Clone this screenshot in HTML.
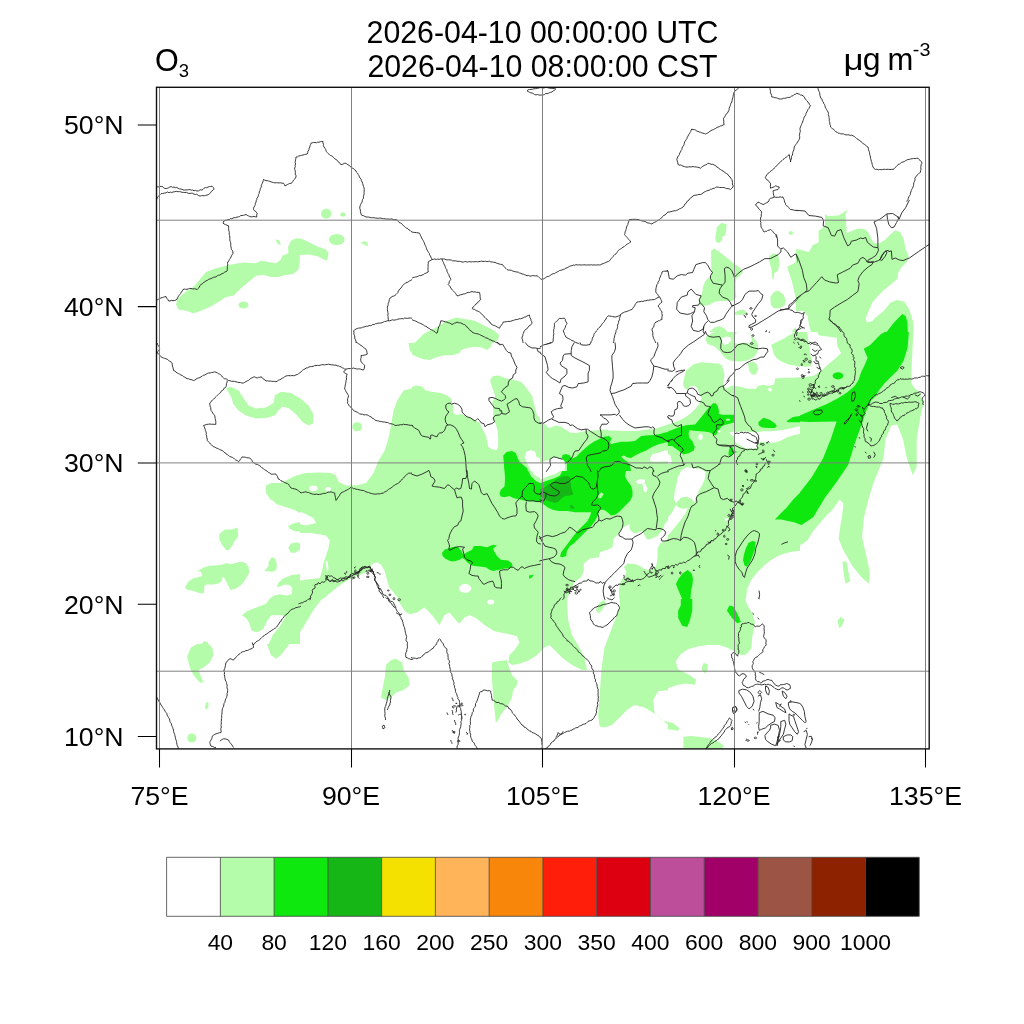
<!DOCTYPE html><html><head><meta charset="utf-8"><style>html,body{margin:0;padding:0;background:#fff;width:1024px;height:1024px;overflow:hidden}svg{display:block} svg text{will-change:transform}</style></head><body>
<svg width="1024" height="1024" viewBox="0 0 1024 1024">
<rect width="1024" height="1024" fill="#fff"/>
<g id="map"><defs>
<clipPath id="c_t11"><rect x="156" y="87" width="256.0" height="256.0"/></clipPath>
<clipPath id="c_t12"><rect x="412" y="87" width="256.0" height="256.0"/></clipPath>
<clipPath id="c_t13"><rect x="668" y="87" width="262" height="256"/></clipPath>
<clipPath id="c_z_ne"><rect x="796" y="200" width="134" height="132"/></clipPath>
<clipPath id="c_z_bj"><rect x="668" y="236" width="128" height="104"/></clipPath>
<clipPath id="c_t21"><rect x="156" y="343" width="256.0" height="256.0"/></clipPath>
<clipPath id="c_z22a"><rect x="412" y="343" width="128.0" height="128.0"/></clipPath>
<clipPath id="c_z22b"><rect x="540" y="343" width="128.0" height="128.0"/></clipPath>
<clipPath id="c_z22c"><rect x="412" y="471" width="128.0" height="128.0"/></clipPath>
<clipPath id="c_z22d"><rect x="540" y="471" width="128.0" height="128.0"/></clipPath>
<clipPath id="c_z23a"><rect x="668" y="332" width="132" height="132"/></clipPath>
<clipPath id="c_z23c"><rect x="668" y="464" width="132" height="135"/></clipPath>
<clipPath id="c_z23b"><rect x="800" y="332" width="130" height="68"/></clipPath>
<clipPath id="c_z_jp"><rect x="800" y="400" width="130" height="200"/></clipPath>
<clipPath id="c_t31"><rect x="156" y="599" width="256" height="150"/></clipPath>
<clipPath id="c_t32"><rect x="412" y="599" width="256" height="150"/></clipPath>
<clipPath id="c_t33"><rect x="668" y="599" width="262" height="150"/></clipPath>
<clipPath id="c_z21s"><rect x="157" y="500" width="143" height="144"/></clipPath>
<clipPath id="c_z23x"><rect x="668" y="380" width="66" height="66"/></clipPath>
<clipPath id="c_z_ph"><rect x="730" y="620" width="100" height="129"/></clipPath>
<clipPath id="c_ovl"><rect x="157" y="88" width="772" height="661"/></clipPath>
<clipPath id="cmap"><rect x="157" y="88" width="772" height="661"/></clipPath>
</defs><g clip-path="url(#cmap)">
<g clip-path="url(#c_t11)">
<polygon points="176.0,304.5 177.2,299.5 182.2,294.5 187.2,290.8 193.5,287.0 199.8,279.5 206.0,272.0 216.0,268.2 231.0,264.5 243.5,262.5 256.0,263.2 261.0,260.8 268.5,262.0 276.0,263.2 281.0,259.5 282.2,255.8 288.5,253.2 288.0,247.0 291.0,240.8 296.0,238.2 302.2,239.0 308.5,242.0 318.5,247.0 326.0,249.5 328.5,253.2 327.2,260.8 323.5,259.5 318.5,256.5 308.5,254.5 299.8,255.0 299.8,262.0 298.5,269.5 293.5,274.0 286.0,275.0 278.5,277.0 271.0,277.0 263.5,275.0 256.0,275.8 248.5,282.0 241.0,288.2 233.5,295.8 226.0,297.0 218.5,302.0 209.8,307.0 201.0,310.8 193.5,313.2 186.0,310.8 178.5,309.5" fill="#b4fcaa"/>
<ellipse cx="243.5" cy="305.0" rx="5.0" ry="3.5" fill="#b4fcaa"/>
<polygon points="275.5,239.5 278.5,240.0 281.0,244.0 279.8,245.0 277.2,243.2" fill="#b4fcaa"/>
<ellipse cx="326.2" cy="213.8" rx="5.2" ry="5.0" fill="#b4fcaa"/>
<ellipse cx="343.0" cy="214.5" rx="2.8" ry="2.0" fill="#b4fcaa"/>
<ellipse cx="336.8" cy="239.5" rx="7.8" ry="5.5" fill="#b4fcaa"/>
<polygon points="360.5,242.5 364.8,241.0 367.2,242.5 368.0,246.5 364.8,245.0" fill="#b4fcaa"/>
</g>
<g clip-path="url(#c_t12)">
<rect x="412" y="87" width="256.0" height="256.0" fill="#fff"/>
<polygon points="414.5,343.0 424.5,333.2 437.0,327.0 447.0,320.8 455.8,317.5 464.5,319.0 474.5,320.8 484.5,325.8 494.5,330.8 499.5,335.8 497.0,340.8 494.5,343.0" fill="#b4fcaa"/>
</g>
<g clip-path="url(#c_t13)">
<rect x="668" y="87" width="262" height="256" fill="#fff"/>
<polygon points="715.5,237.0 716.8,227.0 721.8,222.8 726.8,224.5 725.5,234.5 721.8,242.0 718.0,243.2" fill="#b4fcaa"/>
<ellipse cx="790.8" cy="233.0" rx="2.2" ry="2.0" fill="#b4fcaa"/>
<polygon points="824.2,215.8 833.0,215.8 843.0,213.2 846.8,209.5 846.0,219.5 848.0,232.0 858.0,229.5 868.0,232.0 875.5,237.0 875.5,262.0 824.2,262.0" fill="#b4fcaa"/>
</g>
<g clip-path="url(#c_z_ne)">
<rect x="796" y="200" width="134" height="132" fill="#fff"/>
<polygon points="796.0,249.0 802.4,250.3 808.9,252.2 812.8,245.1 818.6,242.5 818.6,230.9 825.0,225.8 825.0,214.2 828.2,216.1 838.5,215.5 847.6,209.7 845.6,214.2 846.3,225.8 846.9,233.5 851.4,230.9 857.9,228.4 864.3,229.0 868.2,232.2 870.8,237.4 873.3,242.5 878.5,243.8 884.9,240.0 890.1,234.8 895.3,230.3 900.4,232.2 903.6,238.7 905.6,249.0 908.8,256.7 906.9,261.9 901.7,267.0 897.8,273.5 897.8,278.6 890.1,285.1 883.7,290.2 877.2,296.7 872.1,303.1 868.2,312.1 865.6,318.6 866.9,322.5 872.1,321.2 875.9,317.3 883.7,310.9 890.1,303.1 896.5,299.9 904.3,301.8 909.4,309.6 913.3,322.5 913.9,334.1 811.5,334.1 808.9,323.7 807.6,316.0 803.7,310.9 796.0,310.9" fill="#b4fcaa"/>
<polygon points="884.9,334.1 894.0,322.5 902.3,314.1 905.6,316.0 907.5,322.5 907.9,334.1" fill="#0ee80e"/>
</g>
<g clip-path="url(#c_z_bj)">
<rect x="668" y="236" width="128" height="104" fill="#fff"/>
<polygon points="715.1,234.7 722.4,234.7 722.4,240.0 718.5,243.3 715.8,241.3" fill="#b4fcaa"/>
<polygon points="711.2,250.6 714.5,248.6 721.1,253.3 727.8,258.6 734.4,263.9 739.7,267.2 743.0,271.9 739.7,275.8 736.4,278.5 735.7,282.5 735.7,291.8 736.4,297.1 734.4,299.8 731.7,301.1 727.8,301.1 722.4,301.1 718.5,301.1 713.1,302.4 709.2,305.1 703.8,305.7 699.9,305.1 699.2,299.8 701.9,294.4 703.2,286.5 705.2,281.2 709.2,277.2 711.8,274.5 711.2,267.9 711.2,257.3" fill="#b4fcaa"/>
<polygon points="733.7,313.0 738.4,310.4 743.7,309.7 747.0,312.4 745.0,314.4 739.7,315.0 734.4,314.4" fill="#b4fcaa"/>
<polygon points="768.9,255.9 774.2,253.3 778.2,255.3 779.6,262.6 778.2,270.5 774.2,273.2 773.6,279.8 772.2,278.5 771.6,269.2 769.6,262.6" fill="#b4fcaa"/>
<polygon points="770.3,297.1 774.2,291.8 778.2,290.5 783.5,294.4 785.5,299.8 784.9,305.1 780.9,307.7 774.2,308.4 770.9,305.1" fill="#b4fcaa"/>
<polygon points="787.5,266.5 796.8,261.9 802.1,261.2 802.1,311.7 796.2,310.4 796.2,305.1 795.5,297.1 793.5,287.8 791.5,279.8 788.2,270.5" fill="#b4fcaa"/>
<polygon points="783.5,342.3 788.9,334.3 795.5,327.6 802.1,325.0 802.1,342.3" fill="#b4fcaa"/>
<polygon points="798.4,249.3 800.8,248.6 800.8,253.9 798.8,253.3" fill="#b4fcaa"/>
<polygon points="709.8,331.6 714.5,327.6 719.8,326.3 725.1,329.0 729.1,334.3 733.1,336.9 734.4,342.3 709.8,342.3" fill="#b4fcaa"/>
</g>
<g clip-path="url(#c_t21)">
<rect x="156" y="343" width="256.0" height="256.0" fill="#fff"/>
<polygon points="226.0,388.0 231.0,386.8 238.5,390.5 243.5,398.0 248.5,405.5 256.0,408.5 266.0,407.5 273.5,403.0 274.8,395.5 281.0,391.8 291.0,393.0 299.8,398.0 308.5,405.5 313.5,414.2 313.5,423.0 308.5,425.5 302.2,421.8 296.0,414.2 288.5,408.0 282.2,406.8 278.5,410.5 274.8,415.5 266.0,418.0 256.0,418.5 246.0,415.5 238.5,410.5 233.5,404.2 231.0,396.8" fill="#b4fcaa"/>
<ellipse cx="357.2" cy="426.8" rx="5.0" ry="4.5" fill="#b4fcaa"/>
<polygon points="413.5,388.0 403.5,390.5 397.2,400.5 393.5,410.5 391.0,425.5 388.5,438.0 384.8,450.5 378.5,460.5 373.5,473.0 366.0,483.0 356.0,485.5 346.0,485.5 338.5,481.8 336.0,475.5 331.0,473.0 318.5,472.5 306.0,473.0 296.0,475.5 288.5,479.2 281.0,483.0 271.0,483.0 266.0,485.5 266.0,493.0 271.0,500.5 278.5,505.5 291.0,509.2 303.5,513.0 313.5,518.0 316.0,523.0 306.0,525.5 296.0,523.0 289.8,525.5 288.5,529.2 296.0,533.0 311.0,533.0 326.0,535.5 329.8,540.5 328.5,548.0 326.0,555.5 323.5,563.0 322.2,570.5 319.8,578.0 308.5,579.2 301.0,580.5 291.0,576.8 281.0,580.5 276.0,588.0 273.5,600.5 413.5,600.5" fill="#b4fcaa"/>
<polygon points="219.8,533.0 228.5,529.2 237.2,528.0 237.2,538.0 231.0,545.5 227.2,550.5 222.2,546.8 219.8,540.5" fill="#b4fcaa"/>
<ellipse cx="294.0" cy="547.5" rx="5.5" ry="5.0" fill="#b4fcaa"/>
<polygon points="266.0,570.5 271.0,558.0 276.0,559.2 277.2,568.0 273.5,571.8" fill="#b4fcaa"/>
<polygon points="186.0,588.0 193.5,579.2 201.0,571.8 211.0,568.0 223.5,564.2 233.5,561.8 243.5,563.0 248.5,568.0 248.5,575.5 243.5,583.0 236.0,586.8 228.5,589.2 223.5,585.5 218.5,583.0 213.5,584.2 206.0,589.2 198.5,593.0 188.5,591.8" fill="#b4fcaa"/>
<polygon points="408.5,343.0 413.5,343.0 413.5,354.2 409.8,350.5" fill="#b4fcaa"/>
<polygon points="316.0,613.0 317.5,608.0 323.5,598.5 330.5,592.8 337.5,587.0 344.5,582.2 350.5,578.8 358.5,575.2 365.5,572.8 370.2,569.2 371.5,564.5 376.2,562.2 381.0,564.5 384.5,570.5 386.8,578.8 389.0,587.0 393.8,592.8 398.5,598.5 403.0,605.5 405.5,612.8" fill="#ffffff"/>
<polygon points="325.5,561.8 327.5,561.0 328.5,569.2 326.8,571.0" fill="#ffffff"/>
<ellipse cx="313.5" cy="488.2" rx="4.2" ry="2.8" fill="#ffffff"/>
<ellipse cx="328.2" cy="489.0" rx="2.8" ry="2.0" fill="#ffffff"/>
</g>
<g clip-path="url(#c_z22a)">
<rect x="412" y="343" width="128.0" height="128.0" fill="#fff"/>
<polygon points="411.4,342.4 492.0,342.4 490.8,346.8 487.0,349.9 482.0,347.4 474.5,346.8 467.0,348.0 461.4,349.9 459.5,353.0 453.2,354.9 443.2,355.5 435.8,357.4 429.5,359.9 423.2,359.2 417.0,356.8 411.4,354.2" fill="#b4fcaa"/>
<polygon points="411.4,386.8 417.0,385.5 422.0,386.8 425.8,390.5 432.0,391.8 440.8,393.0 447.0,395.5 451.4,398.6 452.0,403.0 454.5,410.5 457.0,414.2 462.0,414.2 467.0,416.8 470.8,418.0 475.8,420.5 479.5,423.0 482.6,429.2 485.8,435.5 487.0,440.5 488.2,446.8 492.0,449.2 497.0,449.9 498.2,446.8 498.2,438.0 497.6,430.5 495.8,424.2 493.9,420.5 493.2,413.0 493.2,406.8 492.0,401.8 494.5,399.2 495.1,395.5 493.2,390.5 491.4,385.5 490.1,379.9 493.2,376.1 498.2,375.5 502.0,376.8 505.8,378.6 512.0,379.2 515.8,380.5 520.8,381.8 524.5,385.5 528.2,390.5 532.0,395.5 533.9,403.0 535.8,410.5 537.0,415.5 540.8,418.0 540.8,471.8 411.4,471.8" fill="#b4fcaa"/>
<polygon points="453.2,405.5 458.2,404.2 461.4,408.0 467.0,408.6 467.6,411.1 462.0,411.8 459.5,414.2 455.8,414.9 453.2,412.4" fill="#ffffff"/>
<polygon points="524.5,456.8 526.4,451.8 530.8,450.2 535.1,451.8 536.4,456.8 540.8,458.6 540.8,471.8 531.4,471.8 527.0,463.0" fill="#ffffff"/>
<polygon points="503.2,455.5 507.0,451.8 512.0,451.1 515.8,453.0 517.6,458.0 519.5,461.8 523.2,464.9 527.0,468.0 528.2,471.8 504.5,471.8" fill="#0ee80e"/>
</g>
<g clip-path="url(#c_z22b)">
<rect x="540" y="343" width="128.0" height="128.0" fill="#fff"/>
<polygon points="539.4,421.1 543.8,423.0 548.8,428.0 552.5,426.8 556.2,425.5 561.2,426.8 565.0,429.2 570.0,432.4 576.2,433.0 581.2,432.0 586.2,430.5 591.2,431.1 597.5,429.9 605.0,429.5 610.0,430.5 615.0,430.5 622.5,431.1 627.5,431.1 635.0,431.1 640.0,430.5 643.8,429.9 648.8,429.2 653.8,429.2 658.8,427.4 665.0,425.5 668.8,424.2 668.8,471.8 539.4,471.8" fill="#b4fcaa"/>
<polygon points="650.0,458.0 652.5,454.2 658.8,452.4 665.0,450.5 668.8,450.5 668.8,461.1 661.2,461.5 652.5,461.8 650.0,460.5" fill="#ffffff"/>
<polygon points="539.4,463.0 550.0,459.2 553.8,457.4 560.0,458.6 563.8,460.5 565.0,465.5 564.4,471.8 539.4,471.8" fill="#ffffff"/>
<polygon points="561.9,458.0 562.5,454.9 566.2,454.0 570.0,455.5 571.9,458.6 576.2,456.8 581.2,451.8 586.9,446.8 590.0,444.2 593.8,441.8 598.8,439.2 603.8,436.8 608.8,436.1 611.9,438.6 610.0,441.8 611.2,444.2 615.0,443.0 621.2,441.8 627.5,441.8 635.0,441.1 638.8,438.0 641.2,436.1 646.2,435.5 652.5,434.9 658.8,434.2 665.0,432.4 668.8,431.8 668.8,441.8 663.8,443.0 658.8,444.2 652.5,446.8 646.2,450.5 640.0,453.0 635.0,455.5 631.2,458.0 627.5,457.4 623.8,455.5 621.2,456.8 623.8,459.2 627.5,461.8 630.0,465.5 631.2,471.8 566.9,471.8 566.9,463.0 563.8,460.5" fill="#0ee80e"/>
</g>
<g clip-path="url(#c_z22c)">
<rect x="412" y="471" width="128.0" height="128.0" fill="#fff"/>
<polygon points="411.4,470.4 540.8,470.4 540.8,599.8 411.4,599.8" fill="#b4fcaa"/>
<polygon points="532.0,470.4 540.8,470.4 540.8,477.9 535.8,476.0 533.2,473.5" fill="#ffffff"/>
<ellipse cx="465.1" cy="588.5" rx="6.2" ry="4.4" fill="#ffffff"/>
<polygon points="504.5,470.4 528.2,470.4 530.8,476.0 535.8,481.0 540.8,483.5 540.8,502.2 535.8,501.6 530.8,501.0 525.8,501.0 520.8,499.8 517.0,499.1 513.2,497.9 509.5,496.0 504.5,497.2 500.8,496.6 499.5,493.5 500.8,489.8 504.5,486.6 505.1,478.5" fill="#0ee80e"/>
<polygon points="442.0,552.9 444.5,549.8 449.5,547.9 454.5,546.6 458.2,547.2 461.4,551.0 463.2,554.8 467.0,552.2 472.0,549.8 473.9,546.0 480.8,546.0 487.0,547.2 490.1,546.0 493.2,544.8 497.0,545.4 493.2,548.5 493.9,551.0 497.0,556.0 500.8,559.8 508.2,560.4 512.0,563.5 512.6,566.0 509.5,568.5 504.5,568.5 499.5,569.8 493.2,571.0 489.5,569.8 485.8,567.2 479.5,566.6 474.5,566.0 472.0,565.4 469.5,564.1 467.0,562.2 465.1,559.8 462.0,557.9 459.5,559.8 455.8,561.0 452.0,561.6 448.9,560.4 445.1,558.5 442.6,556.0" fill="#0ee80e"/>
<polygon points="528.9,575.4 533.9,574.8 532.0,577.2 529.5,579.1" fill="#0ee80e"/>
</g>
<g clip-path="url(#c_z22d)">
<rect x="540" y="471" width="128.0" height="128.0" fill="#fff"/>
<polygon points="539.4,470.4 668.8,470.4 668.8,599.8 539.4,599.8" fill="#b4fcaa"/>
<polygon points="539.4,470.4 561.2,470.4 555.0,474.1 547.5,476.6 542.5,478.5 539.4,479.8" fill="#ffffff"/>
<polygon points="636.2,481.0 640.0,479.1 645.0,479.8 644.4,483.5 640.0,484.1 636.9,483.5" fill="#ffffff"/>
<polygon points="642.5,484.1 645.0,483.5 647.5,488.5 646.2,492.2 643.8,491.6" fill="#ffffff"/>
<polygon points="581.2,577.2 583.8,571.0 583.8,563.5 590.0,558.5 598.8,557.2 600.0,552.2 607.5,549.8 612.5,547.2 613.8,538.5 618.8,533.5 621.2,528.5 626.2,526.0 629.4,524.1 630.0,529.8 632.5,532.2 635.0,533.5 638.8,532.2 642.5,531.0 646.2,538.5 648.8,539.8 657.5,536.0 662.5,529.8 665.0,523.5 668.8,519.8 668.8,537.2 665.0,541.0 660.0,543.5 657.5,548.5 657.5,558.5 656.2,566.0 652.5,569.8 647.5,569.8 643.8,568.5 640.0,566.0 635.0,564.1 627.5,563.5 623.8,567.2 626.2,571.0 625.0,576.0 622.5,578.5 620.0,583.5 618.8,589.8 619.4,599.8 566.2,599.8 570.0,592.2 573.8,583.5 577.5,579.8" fill="#ffffff"/>
<polygon points="539.4,483.5 547.5,480.4 555.0,477.9 560.0,475.4 562.5,470.4 626.2,470.4 625.0,476.0 627.5,481.0 631.2,486.0 632.5,491.0 632.5,496.0 630.0,501.0 626.2,504.8 622.5,508.5 618.8,512.2 615.0,514.8 611.2,515.4 607.5,512.2 603.8,509.8 600.0,509.8 598.8,512.2 597.5,516.0 595.0,521.0 591.2,526.0 587.5,529.8 582.5,534.8 577.5,539.8 573.8,543.5 570.0,546.0 566.9,551.0 566.2,556.0 562.5,557.2 560.0,556.6 561.2,552.2 565.0,547.2 568.8,542.2 572.5,537.2 577.5,531.0 582.5,526.0 587.5,521.0 590.0,516.0 591.2,512.2 575.0,512.2 567.5,511.0 558.8,511.0 552.5,509.8 547.5,507.2 542.5,503.5 539.4,502.2" fill="#0ee80e"/>
<polygon points="598.1,496.0 601.2,492.2 603.8,494.1 601.2,497.9 598.8,498.5" fill="#b4fcaa"/>
<polygon points="539.4,489.8 545.0,487.2 547.5,484.8 552.5,482.2 557.5,478.5 562.5,476.6 567.5,476.0 570.0,477.2 570.6,482.2 571.2,487.2 572.5,492.2 573.8,494.1 570.0,495.4 565.0,496.0 561.2,498.5 558.8,501.6 555.0,502.9 550.0,501.6 546.2,499.8 542.5,497.2 539.4,496.6" fill="#17b617"/>
<polygon points="570.0,504.8 572.5,505.4 575.0,508.5 570.6,508.5" fill="#17b617"/>
</g>
<g clip-path="url(#c_z23a)">
<rect x="668" y="332" width="132" height="132" fill="#fff"/>
<polygon points="705.4,339.7 706.7,335.9 711.8,333.3 717.0,331.4 745.3,331.4 750.5,334.6 755.7,339.7 758.2,344.9 758.2,350.0 755.7,355.2 750.5,359.1 745.3,361.0 737.6,361.6 729.9,360.4 724.7,357.8 720.8,352.6 714.4,346.2 708.0,344.2" fill="#b4fcaa"/>
<polygon points="722.1,338.4 726.0,336.5 730.5,337.2 731.2,340.4 728.6,343.6 724.7,344.9 722.1,342.3" fill="#ffffff"/>
<polygon points="734.0,339.7 734.5,335.4 737.2,332.3 741.6,331.0 746.9,332.3 750.8,335.4 751.8,340.8 749.6,343.5 743.7,342.4 738.3,344.0 735.2,343.0" fill="#ffffff"/>
<polygon points="771.1,344.9 776.3,342.3 784.0,338.4 790.5,334.6 796.9,331.4 800.8,331.4 800.8,366.8 794.3,365.5 787.9,364.2 781.4,361.6 776.3,357.8 773.7,353.9 772.4,348.8" fill="#b4fcaa"/>
<polygon points="747.9,362.9 753.1,361.6 756.9,364.2 758.2,369.4 755.7,374.5 751.8,374.5 749.2,370.7" fill="#b4fcaa"/>
<polygon points="683.5,381.0 686.0,370.7 693.8,364.2 701.5,362.3 709.2,362.9 718.3,363.6 722.1,365.5 723.4,370.7 724.7,375.8 723.4,379.7 719.6,383.6 713.1,388.7 706.7,392.6 700.2,393.9 693.8,391.3 687.3,388.7 684.1,386.1" fill="#b4fcaa"/>
<polygon points="667.4,423.5 675.7,420.9 683.5,417.1 691.2,413.2 697.6,409.3 700.2,404.2 697.6,396.4 701.5,393.9 706.7,392.6 713.1,388.7 719.6,384.8 726.0,386.1 732.4,385.5 740.2,386.8 747.9,388.7 755.7,388.7 758.2,386.1 763.4,384.8 768.5,386.1 773.7,384.8 775.0,381.0 775.0,378.4 784.0,377.8 791.7,377.8 800.8,377.1 800.8,464.8 667.4,464.8" fill="#b4fcaa"/>
<polygon points="728.6,433.8 735.0,431.9 745.3,431.3 755.7,432.5 763.4,431.3 771.1,431.3 778.9,430.6 786.6,429.3 794.3,427.4 800.8,426.1 800.8,433.8 794.3,435.1 787.9,437.1 781.4,440.3 776.3,442.2 768.5,442.9 760.8,441.6 758.2,444.1 756.9,448.0 751.8,448.7 745.3,448.0 740.2,445.4 736.3,442.9 732.4,439.0" fill="#ffffff"/>
<ellipse cx="700.2" cy="437.4" rx="2.3" ry="2.8" fill="#ffffff"/>
<polygon points="767.3,389.4 769.8,387.4 772.4,389.4 770.5,391.9" fill="#ffffff"/>
<polygon points="667.4,453.2 670.6,455.7 671.9,460.9 670.6,464.8 667.4,464.8" fill="#ffffff"/>
<polygon points="758.2,422.2 763.4,417.7 769.8,419.7 775.0,423.5 776.9,426.1 775.0,428.0 768.5,428.0 762.1,427.4 758.9,425.5" fill="#0ee80e"/>
<polygon points="786.6,420.9 793.0,417.1 800.8,415.8 800.8,422.2 793.0,422.2 787.9,422.2" fill="#0ee80e"/>
<polygon points="697.6,422.2 704.1,414.5 709.2,409.3 713.1,404.2 717.0,404.2 718.3,409.3 719.6,414.5 727.3,414.5 733.7,415.8 735.0,418.4 732.4,422.2 728.6,423.5 722.1,424.8 718.3,426.1 715.7,431.3 714.4,435.1 710.5,435.1 704.1,432.5 697.6,431.3 689.9,430.0 688.0,433.8 688.6,437.7 692.5,441.6 695.1,445.4 693.8,450.6 688.6,453.2 683.5,454.5 678.3,450.6 673.2,446.7 669.3,444.1 667.4,442.9 667.4,432.5 673.2,430.0 680.9,426.1 688.6,424.8" fill="#0ee80e"/>
<polygon points="728.6,451.9 729.9,446.7 732.4,446.7 733.7,450.6 737.6,451.9 733.7,453.2 731.2,455.7 728.6,455.7" fill="#0ee80e"/>
<polygon points="724.7,419.7 728.6,418.4 729.9,420.9 726.0,420.9" fill="#b4fcaa"/>
</g>
<g clip-path="url(#c_z23c)">
<rect x="668" y="464" width="132" height="135" fill="#fff"/>
<polygon points="667.3,463.3 803.8,463.3 803.8,599.8 667.3,599.8" fill="#b4fcaa"/>
<polygon points="674.6,493.0 675.9,486.4 677.9,477.2 681.2,470.6 686.5,467.3 693.0,468.0 701.0,469.3 705.6,471.9 704.9,478.5 702.3,485.1 698.3,491.7 696.3,497.0 694.4,502.2 691.7,498.9 686.5,496.7 681.2,497.6 677.9,500.9 675.9,503.6 673.9,498.3" fill="#ffffff"/>
<polygon points="667.3,518.1 672.0,512.8 675.9,504.9 678.5,507.5 682.5,508.8 687.8,508.2 685.1,514.1 681.2,519.4 675.9,526.0 670.6,532.6 667.3,535.9" fill="#ffffff"/>
<polygon points="745.8,599.8 747.1,589.2 751.1,580.0 757.7,572.1 764.2,565.5 770.8,560.2 777.4,556.3 784.0,553.7 791.9,551.7 803.8,550.4 803.8,599.8" fill="#ffffff"/>
<polygon points="724.7,518.7 728.6,518.3 728.6,520.7 725.0,521.0" fill="#ffffff"/>
<polygon points="774.8,519.4 780.1,514.1 786.7,507.5 793.2,499.6 803.8,489.0 803.8,526.0 793.2,522.0 786.7,520.7 781.4,519.4" fill="#0ee80e"/>
<polygon points="743.8,555.0 745.8,548.4 748.4,543.1 752.4,541.1 755.7,541.8 755.0,548.4 753.0,555.0 750.4,561.6 747.1,566.8 744.5,565.5 743.1,560.2" fill="#0ee80e"/>
<polygon points="675.9,584.0 678.5,578.7 682.5,573.4 687.8,570.1 691.7,573.4 693.0,578.7 692.4,585.3 691.1,590.6 690.4,599.8 682.5,599.8 678.5,590.6" fill="#0ee80e"/>
</g>
<g clip-path="url(#c_z23b)">
<rect x="800" y="332" width="130" height="68" fill="#fff"/>
<polygon points="797.4,331.4 930.8,331.4 930.8,464.8 797.4,464.8" fill="#b4fcaa"/>
<polygon points="807.0,331.4 817.3,331.4 818.6,335.2 836.7,337.8 837.3,346.2 841.2,353.3 834.7,359.1 828.3,364.2 821.2,370.7 813.5,375.8 805.7,377.1 797.4,377.8 797.4,365.5 805.7,366.8 810.9,366.2 812.2,361.0 810.2,353.9 809.0,344.9" fill="#ffffff"/>
<polygon points="913.4,331.4 930.8,331.4 930.8,401.6 921.1,401.6 920.5,392.6 915.3,388.7 911.4,383.6 911.4,370.7 912.1,357.8 912.7,344.9" fill="#ffffff"/>
<polygon points="863.7,348.8 870.2,344.9 875.3,339.7 880.5,334.6 885.7,331.4 908.9,331.4 907.6,347.5 903.7,360.4 897.3,370.7 890.8,377.1 884.4,383.6 879.2,390.0 875.3,396.4 870.2,401.6 865.0,406.8 861.2,413.2 857.3,422.2 852.1,435.1 849.6,448.0 847.0,464.8 819.9,464.8 827.6,448.0 834.1,432.5 839.2,420.9 823.8,420.9 810.9,419.7 797.4,417.1 797.4,414.5 810.9,408.1 823.8,404.2 836.7,399.0 847.0,392.6 854.7,386.1 858.6,379.7 861.2,372.0 865.0,364.2 867.6,357.8" fill="#0ee80e"/>
<ellipse cx="838.0" cy="375.8" rx="5.4" ry="3.6" fill="#0ee80e"/>
</g>
<g clip-path="url(#c_z_jp)">
<rect x="800" y="400" width="130" height="200" fill="#fff"/>
<polygon points="779.0,399.0 981.2,399.0 981.2,601.2 779.0,601.2" fill="#b4fcaa"/>
<polygon points="883.5,458.6 885.5,439.1 891.3,425.4 897.2,424.4 903.0,439.1 907.0,458.6 912.8,475.2 916.7,466.4 916.7,439.1 920.6,415.6 924.5,399.0 936.2,399.0 936.2,601.2 868.9,601.2 868.9,583.6 869.8,571.9 865.9,554.3 862.0,536.7 864.0,517.2 867.9,501.6 873.8,482.0 878.6,470.3" fill="#ffffff"/>
<polygon points="779.0,552.3 789.8,548.4 801.5,544.5 807.3,540.6 813.2,530.9 824.9,517.2 832.7,509.4 839.6,499.6 843.5,503.5 842.5,513.3 840.5,525.0 838.6,538.7 842.5,548.4 852.3,566.0 862.0,577.7 868.9,583.6 868.9,601.2 779.0,601.2" fill="#ffffff"/>
<polygon points="842.5,562.1 846.4,561.1 850.3,581.6 845.4,583.6 843.5,571.9" fill="#b4fcaa"/>
<polygon points="779.0,429.3 787.8,427.3 799.5,427.3 797.6,432.2 787.8,437.1 779.0,440.0" fill="#ffffff"/>
<polygon points="787.8,419.5 799.5,415.6 813.2,409.8 826.9,403.9 836.6,399.0 871.8,399.0 865.9,411.7 862.0,423.4 854.2,444.9 848.4,464.5 836.6,482.0 824.9,497.7 813.2,517.2 801.5,525.0 789.8,521.1 779.0,517.2 779.0,511.3 795.6,497.7 811.2,478.1 823.0,458.6 830.8,439.1 836.6,421.5 809.3,421.9 787.8,421.1" fill="#0ee80e"/>
</g>
<g clip-path="url(#c_t31)">
<rect x="156" y="599" width="256" height="150" fill="#fff"/>
<polygon points="242.2,615.0 251.0,608.8 261.0,605.0 271.0,597.5 281.0,595.0 291.0,595.0 296.0,588.8 331.0,588.8 328.5,593.8 321.0,600.0 313.5,610.0 306.0,622.5 298.5,635.0 288.5,645.0 281.0,655.0 276.0,658.8 271.0,655.0 267.2,645.0 268.5,637.5 276.0,630.0 283.5,620.0 281.0,615.0 271.0,615.0 266.0,622.5 263.5,630.0 256.0,631.2 249.8,627.5 247.2,620.0" fill="#b4fcaa"/>
<polygon points="187.2,656.2 191.0,647.5 199.8,642.5 207.2,642.5 212.2,647.5 213.5,655.0 209.8,662.5 203.5,667.5 198.5,670.0 201.0,676.2 203.5,682.5 199.8,682.5 193.5,675.0 189.8,667.5" fill="#b4fcaa"/>
<polygon points="204.8,707.5 206.0,702.5 208.5,702.0 208.5,707.5 206.0,709.5" fill="#b4fcaa"/>
<ellipse cx="191.8" cy="738.0" rx="4.5" ry="4.5" fill="#b4fcaa"/>
<polygon points="386.0,665.0 391.0,660.0 396.0,658.8 402.2,662.5 403.5,670.0 408.5,677.5 409.8,685.0 403.5,690.0 396.0,692.5 391.0,697.5 386.0,700.0 381.0,697.5 382.2,690.0 384.8,677.5" fill="#b4fcaa"/>
<polygon points="391.0,588.8 413.5,588.8 413.5,615.0 406.0,612.5 401.0,605.0 396.0,597.5" fill="#b4fcaa"/>
</g>
<g clip-path="url(#c_t32)">
<rect x="412" y="599" width="256" height="150" fill="#fff"/>
<polygon points="410.8,588.8 568.2,588.8 567.0,605.0 568.2,620.0 572.0,635.0 579.5,647.5 584.5,657.5 587.0,670.0 582.0,670.0 572.0,665.0 562.0,657.5 554.5,650.0 549.5,645.0 544.5,647.5 537.0,655.0 529.5,660.0 519.5,663.8 512.0,665.0 508.2,662.5 509.5,655.0 514.5,650.0 519.5,642.5 517.0,636.2 507.0,633.8 494.5,631.2 484.5,625.0 477.0,618.8 469.5,615.0 464.5,617.5 459.5,623.8 455.8,620.0 449.5,612.5 444.5,615.0 439.5,625.0 432.0,615.0 424.5,607.5 417.0,612.5 410.8,613.8" fill="#b4fcaa"/>
<ellipse cx="490.8" cy="602.0" rx="3.5" ry="2.5" fill="#ffffff"/>
<polygon points="619.5,588.8 669.5,588.8 669.5,690.0 658.2,691.2 653.2,700.0 654.5,712.5 662.0,720.0 669.5,722.5 669.5,726.2 657.0,715.0 644.5,707.5 634.5,705.0 627.0,710.0 619.5,717.5 612.0,725.0 604.5,727.5 599.5,726.2 598.2,715.0 599.5,697.5 600.8,677.5 602.0,665.0 604.5,647.5 612.0,627.5 617.0,615.0 620.0,605.0" fill="#b4fcaa"/>
<polygon points="492.0,662.5 498.2,661.2 507.0,660.0 508.2,665.0 512.0,675.0 517.0,680.0 517.0,685.0 513.2,690.0 512.0,697.5 508.2,705.0 504.5,710.0 500.8,715.0 498.2,720.0 495.8,722.5 494.5,710.0 493.2,695.0 492.0,680.0" fill="#b4fcaa"/>
<polygon points="595.8,610.0 599.5,602.5 604.5,600.0 605.8,605.0 602.0,610.0 598.2,613.8" fill="#b4fcaa"/>
</g>
<g clip-path="url(#c_t33)">
<rect x="668" y="599" width="262" height="150" fill="#fff"/>
<polygon points="666.7,588.7 744.8,588.7 744.8,597.7 747.3,605.4 752.4,613.0 755.0,623.3 752.4,636.1 751.2,648.9 744.8,655.3 737.1,654.0 732.0,650.1 726.9,647.6 719.2,645.0 708.9,645.0 698.7,646.3 688.5,648.9 680.8,654.0 675.7,661.6 678.2,669.3 688.5,674.4 696.1,679.6 694.9,684.7 685.9,683.4 678.2,684.7 670.6,687.2 666.7,688.5" fill="#b4fcaa"/>
<polygon points="678.2,610.5 680.8,605.4 680.8,595.1 679.5,588.7 691.0,588.7 692.3,597.7 692.3,610.5 689.8,620.7 687.2,627.1 682.1,625.8 678.2,618.1" fill="#0ee80e"/>
<polygon points="726.9,610.5 729.4,605.4 733.3,606.6 737.1,613.0 740.9,622.0 737.1,623.3 732.0,618.1" fill="#0ee80e"/>
<polygon points="701.8,666.8 703.8,662.9 707.7,664.2 707.7,670.6 705.1,673.2 701.8,670.6" fill="#b4fcaa"/>
<polygon points="837.4,620.7 840.7,616.9 844.6,619.4 842.0,625.8 839.4,628.4" fill="#b4fcaa"/>
<polygon points="666.7,721.8 673.1,723.1 679.5,728.2 678.2,730.7 670.6,729.5 666.7,729.5" fill="#b4fcaa"/>
<polygon points="683.4,737.1 691.0,735.9 701.3,737.1 711.5,738.4 719.2,742.3 724.3,746.1 719.2,751.2 683.4,751.2" fill="#b4fcaa"/>
</g>
<g clip-path="url(#c_z21s)">
<rect x="157" y="500" width="143" height="144" fill="#fff"/>
<polygon points="271.3,499.3 276.9,504.2 285.4,507.0 293.8,509.8 300.8,513.4 300.8,499.3" fill="#b4fcaa"/>
<polygon points="288.2,526.0 293.8,523.2 300.8,521.8 300.8,531.6 295.2,531.6 289.6,528.8" fill="#b4fcaa"/>
<polygon points="288.2,547.8 291.0,543.6 296.6,542.2 300.8,543.6 300.8,549.2 295.2,552.7 291.0,552.7" fill="#b4fcaa"/>
<polygon points="264.3,571.0 268.5,566.1 268.5,561.9 272.0,557.0 275.5,559.1 276.9,564.7 276.2,570.3 272.7,571.7" fill="#b4fcaa"/>
<polygon points="184.8,587.9 188.3,581.6 194.0,578.0 198.2,577.3 202.4,575.9 201.0,571.7 197.5,571.0 203.8,567.5 209.4,565.8 220.7,565.0 226.3,563.3 231.9,564.0 237.6,562.6 241.8,561.6 246.0,563.3 248.8,567.5 249.1,573.1 246.0,578.8 241.8,584.4 236.2,588.6 230.5,590.0 227.7,584.4 224.9,578.8 222.8,576.6 221.4,581.6 217.9,583.7 212.3,584.4 206.6,584.4 204.5,585.8 203.8,593.5 198.2,592.8 192.6,590.7 188.3,590.0" fill="#b4fcaa"/>
<polygon points="219.3,539.4 219.3,533.8 224.9,529.5 231.9,529.5 237.6,527.4 238.3,536.6 234.8,540.8 232.6,545.0 229.1,549.9 226.3,550.3 222.1,545.0" fill="#b4fcaa"/>
<polygon points="300.8,573.8 291.0,575.2 282.6,578.8 278.3,583.0 276.9,587.2 279.8,586.5 285.4,584.4 289.6,585.1 292.4,588.6 291.7,594.2 286.8,595.6 279.8,594.2 274.1,595.6 269.9,598.4 265.7,604.1 254.4,608.3 247.4,611.1 241.8,615.3 246.0,618.1 248.8,622.3 251.6,630.8 257.3,632.2 262.9,629.4 267.1,620.9 271.3,615.3 282.6,615.3 285.4,616.7 279.8,626.6 272.7,635.0 268.5,644.8 300.8,644.8" fill="#b4fcaa"/>
<polygon points="201.0,644.8 203.8,641.3 207.3,642.0 208.7,644.8" fill="#b4fcaa"/>
</g>
<g clip-path="url(#c_z23x)">
<rect x="668" y="380" width="66" height="66" fill="#fff"/>
<polygon points="667.7,379.7 734.4,379.7 734.4,446.4 667.7,446.4" fill="#b4fcaa"/>
<polygon points="667.7,379.7 683.5,379.7 683.1,384.5 684.4,387.7 687.3,389.7 690.6,386.1 695.1,386.1 697.6,388.4 699.6,394.2 701.5,398.0 698.9,404.5 695.7,408.4 690.6,413.5 684.1,418.0 677.7,421.2 671.2,423.2 667.7,424.5" fill="#ffffff"/>
<polygon points="723.4,379.7 734.4,379.7 734.4,385.2 729.9,386.4 727.3,388.4 724.7,387.7 723.4,383.9" fill="#ffffff"/>
<polygon points="667.7,431.5 674.4,429.0 680.9,426.4 687.3,425.1 695.1,424.5 698.9,419.9 704.1,413.5 709.2,407.1 713.1,403.2 715.7,403.2 717.6,405.8 718.9,410.3 718.9,414.1 722.8,414.8 734.4,414.8 734.4,422.5 729.2,423.8 724.7,425.1 721.5,426.4 718.9,430.3 717.0,433.5 715.7,435.4 713.1,434.1 709.2,432.2 704.1,431.5 696.4,430.9 689.3,430.3 688.6,433.5 689.3,438.0 692.5,441.2 694.4,446.4 667.7,446.4" fill="#0ee80e"/>
<polygon points="726.0,418.7 729.9,418.7 730.0,420.6 726.1,420.7" fill="#b4fcaa"/>
<ellipse cx="700.5" cy="437.0" rx="2.1" ry="2.9" fill="#ffffff"/>
<polygon points="717.0,430.9 719.5,429.9 720.8,431.5 718.9,432.8" fill="#ffffff"/>
<polygon points="729.2,432.8 734.4,431.5 734.4,436.7 731.8,435.4" fill="#ffffff"/>
</g>
<g clip-path="url(#c_z_ph)">
</g>
<g clip-path="url(#c_ovl)">
</g>
<mask id="m_t11" maskUnits="userSpaceOnUse" x="0" y="0" width="1024" height="1024"><rect x="154.4" y="85.4" width="259.20000000000005" height="259.20000000000005" fill="#fff"/><rect x="413.6" y="88.6" width="252.79999999999995" height="252.79999999999998" fill="#000"/><rect x="669.6" y="88.6" width="258.79999999999995" height="252.79999999999998" fill="#000"/><rect x="797.6" y="201.6" width="130.79999999999995" height="128.79999999999998" fill="#000"/><rect x="669.6" y="237.6" width="124.79999999999995" height="100.79999999999998" fill="#000"/><rect x="157.6" y="344.6" width="252.79999999999998" height="252.79999999999995" fill="#000"/><rect x="413.6" y="344.6" width="124.79999999999995" height="124.79999999999995" fill="#000"/><rect x="541.6" y="344.6" width="124.79999999999995" height="124.79999999999995" fill="#000"/><rect x="413.6" y="472.6" width="124.79999999999995" height="124.79999999999995" fill="#000"/><rect x="541.6" y="472.6" width="124.79999999999995" height="124.79999999999995" fill="#000"/><rect x="669.6" y="333.6" width="128.79999999999995" height="128.79999999999995" fill="#000"/><rect x="669.6" y="465.6" width="128.79999999999995" height="131.79999999999995" fill="#000"/><rect x="801.6" y="333.6" width="126.79999999999995" height="64.79999999999995" fill="#000"/><rect x="801.6" y="401.6" width="126.79999999999995" height="196.79999999999995" fill="#000"/><rect x="157.6" y="600.6" width="252.79999999999998" height="146.79999999999995" fill="#000"/><rect x="413.6" y="600.6" width="252.79999999999995" height="146.79999999999995" fill="#000"/><rect x="669.6" y="600.6" width="258.79999999999995" height="146.79999999999995" fill="#000"/><rect x="158.6" y="501.6" width="139.79999999999998" height="140.79999999999995" fill="#000"/><rect x="669.6" y="381.6" width="62.799999999999955" height="62.799999999999955" fill="#000"/></mask>
<g mask="url(#m_t11)">
<polyline fill="none" stroke="#222" stroke-width="0.9" stroke-linejoin="round" points="156.0,300.0 157.3,299.8 158.5,299.2 159.8,298.8 160.9,297.9 162.2,297.7 163.4,297.2 164.7,296.8 166.0,296.5 166.6,298.1 167.8,299.4 168.5,301.0 170.0,300.9 171.5,300.4 173.0,300.7 174.5,300.5 176.0,300.0 177.0,299.1 177.6,297.9 178.0,296.6 179.1,295.6 179.8,294.5 180.7,293.4 181.4,292.0 182.4,290.9 183.0,289.5 184.3,289.1 185.7,289.3 187.0,289.3 188.3,288.9 189.6,288.4 191.0,288.5 192.5,288.9 194.2,288.7 195.7,289.1 197.2,289.5 198.3,288.3 199.3,287.1 199.9,285.6 201.0,284.5 202.4,283.8 203.4,282.5 204.9,281.8 206.0,280.8 207.3,280.4 208.4,279.5 209.7,279.0 211.0,278.6 212.2,278.0 213.4,277.3 214.8,277.1 216.1,276.8 217.2,275.8 218.4,275.2 219.8,275.1 221.0,274.3 222.1,273.5 223.5,273.2 224.6,272.2 226.0,271.6 227.2,270.8 227.3,269.3 227.4,267.8 227.3,266.4 227.8,264.9 227.5,263.4 227.8,262.0 228.8,260.9 229.4,259.5 230.3,258.3 231.0,257.0 231.5,255.7 232.3,254.5 233.0,253.2 232.8,251.9 232.5,250.6 231.5,249.6 231.2,248.3 231.0,247.0 230.7,245.6 230.8,244.1 230.6,242.7 230.1,241.3 229.8,239.9 229.8,238.4 229.8,237.0 229.6,235.6 229.2,234.2 229.3,232.8 229.1,231.4 228.7,230.0 228.6,228.6 228.6,227.2 228.5,225.8 227.0,225.3 225.7,224.5 224.3,224.1 223.0,223.2 223.5,222.0 224.0,220.8 225.3,220.3 226.6,220.2 227.9,219.7 229.3,219.6 230.4,218.6 231.8,218.7 233.0,218.0 234.3,217.7 235.7,217.6 237.0,217.1 238.3,216.9 239.6,216.5 240.7,215.6 242.1,215.5 243.4,215.3 244.7,214.9 246.0,214.5 247.2,215.3 248.5,215.9 249.8,216.5 251.1,216.9 252.6,216.7 254.0,216.5 255.4,216.8 256.8,217.0 256.7,215.1 257.2,213.2 256.3,212.3 255.6,211.2 254.3,210.6 253.5,209.5 253.6,208.2 254.1,206.9 254.8,205.8 255.3,204.5 255.4,203.2 256.1,202.0 256.2,200.7 256.8,199.5 256.9,198.1 257.9,197.1 258.3,195.8 258.5,194.5 259.2,193.4 259.2,191.9 259.9,190.8 260.2,189.5 260.5,188.2 261.3,187.1 261.3,185.7 261.7,184.4 262.3,183.3 262.8,182.0 263.2,180.8 263.5,179.5 264.7,180.1 265.9,180.6 267.3,180.6 268.5,181.0 269.8,181.3 271.0,181.9 272.2,182.2 273.5,182.5 274.9,182.9 276.4,182.7 277.8,182.8 279.2,182.9 280.7,182.8 282.1,183.2 283.5,183.2 284.4,184.4 284.8,185.8 286.1,185.4 287.2,184.6 288.5,184.0 289.7,183.4 291.1,183.3 292.2,182.5 292.9,181.3 293.5,180.2 294.6,179.3 295.3,178.1 296.0,177.0 296.0,175.5 295.2,174.1 295.4,172.5 295.2,171.0 294.8,169.5 294.6,168.1 295.3,166.7 295.1,165.3 295.6,164.0 295.1,162.5 295.3,161.1 295.6,159.8 295.8,158.4 296.0,157.0 297.5,156.9 298.7,156.0 300.2,155.7 301.6,155.4 303.0,155.0 304.4,154.6 305.8,154.3 307.2,154.0 307.7,152.6 307.9,151.1 309.0,149.9 309.1,148.3 309.8,147.0 310.1,145.7 310.6,144.5 311.0,143.2 312.3,142.8 313.6,142.5 315.0,142.5 316.4,142.8 317.6,142.1 319.0,142.3 320.3,141.7 321.6,141.4 323.0,141.5 322.9,142.9 323.5,144.3 323.4,145.7 324.0,147.0 325.0,148.3 325.8,149.7 326.2,151.3 327.2,152.5 328.2,153.6 329.3,154.4 330.3,155.4 331.7,155.9 332.9,156.6 333.8,157.8 334.8,158.8 336.0,159.5 337.2,160.3 337.9,161.6 339.2,162.3 339.9,163.6 341.0,164.5 342.7,164.3 344.3,163.4 346.0,163.2 347.1,164.4 348.7,164.9 349.7,166.1 351.0,167.0 352.2,168.0 353.7,168.7 354.7,169.8 356.0,170.8 356.4,172.1 357.5,173.2 358.2,174.4 359.0,175.7 359.4,177.0 360.3,178.2 361.1,179.3 361.4,180.8 362.2,182.0 362.6,183.5 363.1,185.0 363.5,186.5 364.1,187.9 364.2,189.5 364.2,191.0 364.0,192.4 364.2,193.9 363.7,195.3 363.4,196.8 363.5,198.2 362.6,199.4 362.3,200.7 362.1,202.1 361.2,203.2 360.7,204.4 360.2,205.7 359.8,207.0 359.8,208.5 360.4,210.0 360.4,211.5 360.8,213.0 361.0,214.5 362.1,215.4 363.5,215.7 364.7,216.4 366.0,217.0 367.4,217.0 368.7,217.0 370.1,217.6 371.4,217.7 372.8,217.7 374.2,217.7 375.5,218.1 376.9,218.2 378.3,218.3 379.7,218.0 381.0,218.2 382.3,218.5 383.7,218.7 385.1,218.8 386.4,219.0 387.8,219.0 389.2,219.1 390.5,219.1 391.9,218.9 393.2,219.6 394.6,219.6 396.0,219.5 397.2,220.3 398.1,221.3 399.0,222.4 400.4,223.0 401.6,223.7 402.6,224.6 403.5,225.8 404.6,226.5 405.5,227.5 406.6,228.2 407.9,228.7 408.7,229.8 410.0,230.3 410.9,231.3 412.0,232.0"/>
<polyline fill="none" stroke="#222" stroke-width="0.9" stroke-linejoin="round" points="412.0,279.5 410.9,280.3 409.5,280.8 408.5,281.9 407.1,282.4 405.8,282.9 404.7,283.7 403.5,284.5 402.6,285.6 401.9,286.8 401.2,287.9 400.0,288.8 399.2,290.0 398.3,291.0 397.9,292.5 397.0,293.5 396.0,294.5 394.9,295.5 393.6,296.1 392.1,296.5 391.0,297.5 389.8,298.2 389.3,299.5 389.2,300.8 388.9,302.1 388.2,303.2 388.2,304.6 387.9,305.8 387.2,307.0 387.5,308.4 387.4,309.8 387.7,311.1 387.8,312.5 388.2,313.8 387.7,315.3 388.2,316.6 388.0,318.0 388.4,319.4 388.5,320.8"/>
<polyline fill="none" stroke="#222" stroke-width="0.9" stroke-linejoin="round" points="356.0,343.0 356.0,341.4 355.6,340.0 354.8,338.6 354.8,337.0 354.5,335.4 353.8,333.9 354.0,332.3 353.5,330.8 354.8,329.9 356.0,329.0 357.3,328.5 358.5,328.1 359.9,328.0 361.3,327.9 362.5,327.3 363.8,327.0 365.1,326.7 366.4,326.2 367.8,326.3 369.0,325.5 370.4,325.7 371.7,325.3 372.8,324.4 374.2,324.6 375.4,323.7 376.8,323.6 378.0,323.1 379.4,323.1 380.8,323.0 382.1,322.7 383.3,322.1 384.5,321.5 385.9,321.4 387.1,320.8 388.5,320.8 389.9,320.8 391.2,320.3 392.5,319.8 393.9,320.2 395.2,319.9 396.6,319.7 397.9,319.1 399.2,318.9 400.6,318.8 401.9,318.5 403.3,318.9 404.6,318.1 406.0,318.2 407.5,318.4 409.0,318.0 410.5,318.0 412.0,318.2"/>
</g>
<mask id="m_t12" maskUnits="userSpaceOnUse" x="0" y="0" width="1024" height="1024"><rect x="410.4" y="85.4" width="259.20000000000005" height="259.20000000000005" fill="#fff"/><rect x="669.6" y="88.6" width="258.79999999999995" height="252.79999999999998" fill="#000"/><rect x="797.6" y="201.6" width="130.79999999999995" height="128.79999999999998" fill="#000"/><rect x="669.6" y="237.6" width="124.79999999999995" height="100.79999999999998" fill="#000"/><rect x="157.6" y="344.6" width="252.79999999999998" height="252.79999999999995" fill="#000"/><rect x="413.6" y="344.6" width="124.79999999999995" height="124.79999999999995" fill="#000"/><rect x="541.6" y="344.6" width="124.79999999999995" height="124.79999999999995" fill="#000"/><rect x="413.6" y="472.6" width="124.79999999999995" height="124.79999999999995" fill="#000"/><rect x="541.6" y="472.6" width="124.79999999999995" height="124.79999999999995" fill="#000"/><rect x="669.6" y="333.6" width="128.79999999999995" height="128.79999999999995" fill="#000"/><rect x="669.6" y="465.6" width="128.79999999999995" height="131.79999999999995" fill="#000"/><rect x="801.6" y="333.6" width="126.79999999999995" height="64.79999999999995" fill="#000"/><rect x="801.6" y="401.6" width="126.79999999999995" height="196.79999999999995" fill="#000"/><rect x="157.6" y="600.6" width="252.79999999999998" height="146.79999999999995" fill="#000"/><rect x="413.6" y="600.6" width="252.79999999999995" height="146.79999999999995" fill="#000"/><rect x="669.6" y="600.6" width="258.79999999999995" height="146.79999999999995" fill="#000"/><rect x="158.6" y="501.6" width="139.79999999999998" height="140.79999999999995" fill="#000"/><rect x="669.6" y="381.6" width="62.799999999999955" height="62.799999999999955" fill="#000"/></mask>
<g mask="url(#m_t12)">
<polyline fill="none" stroke="#222" stroke-width="0.9" stroke-linejoin="round" points="412.0,232.0 413.5,232.4 415.0,232.4 416.5,232.7 418.0,232.8 419.5,233.2 420.1,234.4 420.5,235.7 421.2,236.8 421.6,238.1 422.3,239.2 423.1,240.3 423.6,241.5 424.3,242.7 424.5,244.1 425.2,245.2 425.8,246.3 426.2,247.6 426.6,248.9 427.2,250.1 427.8,251.2 428.5,252.4 429.4,253.4 429.5,254.8 430.4,255.9 430.9,257.1 431.5,258.3 432.0,259.5 433.4,259.3 434.8,259.0 436.3,259.5 437.7,259.0 439.2,259.4 440.6,258.9 442.0,259.0 443.4,258.9 444.7,259.1 446.0,259.7 447.3,259.9 448.7,259.8 450.0,259.9 451.4,260.1 452.6,260.9 454.0,260.8 455.4,260.9 456.7,261.1 458.0,261.4 459.4,261.3 460.7,261.5 462.0,262.0 463.3,262.1 464.6,261.6 465.9,261.6 467.2,262.1 468.5,261.7 469.9,261.6 471.2,262.0 472.5,261.7 473.8,261.8 475.1,261.7 476.4,261.6 477.7,261.9 479.0,261.6 480.3,261.4 481.6,261.2 483.0,261.4 484.3,261.4 485.6,261.2 486.9,261.7 488.2,261.4 489.5,261.2 490.8,261.9 492.3,262.0 493.7,262.3 495.1,262.4 496.4,263.1 497.8,263.5 499.2,264.0 500.6,264.3 502.0,264.5 503.2,265.3 504.0,266.5 504.9,267.6 506.0,268.5 507.0,269.5 508.4,270.1 509.9,270.1 511.4,270.3 512.7,271.0 514.1,271.4 515.5,271.8 517.0,272.0 518.4,272.2 519.5,273.0 520.8,273.3 522.0,274.0 523.3,274.1 524.5,274.7 525.8,275.2 527.0,275.8 528.4,275.4 529.9,276.1 531.3,276.0 532.7,275.5 534.1,275.8 535.6,275.9 537.0,275.8 538.3,276.6 539.4,277.7 540.6,278.8 542.0,279.5 543.3,279.0 544.5,278.3 545.8,277.6 546.8,276.7 548.3,276.5 549.5,275.8 550.7,275.1 551.9,274.2 553.2,273.7 554.6,273.5 555.8,272.7 557.0,272.0 558.2,271.5 559.4,270.6 560.7,270.4 562.0,270.0 563.3,269.4 564.6,269.0 565.8,268.2 567.1,267.8 568.2,267.1 569.4,266.4 570.7,265.9 572.1,265.7 573.2,265.0 574.6,265.3 575.9,264.7 577.2,264.9 578.5,264.9 579.8,264.8 581.1,265.1 582.4,264.9 583.8,264.9 585.1,264.8 586.4,265.1 587.7,264.9 589.0,265.0 590.3,264.9 591.6,264.8 592.9,265.1 594.2,264.9 595.6,265.0 596.9,265.0 598.2,264.8 599.5,265.0 600.9,264.7 602.0,263.9 603.3,263.6 604.6,263.0 605.8,262.5 607.0,261.9 608.3,261.5 609.5,260.8 610.4,259.7 611.2,258.6 612.1,257.6 613.1,256.6 613.8,255.5 614.8,254.5 616.1,253.8 616.9,252.7 617.6,251.5 618.4,250.4 619.5,249.5 620.7,248.9 621.8,248.1 622.9,247.3 624.1,246.7 625.1,245.7 626.2,245.0 627.2,244.0 628.5,243.5 629.6,242.7 630.8,242.0 630.0,240.8 629.0,239.8 628.1,238.7 627.3,237.6 626.3,236.6 625.4,235.6 624.5,234.5 625.0,233.3 625.1,231.9 625.7,230.7 626.1,229.5 626.4,228.2 626.7,226.9 627.1,225.7 627.9,224.5 628.0,223.2 628.6,222.0 629.0,220.7 629.5,219.5 631.0,219.5 632.4,219.3 633.9,219.4 635.3,219.2 636.8,219.5 638.2,219.5 639.5,220.0 640.7,220.5 641.9,220.9 643.2,221.1 644.5,221.5 645.8,221.8 646.9,222.6 648.2,223.1 649.5,223.1 650.7,223.7 652.0,224.0 653.1,223.0 654.4,222.4 655.8,221.9 656.9,220.8 658.3,220.3 659.5,219.5 660.5,218.5 661.8,217.8 662.6,216.6 663.5,215.5 665.0,215.0 666.0,214.1 666.9,212.9 668.0,212.0"/>
<polyline fill="none" stroke="#222" stroke-width="0.9" stroke-linejoin="round" points="432.0,259.5 430.8,260.4 429.3,260.9 428.2,262.0 428.3,263.4 428.0,264.9 428.1,266.3 428.1,267.7 427.9,269.1 428.1,270.6 428.2,272.0 427.0,272.5 425.8,273.3 424.4,273.6 423.4,274.7 422.0,275.0 420.9,275.7 419.4,275.5 418.2,276.2 417.1,276.8 415.7,276.9 414.5,277.3 413.1,277.5 412.0,278.2"/>
<polyline fill="none" stroke="#222" stroke-width="0.9" stroke-linejoin="round" points="442.0,259.0 442.4,260.3 442.8,261.5 443.5,262.6 443.8,263.9 444.6,265.0 445.1,266.2 445.4,267.5 446.0,268.7 446.9,269.7 446.9,271.2 447.5,272.3 448.0,273.5 448.9,274.6 449.1,275.9 449.7,277.1 450.4,278.2 450.8,279.5 449.9,280.6 449.2,281.9 449.0,283.3 448.2,284.5 449.2,285.6 450.1,286.7 450.7,288.0 451.6,289.1 452.5,290.2 453.6,291.2 454.6,292.2 455.5,293.3 456.3,294.5 457.0,295.8 458.7,295.6 460.3,294.8 462.0,294.5 463.2,294.0 464.5,293.9 465.8,293.5 466.9,292.8 468.2,292.4 469.6,292.5 470.8,291.9 472.0,291.5 473.5,292.0 475.0,291.8 476.5,292.4 478.0,292.2 479.5,292.5 479.8,293.9 480.1,295.3 480.1,296.7 480.2,298.2 480.8,299.5 479.6,300.3 478.9,301.6 477.6,302.2 477.0,303.5 475.7,304.1 474.9,305.3 474.0,306.4 472.9,307.2 472.0,308.2 473.1,309.2 474.5,309.4 475.7,310.2 476.9,310.9 478.3,311.3 479.5,312.0 480.6,312.8 481.4,313.9 482.3,314.8 483.4,315.6 484.1,316.8 485.2,317.6 486.0,318.6 487.0,319.5 488.2,320.3 488.9,321.6 490.2,322.3 490.8,323.7 492.0,324.5 493.2,325.3 494.6,325.5 495.8,326.2 497.1,326.9 498.3,327.6 499.5,328.2 500.1,326.9 500.7,325.6 502.0,324.7 502.7,323.4 503.2,322.0 504.7,321.9 506.2,321.7 507.6,321.5 509.1,321.4 510.6,321.3 512.0,320.8 513.4,320.4 514.8,319.9 516.2,319.5 517.8,319.5 519.1,318.7 520.6,318.8 522.0,318.2 523.4,318.0 524.4,316.9 525.9,316.9 526.9,316.0 528.2,315.5 529.5,315.0 529.6,316.5 530.0,317.8 530.8,319.1 531.0,320.6 531.8,321.8 532.0,323.2 531.3,324.4 530.2,325.2 529.0,325.9 528.2,327.0 527.4,328.0 526.6,329.1 525.3,329.6 524.5,330.8 523.8,331.9 523.5,333.3 522.8,334.4 522.8,335.9 522.0,337.0 522.0,338.6 522.6,340.0 522.8,341.5 523.2,343.0"/>
<polyline fill="none" stroke="#222" stroke-width="0.9" stroke-linejoin="round" points="412.0,319.5 413.1,320.3 414.6,320.6 415.8,321.2 417.1,321.8 418.3,322.5 419.6,323.0 420.9,323.6 422.1,324.2 423.4,324.9 424.5,325.8 425.8,326.3 427.0,327.0 428.0,327.8 429.2,328.4 430.2,329.3 431.4,329.8 432.7,330.2 433.6,331.2 434.9,331.7 435.8,332.7 437.0,333.2 437.6,332.1 437.7,330.7 438.0,329.5 438.4,328.2 438.6,326.9 439.5,325.8 439.9,324.6 440.2,323.3 440.6,322.1 440.8,320.8 442.4,320.9 443.9,321.4 445.4,321.9 447.0,322.0 448.2,322.7 449.6,323.0 450.9,323.7 452.0,324.5 453.2,323.9 454.4,323.1 455.9,322.9 457.0,322.0 458.2,322.7 459.5,322.8 460.8,323.0 462.1,323.5 463.2,324.3 464.5,324.5 465.6,325.3 466.2,326.6 467.5,327.2 468.2,328.3 469.2,329.2 469.9,330.3 471.2,330.9 472.0,332.0 473.1,332.7 474.4,333.2 475.6,333.6 477.0,333.7 478.3,334.1 479.5,334.5 480.7,335.2 482.0,335.8 483.3,336.4 484.5,337.0 485.7,337.8 487.1,338.1 488.4,338.6 489.4,339.8 490.9,339.8 492.0,340.8 493.3,341.0 494.6,341.4 495.6,342.4 496.9,342.7 498.2,343.0 499.4,343.9 500.8,344.5"/>
<polyline fill="none" stroke="#222" stroke-width="0.9" stroke-linejoin="round" points="542.5,346.0 543.8,345.3 545.3,344.8 546.7,344.3 548.1,343.7 549.5,343.3 551.0,343.0 553.0,341.8 553.2,340.4 553.1,339.1 553.5,337.8 553.4,336.5 553.5,335.1 553.9,333.8 553.5,332.5 553.7,331.2 553.6,329.8 554.2,328.5 554.1,327.2 554.6,325.9 554.4,324.6 554.5,323.2 555.5,322.3 556.5,321.3 557.7,320.5 558.5,319.2 559.5,318.2 561.2,318.6 562.8,318.3 564.5,318.2 565.3,319.4 565.4,320.9 566.3,322.1 567.0,323.2 566.5,324.6 565.6,325.7 565.4,327.1 564.7,328.3 564.1,329.6 563.2,330.8 563.7,332.0 564.3,333.2 564.6,334.6 565.4,335.7 565.8,337.0 567.0,337.7 568.2,338.4 569.5,339.0 570.7,339.7 571.9,340.6 573.3,340.9 574.5,341.7 575.7,342.4 577.0,343.0 578.4,343.2 579.4,344.3 580.8,344.5"/>
<polyline fill="none" stroke="#222" stroke-width="0.9" stroke-linejoin="round" points="590.8,343.0 591.1,341.7 591.9,340.6 592.2,339.4 592.4,338.0 593.1,336.9 593.8,335.8 593.8,334.4 594.5,333.2 595.6,332.3 596.3,331.0 597.4,330.0 598.0,328.7 599.0,327.6 600.3,326.8 600.9,325.5 602.0,324.5 602.6,323.3 603.6,322.3 604.5,321.3 604.9,320.0 606.1,319.1 606.4,317.7 607.4,316.8 608.2,315.8 609.7,316.1 611.3,316.2 612.7,316.7 614.2,316.8 615.8,317.0 617.1,316.5 618.4,316.0 619.6,315.4 620.8,314.5 620.4,315.8 619.9,317.1 619.4,318.4 619.6,319.9 618.6,321.0 618.6,322.5 618.2,323.8 617.5,325.0 617.6,326.5 617.4,327.8 617.0,329.2 616.1,330.3 616.0,331.7 615.6,333.0 615.1,334.3 614.7,335.6 614.5,337.0 614.0,338.5 614.0,340.0 613.7,341.5 613.2,343.0"/>
<polyline fill="none" stroke="#222" stroke-width="0.9" stroke-linejoin="round" points="620.8,314.5 621.8,313.4 623.2,312.8 624.5,312.0 625.8,311.8 627.1,311.4 628.3,310.8 629.5,310.4 630.7,309.8 632.0,309.5 632.8,308.2 633.7,307.0 634.7,305.9 635.1,304.3 636.2,303.3 637.0,302.0 638.5,301.8 639.9,301.7 641.4,301.3 642.9,301.5 644.3,300.8 645.8,300.8 647.2,300.2 648.7,300.3 650.1,299.8 651.6,299.8 653.0,299.7 654.5,299.5 655.7,298.8 656.9,298.1 658.1,297.4 659.5,297.0 660.3,298.1 660.9,299.4 661.4,300.7 662.0,302.0 660.9,302.8 660.1,303.8 659.1,304.7 658.2,305.8 658.7,307.2 659.8,308.2 660.3,309.6 661.2,310.8 662.0,312.0 661.8,313.5 662.3,315.0 662.1,316.5 661.8,318.0 662.0,319.5 660.7,319.8 659.6,320.7 658.2,320.8 657.1,321.7 655.8,322.0 654.9,323.2 654.2,324.4 653.9,325.8 653.6,327.2 652.4,328.1 652.0,329.5 652.3,331.0 652.8,332.5 652.8,334.0 652.8,335.5 653.2,337.0 653.5,338.3 654.2,339.4 654.7,340.6 655.3,341.8 655.8,343.0"/>
<polyline fill="none" stroke="#222" stroke-width="0.9" stroke-linejoin="round" points="659.5,297.0 658.4,295.9 657.7,294.4 656.6,293.3 655.8,292.0 655.8,290.5 655.9,288.9 656.2,287.5 656.5,286.0 657.0,284.5 657.9,283.4 658.0,281.9 659.0,280.8 659.5,279.5 659.6,278.2 660.3,277.0 660.6,275.7 661.3,274.5 661.8,273.3 662.0,272.0 663.4,271.3 664.9,271.1 666.6,271.3 668.0,270.8"/>
<polyline fill="none" stroke="#222" stroke-width="0.9" stroke-linejoin="round" points="527.0,90.8 528.2,91.5 529.4,92.2 530.7,92.8 532.1,93.0 533.4,93.6 534.5,94.5 536.0,94.9 537.5,94.5 539.0,95.1 540.5,95.1 542.0,95.0 543.3,94.8 544.6,94.5 545.7,93.6 547.0,93.6 548.3,93.3 549.5,92.7 550.7,92.3 552.0,92.0 553.2,90.9 554.6,90.1 555.8,89.0 554.3,88.5 552.8,88.5 551.3,88.4 549.9,88.2 548.4,87.9 547.0,87.5 545.5,87.3 544.2,87.9 542.7,88.1 541.3,87.6 539.8,87.7 538.4,88.2 537.0,88.2 535.5,88.7 534.0,88.7 532.5,89.2 531.0,89.4 529.5,89.5 528.1,89.8 527.0,90.8"/>
</g>
<mask id="m_t13" maskUnits="userSpaceOnUse" x="0" y="0" width="1024" height="1024"><rect x="666.4" y="85.4" width="265.20000000000005" height="259.20000000000005" fill="#fff"/><rect x="797.6" y="201.6" width="130.79999999999995" height="128.79999999999998" fill="#000"/><rect x="669.6" y="237.6" width="124.79999999999995" height="100.79999999999998" fill="#000"/><rect x="157.6" y="344.6" width="252.79999999999998" height="252.79999999999995" fill="#000"/><rect x="413.6" y="344.6" width="124.79999999999995" height="124.79999999999995" fill="#000"/><rect x="541.6" y="344.6" width="124.79999999999995" height="124.79999999999995" fill="#000"/><rect x="413.6" y="472.6" width="124.79999999999995" height="124.79999999999995" fill="#000"/><rect x="541.6" y="472.6" width="124.79999999999995" height="124.79999999999995" fill="#000"/><rect x="669.6" y="333.6" width="128.79999999999995" height="128.79999999999995" fill="#000"/><rect x="669.6" y="465.6" width="128.79999999999995" height="131.79999999999995" fill="#000"/><rect x="801.6" y="333.6" width="126.79999999999995" height="64.79999999999995" fill="#000"/><rect x="801.6" y="401.6" width="126.79999999999995" height="196.79999999999995" fill="#000"/><rect x="157.6" y="600.6" width="252.79999999999998" height="146.79999999999995" fill="#000"/><rect x="413.6" y="600.6" width="252.79999999999995" height="146.79999999999995" fill="#000"/><rect x="669.6" y="600.6" width="258.79999999999995" height="146.79999999999995" fill="#000"/><rect x="158.6" y="501.6" width="139.79999999999998" height="140.79999999999995" fill="#000"/><rect x="669.6" y="381.6" width="62.799999999999955" height="62.799999999999955" fill="#000"/></mask>
<g mask="url(#m_t13)">
<polyline fill="none" stroke="#222" stroke-width="0.9" stroke-linejoin="round" points="668.0,212.0 669.5,212.0 671.0,211.6 672.5,211.2 674.0,210.8 675.5,210.8 676.8,210.3 678.1,209.8 679.3,208.9 680.6,208.5 681.8,207.8 683.0,207.0 684.1,205.9 684.7,204.3 686.1,203.4 686.8,202.0 687.6,200.8 689.0,200.1 689.8,198.8 690.7,197.7 692.2,197.0 693.0,195.8 694.5,195.4 696.0,195.1 697.5,194.9 698.9,194.4 700.5,194.5 701.9,193.9 703.0,193.0 704.1,192.1 705.5,191.5 706.7,190.9 708.0,190.5 709.3,190.2 710.4,189.3 711.8,189.2 713.0,188.4 714.4,188.3 715.5,187.5 716.8,187.0 718.3,187.1 719.7,187.5 721.2,187.5 722.7,187.5 724.2,187.5 725.4,188.2 726.7,188.6 728.0,188.6 729.3,188.9 730.5,189.5 731.8,188.3 733.0,187.0 733.0,185.5 732.3,184.0 732.5,182.5 732.3,181.0 731.8,179.5 730.8,178.2 730.1,176.9 728.7,175.9 728.0,174.5 726.7,173.7 725.4,173.1 724.4,171.8 723.1,171.1 721.7,170.3 720.5,169.5 719.1,168.8 718.2,167.5 716.6,167.0 715.7,165.6 714.2,165.0 712.8,164.3 711.1,164.3 709.6,163.7 708.0,163.2 706.9,164.4 705.5,164.9 704.1,165.5 702.8,166.3 701.6,167.2 700.5,168.2 699.1,167.6 697.6,167.3 696.1,166.9 694.5,166.9 693.0,166.5 691.5,166.9 690.0,166.8 688.5,166.9 687.0,167.1 685.5,167.0 684.3,166.5 683.0,166.2 681.8,165.5 680.6,165.0 679.2,165.1 678.0,164.5 677.8,162.8 677.3,161.1 676.8,159.5 677.2,158.2 677.7,156.9 678.6,155.7 679.4,154.6 679.6,153.1 680.5,152.0 680.9,150.7 681.9,149.6 682.0,148.2 682.6,146.9 683.4,145.8 684.1,144.6 684.3,143.2 684.6,141.9 685.5,140.8 686.2,139.6 687.0,138.5 687.2,137.1 688.1,136.1 688.5,134.8 689.4,133.8 690.0,132.6 690.8,131.5 691.1,130.2 691.8,129.0 693.0,129.6 694.3,129.6 695.6,130.1 696.7,131.0 698.0,131.4 699.2,132.0 700.5,132.2 701.7,132.8 703.0,133.2 704.3,133.5 705.5,134.0 706.7,133.5 707.9,133.0 708.9,132.0 710.0,131.3 711.0,130.6 712.2,129.9 713.5,129.7 714.6,128.9 715.8,128.4 716.8,127.5 718.0,127.0 719.3,126.7 720.5,125.9 721.8,125.7 723.0,125.0 724.2,124.5 723.7,123.0 723.8,121.4 723.6,119.8 723.5,118.2 724.6,117.1 725.3,115.7 725.9,114.3 727.2,113.4 728.0,112.0 728.6,110.8 729.2,109.6 729.1,108.2 729.7,106.9 730.3,105.7 730.6,104.4 731.0,103.1 731.8,102.0 732.1,100.6 732.4,99.1 732.8,97.7 733.1,96.3 733.3,94.8 733.6,93.4 734.2,92.0 735.1,90.9 736.3,90.0 737.4,89.1 738.5,88.2 739.2,87.0"/>
<polyline fill="none" stroke="#222" stroke-width="0.9" stroke-linejoin="round" points="769.2,87.0 769.9,88.4 770.2,89.8 770.5,91.3 770.4,92.8 771.2,94.1 771.6,95.5 771.8,97.0 773.3,97.1 774.7,97.7 776.2,97.7 777.6,98.3 779.0,98.9 780.5,99.0 782.0,99.0 783.3,98.3 784.8,98.3 786.2,98.0 787.6,97.4 789.1,97.5 790.5,97.0 791.6,96.1 793.1,95.7 794.1,94.5 795.6,94.2 796.8,93.2 798.0,93.8 799.3,94.1 800.4,95.0 801.8,95.1 803.0,95.8 804.1,96.7 804.7,97.9 805.3,99.2 806.4,100.2 807.4,101.1 807.9,102.5 809.1,103.3 809.6,104.7 810.5,105.8 809.6,106.9 809.1,108.3 808.0,109.4 807.5,110.7 806.8,112.0 806.1,113.3 805.8,114.6 805.2,115.9 804.2,117.0 803.8,118.3 803.5,119.6 802.9,120.8 802.7,122.1 802.0,123.3 801.5,124.5 801.0,125.8 800.5,127.0 800.0,128.4 800.0,129.8 800.4,131.2 799.9,132.5 799.7,133.9 799.4,135.3 799.7,136.7 799.7,138.1 799.2,139.5 798.4,140.8 797.6,142.0 796.8,143.3 796.0,144.5 794.9,145.6 794.2,147.0 794.1,148.4 793.9,149.8 793.3,151.1 792.7,152.4 792.7,153.9 792.3,155.2 791.5,156.5 791.4,157.9 791.3,159.3 790.6,160.6 790.5,162.0 790.6,160.4 790.0,159.0 789.5,157.5 789.6,156.0 789.2,154.5 788.2,155.4 787.3,156.4 786.3,157.2 785.1,157.8 784.1,158.8 783.0,159.5 782.1,160.5 781.0,161.3 780.1,162.2 779.1,163.1 778.2,164.1 777.3,165.0 776.4,166.1 775.5,167.0 774.4,167.9 773.5,169.1 772.4,170.0 771.2,170.8 770.0,171.7 769.1,172.8 767.9,173.6 766.8,174.5 766.1,176.2 765.0,177.5 766.0,178.4 766.6,179.6 767.9,180.2 768.8,181.2 769.4,182.5 770.5,183.2 770.6,184.9 770.4,186.6 770.5,188.2 771.8,187.7 773.1,187.3 774.4,186.7 775.5,185.8 776.7,186.2 777.9,186.8 779.2,187.0 778.9,188.4 778.0,189.5 776.3,189.8 774.6,190.3 773.0,190.8 773.3,192.3 773.3,193.9 773.8,195.5 774.2,197.0 775.7,197.3 777.2,197.3 778.6,197.3 780.1,196.9 781.5,197.2 783.0,197.0 783.4,198.3 784.1,199.4 784.4,200.7 784.5,202.1 785.4,203.1 785.5,204.5 786.4,205.6 787.7,206.3 788.6,207.4 789.4,208.6 790.5,209.5 792.0,209.6 793.5,210.0 795.0,210.3 796.5,210.5 798.0,210.8 799.2,211.5 800.6,211.5 801.7,212.2 802.9,212.8 804.2,213.2 805.6,213.4 806.6,214.3 808.0,214.5 809.4,215.0 810.9,214.9 812.4,215.2 813.7,216.1 815.2,216.2 816.6,216.4 818.0,217.0 819.2,217.6 820.6,218.1 821.7,218.9 823.0,219.5 823.5,221.0 823.3,222.5 823.9,224.0 823.7,225.5 824.2,227.0"/>
<polyline fill="none" stroke="#222" stroke-width="0.9" stroke-linejoin="round" points="818.0,87.0 818.0,88.5 818.4,89.9 819.0,91.3 819.6,92.7 819.9,94.1 819.9,95.6 820.5,97.0 820.9,98.4 822.1,99.3 822.2,100.9 823.3,101.9 823.6,103.3 824.5,104.4 825.0,105.7 825.2,107.1 825.9,108.4 826.6,109.6 827.3,110.8 828.0,112.0 828.5,113.3 828.3,114.7 828.9,116.1 829.0,117.4 829.3,118.8 829.2,120.2 829.4,121.6 829.9,122.9 829.8,124.3 830.5,125.6 830.5,127.0 831.5,127.9 832.7,128.8 833.9,129.5 834.7,130.7 835.7,131.6 837.0,132.2 838.0,133.2 839.4,133.2 840.7,133.9 842.1,133.8 843.5,133.9 844.8,134.6 846.1,134.9 847.6,134.8 849.0,134.8 850.2,135.4 851.7,135.2 853.0,135.8 854.4,136.5 855.6,137.5 856.7,138.6 858.0,139.5 859.2,140.2 860.4,140.9 861.3,142.1 862.5,142.8 863.4,143.9 864.7,144.5 865.8,145.3 866.7,146.4 868.0,147.0 868.4,148.4 868.4,149.9 869.2,151.3 869.6,152.7 869.7,154.2 870.1,155.6 870.5,157.0 870.6,158.5 871.1,159.9 871.3,161.3 871.9,162.7 872.1,164.2 872.6,165.6 873.0,167.0 874.0,168.5 875.5,169.5 876.9,169.2 878.4,169.8 879.8,169.5 881.2,169.7 882.6,169.6 884.1,169.2 885.5,169.5 887.0,169.3 888.5,169.3 890.0,169.6 891.5,169.3 893.0,169.5 894.2,168.7 895.1,167.6 896.2,166.7 897.2,165.7 898.0,164.5 899.4,164.1 900.5,163.3 901.6,162.4 903.0,162.0 904.3,161.5 905.5,160.7 906.7,160.1 908.0,159.5 909.4,159.4 910.8,158.9 912.3,158.7 913.7,158.5 915.1,158.6 916.6,158.3 918.0,158.2 918.8,159.3 919.9,160.1 920.7,161.2 921.8,162.0 921.8,163.5 921.1,164.8 920.9,166.2 920.8,167.7 921.0,169.2 920.6,170.6 920.5,172.0 919.6,173.1 918.4,173.9 917.3,174.8 916.5,176.0 915.5,177.0 914.9,178.4 915.1,179.9 914.5,181.3 913.9,182.7 913.6,184.1 913.6,185.6 913.0,187.0 912.5,188.3 911.7,189.4 911.2,190.6 910.9,192.0 910.4,193.2 910.3,194.6 909.5,195.7 908.8,196.9 908.3,198.2 908.0,199.5 907.2,200.6 906.7,202.0 905.8,203.1 905.7,204.6 904.8,205.7 904.0,206.9 903.5,208.2 903.0,209.5 902.7,210.8 902.4,212.1 902.0,213.3 901.5,214.6 900.8,215.7 900.5,217.0 899.1,216.3 897.4,216.4 895.9,216.0 894.5,215.5 893.0,215.0 891.8,215.6 890.4,215.9 889.4,216.9 888.1,217.4 886.8,217.8 885.5,218.2 884.2,218.5 883.1,219.4 881.8,219.9 880.4,220.0 879.3,220.7 878.0,221.2 876.7,221.4 875.5,222.0"/>
<polyline fill="none" stroke="#222" stroke-width="0.9" stroke-linejoin="round" points="755.5,204.5 757.0,203.5 758.0,202.0 759.3,202.5 760.4,203.4 761.8,203.8 763.0,204.5 764.3,204.0 765.5,203.3 766.8,202.7 768.0,202.0 768.9,200.8 769.4,199.3 770.5,198.2 771.8,198.1 773.1,197.6 774.2,197.0"/>
<polyline fill="none" stroke="#222" stroke-width="0.9" stroke-linejoin="round" points="755.5,204.5 756.1,205.8 757.4,206.6 758.0,207.9 759.1,208.8 759.9,209.9 760.8,211.0 761.8,212.0 761.4,213.5 761.2,215.0 761.3,216.5 760.5,218.0 760.5,219.5 760.4,221.0 760.9,222.5 760.8,224.0 761.0,225.5 761.0,227.0 761.8,228.3 762.8,229.4 763.1,230.9 764.2,232.0 765.4,231.3 766.9,231.3 767.9,230.3 769.3,230.1 770.5,229.5 771.7,230.3 772.7,231.3 773.4,232.6 774.6,233.4 775.5,234.5 776.1,235.8 776.4,237.2 776.5,238.6 776.9,240.0 776.8,241.5 776.9,242.9 777.8,244.2 777.7,245.6 778.0,247.0"/>
</g>
<mask id="m_z_ne" maskUnits="userSpaceOnUse" x="0" y="0" width="1024" height="1024"><rect x="794.4" y="198.4" width="137.20000000000005" height="135.20000000000002" fill="#fff"/><rect x="669.6" y="237.6" width="124.79999999999995" height="100.79999999999998" fill="#000"/><rect x="157.6" y="344.6" width="252.79999999999998" height="252.79999999999995" fill="#000"/><rect x="413.6" y="344.6" width="124.79999999999995" height="124.79999999999995" fill="#000"/><rect x="541.6" y="344.6" width="124.79999999999995" height="124.79999999999995" fill="#000"/><rect x="413.6" y="472.6" width="124.79999999999995" height="124.79999999999995" fill="#000"/><rect x="541.6" y="472.6" width="124.79999999999995" height="124.79999999999995" fill="#000"/><rect x="669.6" y="333.6" width="128.79999999999995" height="128.79999999999995" fill="#000"/><rect x="669.6" y="465.6" width="128.79999999999995" height="131.79999999999995" fill="#000"/><rect x="801.6" y="333.6" width="126.79999999999995" height="64.79999999999995" fill="#000"/><rect x="801.6" y="401.6" width="126.79999999999995" height="196.79999999999995" fill="#000"/><rect x="157.6" y="600.6" width="252.79999999999998" height="146.79999999999995" fill="#000"/><rect x="413.6" y="600.6" width="252.79999999999995" height="146.79999999999995" fill="#000"/><rect x="669.6" y="600.6" width="258.79999999999995" height="146.79999999999995" fill="#000"/><rect x="158.6" y="501.6" width="139.79999999999998" height="140.79999999999995" fill="#000"/><rect x="669.6" y="381.6" width="62.799999999999955" height="62.799999999999955" fill="#000"/></mask>
<g mask="url(#m_z_ne)">
<polyline fill="none" stroke="#222" stroke-width="0.9" stroke-linejoin="round" points="796.0,210.3 805.0,211.0 808.9,215.5 815.3,216.1 821.8,217.4 823.7,220.6 823.1,225.8 828.2,227.7 831.4,235.4 834.7,236.1 837.2,230.9 841.1,229.6 843.7,237.4 847.6,245.8 850.1,244.5 851.4,241.2 856.6,240.0 860.4,238.0 863.0,238.7 865.6,237.4 867.5,242.5 873.3,247.0 877.9,247.7"/>
<polyline fill="none" stroke="#222" stroke-width="0.9" stroke-linejoin="round" points="874.0,221.9 876.6,228.4 877.9,238.7 877.9,247.7 878.5,250.3 875.9,255.4 872.1,258.0 868.2,259.9 867.5,261.6 870.8,262.1 874.6,261.9 878.5,260.6"/>
<polyline fill="none" stroke="#222" stroke-width="0.9" stroke-linejoin="round" points="874.0,221.9 879.8,219.3 884.9,215.5 886.9,213.9 892.7,213.5 897.8,216.8 899.1,219.3 901.7,212.9 905.6,207.7 909.4,200.0"/>
<polyline fill="none" stroke="#222" stroke-width="0.9" stroke-linejoin="round" points="886.9,213.9 887.5,219.3 888.8,224.5 891.4,227.7 894.0,227.1 896.5,222.6 898.5,218.7 897.8,216.1"/>
<polyline fill="none" stroke="#222" stroke-width="0.9" stroke-linejoin="round" points="796.0,298.6 805.0,292.2 808.9,290.9 816.6,282.5 821.8,276.7 824.4,279.9 829.5,281.9 836.0,283.1 838.5,282.5 837.2,274.8 842.4,272.2 850.1,268.3 852.7,265.1 857.9,263.2 860.4,258.6 863.0,257.4 865.6,259.3 866.9,261.9 869.5,262.5 873.3,261.9"/>
<polyline fill="none" stroke="#222" stroke-width="0.9" stroke-linejoin="round" points="873.3,261.9 872.1,264.4 868.2,267.0 863.0,271.5 859.2,276.7 857.9,280.6 859.2,283.8 857.9,291.5 852.7,295.4 847.6,299.3 841.1,303.1 834.7,307.0 830.2,310.2 829.8,316.7 828.9,319.2 832.1,322.5 837.2,326.3 841.1,332.0"/>
<polyline fill="none" stroke="#222" stroke-width="0.9" stroke-linejoin="round" points="796.0,254.1 798.6,259.3 802.4,270.3 803.7,277.3 806.3,283.8 807.0,290.2 805.0,292.2"/>
<polyline fill="none" stroke="#222" stroke-width="0.9" stroke-linejoin="round" points="878.5,260.6 880.4,258.6 881.7,255.4 884.9,251.6 888.2,250.3 888.8,251.6 891.4,250.9 892.0,259.3 895.3,258.0 899.1,259.9 903.0,260.6 909.4,258.0 918.5,251.6 930.1,243.8"/>
<polyline fill="none" stroke="#222" stroke-width="0.9" stroke-linejoin="round" points="879.8,260.6 882.4,255.4 884.9,251.6 886.2,250.9 886.9,252.8 884.9,256.7 881.1,261.2"/>
</g>
<mask id="m_z_bj" maskUnits="userSpaceOnUse" x="0" y="0" width="1024" height="1024"><rect x="666.4" y="234.4" width="131.20000000000005" height="107.20000000000002" fill="#fff"/><rect x="157.6" y="344.6" width="252.79999999999998" height="252.79999999999995" fill="#000"/><rect x="413.6" y="344.6" width="124.79999999999995" height="124.79999999999995" fill="#000"/><rect x="541.6" y="344.6" width="124.79999999999995" height="124.79999999999995" fill="#000"/><rect x="413.6" y="472.6" width="124.79999999999995" height="124.79999999999995" fill="#000"/><rect x="541.6" y="472.6" width="124.79999999999995" height="124.79999999999995" fill="#000"/><rect x="669.6" y="333.6" width="128.79999999999995" height="128.79999999999995" fill="#000"/><rect x="669.6" y="465.6" width="128.79999999999995" height="131.79999999999995" fill="#000"/><rect x="801.6" y="333.6" width="126.79999999999995" height="64.79999999999995" fill="#000"/><rect x="801.6" y="401.6" width="126.79999999999995" height="196.79999999999995" fill="#000"/><rect x="157.6" y="600.6" width="252.79999999999998" height="146.79999999999995" fill="#000"/><rect x="413.6" y="600.6" width="252.79999999999995" height="146.79999999999995" fill="#000"/><rect x="669.6" y="600.6" width="258.79999999999995" height="146.79999999999995" fill="#000"/><rect x="158.6" y="501.6" width="139.79999999999998" height="140.79999999999995" fill="#000"/><rect x="669.6" y="381.6" width="62.799999999999955" height="62.799999999999955" fill="#000"/></mask>
<g mask="url(#m_z_bj)">
<polyline fill="none" stroke="#222" stroke-width="0.9" stroke-linejoin="round" points="664.0,270.5 668.0,270.8 669.3,278.5 673.3,279.2 677.3,275.8 681.3,274.5 685.3,275.2 687.9,273.2 692.6,272.5 693.9,269.2 695.9,264.6 702.5,262.6 705.2,262.6 707.8,265.2 709.8,269.2 712.5,272.5 710.5,275.8 710.5,278.5 713.1,283.2 722.4,285.1 725.1,282.5 725.1,275.8 724.4,268.5 726.4,267.2 729.1,267.9 731.7,270.5 733.7,275.2 734.4,277.2 738.4,273.2 743.7,269.2 749.0,267.2 754.3,264.6 759.6,261.9 764.9,258.6 770.3,258.6 774.2,256.6 778.2,254.6 780.9,251.9 780.9,249.3 777.6,246.0 777.6,240.0 776.2,233.3"/>
<polyline fill="none" stroke="#222" stroke-width="0.9" stroke-linejoin="round" points="780.9,248.6 783.5,248.0 787.5,251.9 790.8,257.3 792.8,255.9 795.5,253.9 796.8,255.9 798.1,262.6 800.0,265.2"/>
<polyline fill="none" stroke="#222" stroke-width="0.9" stroke-linejoin="round" points="722.4,285.1 719.8,289.1 719.1,293.1 722.4,297.1 727.8,299.1 730.4,302.4 731.7,305.7 734.4,305.1"/>
<polyline fill="none" stroke="#222" stroke-width="0.9" stroke-linejoin="round" points="701.2,295.8 695.9,294.4 691.2,289.1 687.9,291.8 687.2,295.1 681.3,297.1 677.3,302.4 676.6,309.1 679.9,313.0 687.2,314.4 690.6,313.7 692.6,312.4 694.5,311.7 695.2,307.7 692.6,307.1 692.6,305.7 698.5,305.1 699.9,302.4 699.2,299.8 701.2,295.8"/>
<polyline fill="none" stroke="#222" stroke-width="0.9" stroke-linejoin="round" points="699.9,302.4 702.5,305.1 704.5,307.7 703.8,311.7 706.5,315.7 707.8,319.7 710.5,322.3 714.5,322.3 717.1,321.0 719.8,320.3 723.8,318.3 725.8,314.4 729.1,309.7 731.7,306.4 734.4,305.1"/>
<polyline fill="none" stroke="#222" stroke-width="0.9" stroke-linejoin="round" points="734.4,305.1 739.7,302.4 742.4,299.8 745.0,294.4 749.0,291.1 755.6,291.1 758.3,290.5 761.0,293.8 763.0,295.1 761.6,299.8 758.3,303.7 755.6,307.7 753.0,311.7 751.7,314.4 753.0,317.0 755.6,319.7 755.6,322.3 751.7,324.3 749.0,325.7 749.0,327.6 751.7,327.0 757.0,324.3 762.3,321.0 768.9,317.0 772.9,314.4 778.2,311.0 783.5,309.7 788.9,308.4 791.5,305.1 796.8,299.8 800.8,296.4"/>
<polyline fill="none" stroke="#222" stroke-width="0.9" stroke-linejoin="round" points="694.5,311.7 691.9,315.7 692.6,321.0 691.2,326.3 693.2,330.3 698.5,331.6 703.2,329.0 703.8,326.3"/>
<polyline fill="none" stroke="#222" stroke-width="0.9" stroke-linejoin="round" points="707.8,321.0 705.2,323.7 703.8,326.3 703.2,331.6 705.2,335.6 707.8,338.3 709.8,340.9"/>
</g>
<mask id="m_t21" maskUnits="userSpaceOnUse" x="0" y="0" width="1024" height="1024"><rect x="154.4" y="341.4" width="259.20000000000005" height="259.20000000000005" fill="#fff"/><rect x="413.6" y="344.6" width="124.79999999999995" height="124.79999999999995" fill="#000"/><rect x="541.6" y="344.6" width="124.79999999999995" height="124.79999999999995" fill="#000"/><rect x="413.6" y="472.6" width="124.79999999999995" height="124.79999999999995" fill="#000"/><rect x="541.6" y="472.6" width="124.79999999999995" height="124.79999999999995" fill="#000"/><rect x="669.6" y="333.6" width="128.79999999999995" height="128.79999999999995" fill="#000"/><rect x="669.6" y="465.6" width="128.79999999999995" height="131.79999999999995" fill="#000"/><rect x="801.6" y="333.6" width="126.79999999999995" height="64.79999999999995" fill="#000"/><rect x="801.6" y="401.6" width="126.79999999999995" height="196.79999999999995" fill="#000"/><rect x="157.6" y="600.6" width="252.79999999999998" height="146.79999999999995" fill="#000"/><rect x="413.6" y="600.6" width="252.79999999999995" height="146.79999999999995" fill="#000"/><rect x="669.6" y="600.6" width="258.79999999999995" height="146.79999999999995" fill="#000"/><rect x="158.6" y="501.6" width="139.79999999999998" height="140.79999999999995" fill="#000"/><rect x="669.6" y="381.6" width="62.799999999999955" height="62.799999999999955" fill="#000"/></mask>
<g mask="url(#m_t21)">
<polyline fill="none" stroke="#222" stroke-width="0.9" stroke-linejoin="round" points="157.2,343.0 157.6,344.4 158.3,345.6 159.0,346.8 159.8,348.0 159.3,349.4 158.7,350.6 157.6,351.6 157.2,353.0 158.3,353.8 159.4,354.6 160.1,355.8 161.0,356.8 162.2,357.5 163.4,357.9 164.7,358.4 166.0,358.8 167.2,359.2 168.4,360.3 169.7,361.2 171.1,362.0 172.2,363.0 172.2,364.5 172.5,366.0 172.9,367.5 173.3,369.0 173.5,370.5 174.9,371.0 176.0,372.1 177.2,372.9 178.4,373.6 179.8,374.2 180.9,375.1 182.4,375.5 183.4,376.6 184.8,377.2 186.0,378.0 187.1,378.7 188.6,378.7 189.7,379.4 191.1,379.5 192.3,380.0 193.5,380.5 194.9,380.1 196.0,379.2 197.1,378.4 198.5,378.0 199.9,377.6 201.0,376.8 202.3,376.2 203.3,375.2 204.8,375.0 206.0,374.3 207.2,373.5 208.5,373.0 210.1,373.0 211.6,372.5 213.2,372.3 214.8,371.8 216.0,372.3 217.4,372.8 218.4,373.8 219.8,374.2 220.8,375.1 221.8,376.0 222.5,377.1 223.5,378.0 224.7,378.8 226.2,378.9 227.4,379.6 228.5,380.5 230.0,380.7 231.4,381.3 233.0,381.3 234.5,381.4 236.0,381.8 237.5,382.2 239.0,382.5 240.5,382.5 241.9,383.1 243.5,383.0 244.8,382.3 246.0,381.6 247.3,380.8 248.7,380.3 249.8,379.2 250.8,378.3 252.2,377.8 253.4,377.1 254.8,376.8 255.9,377.6 257.2,378.0 258.4,377.4 259.8,377.3 261.0,376.8 262.1,377.5 262.8,378.6 264.0,379.3 265.0,380.1 266.0,381.0 267.4,380.8 268.9,381.2 270.3,381.0 271.7,381.3 273.2,381.4 274.6,381.4 276.0,381.8 277.2,381.1 278.4,380.3 279.7,379.8 281.0,379.2 282.1,378.2 283.5,377.7 284.7,376.7 286.0,376.0 287.4,375.7 288.9,375.6 290.4,375.8 291.8,375.5 293.3,375.7 294.8,375.5 296.0,374.8 297.4,374.5 298.6,373.7 299.8,373.0 300.7,372.0 301.6,371.1 302.7,370.2 303.7,369.4 305.1,369.0 306.0,368.0 307.5,367.8 308.8,367.1 310.2,366.7 311.7,366.5 313.2,366.4 314.5,365.6 316.0,365.5 317.4,365.4 318.8,365.5 320.2,365.2 321.5,364.8 322.9,364.6 324.4,364.9 325.7,364.6 327.1,364.5 328.5,364.2 330.0,364.5 331.5,364.8 333.0,364.9 334.5,365.2 336.0,365.0 337.1,365.8 338.5,365.9 339.8,366.5 341.1,366.9 342.2,367.8 343.5,368.2 344.6,369.0 346.0,369.2 347.5,368.7 349.0,368.6 350.5,368.5 352.0,368.5 353.5,368.0 354.9,368.5 356.3,368.9 357.7,369.0 359.3,368.9 360.7,369.2 362.1,369.7 363.5,370.0 364.2,368.6 364.4,367.0 364.8,365.5 363.7,364.6 362.8,363.7 362.1,362.5 361.0,361.8 360.7,360.2 360.8,358.6 361.3,357.1 361.0,355.5 362.6,355.4 364.2,355.2 365.7,354.8 367.2,354.2 367.0,352.6 366.7,350.8 366.0,349.2 364.7,348.3 363.4,347.5 362.4,346.2 361.0,345.5 359.8,344.5 358.5,343.7 357.2,342.8 356.0,341.8"/>
<polyline fill="none" stroke="#222" stroke-width="0.9" stroke-linejoin="round" points="346.0,369.2 345.0,370.7 343.5,371.8 344.6,372.8 345.8,373.7 347.2,374.2 346.6,375.7 346.3,377.3 346.6,379.0 346.0,380.5 346.0,382.0 345.6,383.4 345.3,384.9 345.1,386.3 344.7,387.8 344.8,389.2 345.6,390.4 346.0,391.9 347.1,392.9 347.6,394.3 348.5,395.5 348.3,397.0 347.7,398.4 347.6,400.0 347.8,401.6 347.2,403.0 348.3,403.9 348.9,405.3 349.7,406.4 350.9,407.2 351.7,408.4 352.8,409.3 353.5,410.5 354.8,411.1 356.0,411.7 357.3,412.3 358.5,413.0 359.6,413.9 361.0,414.2 362.5,414.2 364.0,414.9 365.5,414.7 367.1,414.9 368.5,415.5 369.7,416.4 371.2,416.9 372.1,418.2 373.6,418.6 374.6,419.8 376.0,420.5 377.4,420.8 378.9,421.0 380.2,421.6 381.7,421.6 383.1,422.0 384.6,421.9 386.0,422.5 387.4,422.5 388.6,422.9 389.7,423.8 391.1,423.7 392.3,424.1 393.6,424.5 394.7,425.2 396.0,425.5 397.5,425.2 399.0,425.1 400.5,424.7 402.1,424.8 403.5,424.2 405.1,424.6 406.9,424.6 408.5,425.0 410.2,425.3 411.9,425.3 413.5,426.0"/>
<polyline fill="none" stroke="#222" stroke-width="0.9" stroke-linejoin="round" points="227.2,380.5 227.1,382.1 226.5,383.6 226.4,385.2 226.0,386.8 225.1,387.7 223.9,388.4 223.4,389.8 222.2,390.5 221.1,391.3 220.5,392.7 219.3,393.5 218.3,394.5 217.2,395.5 216.3,396.4 215.3,397.3 214.6,398.5 213.4,399.2 212.4,400.0 211.5,401.0 210.8,402.2 209.8,403.0 209.8,404.5 210.0,406.0 210.7,407.5 210.8,409.0 211.0,410.5 212.0,411.7 212.8,413.1 213.6,414.4 214.8,415.5 214.9,417.0 215.2,418.4 215.4,419.9 215.9,421.3 215.7,422.8 216.0,424.2 214.5,424.4 213.0,424.2 211.5,424.3 210.0,424.0 208.5,424.2 206.8,424.4 205.1,425.0 203.5,425.5 204.2,426.7 204.7,427.9 205.2,429.2 205.4,430.5 206.0,431.8 206.3,433.2 206.2,434.7 206.7,436.1 206.8,437.6 207.3,439.0 207.2,440.5 208.4,441.8 209.8,443.0 210.5,444.2 211.5,445.0 212.6,445.7 213.5,446.8 214.9,447.0 215.9,448.0 217.3,448.3 218.5,448.8 219.7,449.5 221.0,450.1 222.2,450.5 223.4,451.3 224.2,452.4 225.5,452.9 226.2,454.1 227.5,454.7 228.5,455.5 229.6,456.4 230.9,456.9 232.3,457.3 233.5,458.0 234.6,459.1 235.8,460.1 237.4,460.6 238.5,461.8 239.7,460.7 240.3,459.2 241.5,458.1 242.2,456.8 243.7,457.1 245.3,457.2 246.7,457.7 248.2,457.8 249.8,458.0 250.8,459.1 251.8,460.1 252.3,461.6 253.5,462.5 254.7,463.3 255.8,464.2 257.4,464.4 258.6,465.1 259.9,465.8 261.0,466.8 262.1,467.9 263.4,468.7 264.6,469.7 266.0,470.5 267.3,471.4 268.5,472.4 269.9,473.1 271.0,474.2 272.7,474.2 274.3,474.0 276.0,474.2 276.8,475.4 277.5,476.6 278.0,478.0 278.5,479.2 279.9,479.7 280.9,480.7 282.2,481.2 283.5,481.8 284.6,482.6 286.0,483.0 287.3,483.5 288.5,484.2 289.3,485.5 290.1,486.8 291.0,488.0 292.6,488.5 294.3,488.8 296.0,489.2 297.4,490.0 298.6,490.9 299.9,491.9 301.0,493.0 302.6,492.5 304.3,492.1 306.0,491.8 307.2,492.4 308.5,492.5 309.7,493.1 311.0,493.5 312.2,494.0 313.5,494.2 315.0,494.4 316.5,494.1 318.0,494.5 319.5,494.4 321.0,494.2 322.4,493.7 323.8,493.3 325.4,493.5 326.7,492.8 328.1,492.1 329.6,492.2 331.0,491.8 332.2,492.3 333.5,492.7 334.8,493.0 334.8,494.5 335.1,496.0 335.5,497.5 335.8,499.0 336.0,500.5 336.9,499.3 337.6,498.0 338.5,496.8 339.5,495.6 340.1,494.2 341.0,493.0 342.2,492.3 343.6,492.0 344.7,490.9 346.0,490.5 347.2,489.7 348.6,489.2 349.7,488.1 351.0,487.5 352.3,487.8 353.4,488.7 354.8,488.6 356.0,489.2 357.5,489.4 359.0,489.7 360.5,490.1 362.0,490.4 363.5,490.5 364.7,491.1 365.9,491.8 367.2,492.2 368.5,492.5 369.8,493.0 371.3,493.5 372.8,493.8 374.4,494.1 376.0,494.2 377.5,493.8 379.0,493.9 380.5,493.6 382.0,493.2 383.5,493.0 384.6,492.0 386.1,491.4 387.3,490.5 388.4,489.5 389.7,488.7 391.0,488.0 392.2,487.1 393.3,486.0 394.6,485.2 395.8,484.4 397.2,483.8 398.5,483.0 399.7,482.2 400.4,480.9 401.6,480.1 402.4,478.9 403.5,478.0 404.4,476.9 405.3,475.8 406.5,475.0 407.5,474.0 408.5,473.0 410.2,473.3 412.0,473.0"/>
<polyline fill="none" stroke="#222" stroke-width="0.9" stroke-linejoin="round" points="309.8,600.5 310.2,599.1 310.6,597.7 310.5,596.1 311.4,594.9 312.2,593.5 312.6,592.1 312.2,590.5 312.8,589.2 314.6,588.5 315.2,587.1 314.7,585.2 316.0,584.2 317.5,584.3 318.2,582.6 320.1,583.9 321.1,582.6 322.2,581.8 323.8,582.3 325.0,581.6 326.0,580.5 325.8,578.8 326.5,577.6 327.0,576.3 328.5,575.5 329.7,576.3 331.5,575.8 332.6,576.6 333.6,577.8 335.1,578.0 336.0,579.2 337.6,579.7 339.0,579.0 340.2,577.9 341.8,578.3 343.3,578.0 344.6,577.4 346.0,576.8 347.5,577.1 348.7,576.4 349.9,575.8 350.7,574.0 351.9,573.5 353.3,573.4 354.5,572.8 356.0,573.0 357.3,572.3 358.4,571.4 359.8,570.8 359.8,568.8 361.0,568.0 362.3,566.8 364.1,568.2 365.6,567.8 367.1,567.6 368.5,566.8 370.1,567.2 370.5,568.8 371.6,569.6 372.0,571.2 373.5,571.8 372.7,573.4 375.0,574.4 374.0,576.1 375.5,577.2 374.5,578.9 374.5,580.4 376.1,581.5 376.0,583.0 377.1,584.1 378.6,584.9 378.8,586.6 378.4,588.6 380.9,588.8 381.0,590.5 382.2,591.3 382.2,593.3 383.4,594.1 384.3,595.2 386.0,595.5 387.0,596.7 388.2,597.7 389.0,599.1 389.8,600.5"/>
</g>
<mask id="m_z22a" maskUnits="userSpaceOnUse" x="0" y="0" width="1024" height="1024"><rect x="410.4" y="341.4" width="131.20000000000005" height="131.20000000000005" fill="#fff"/><rect x="541.6" y="344.6" width="124.79999999999995" height="124.79999999999995" fill="#000"/><rect x="413.6" y="472.6" width="124.79999999999995" height="124.79999999999995" fill="#000"/><rect x="541.6" y="472.6" width="124.79999999999995" height="124.79999999999995" fill="#000"/><rect x="669.6" y="333.6" width="128.79999999999995" height="128.79999999999995" fill="#000"/><rect x="669.6" y="465.6" width="128.79999999999995" height="131.79999999999995" fill="#000"/><rect x="801.6" y="333.6" width="126.79999999999995" height="64.79999999999995" fill="#000"/><rect x="801.6" y="401.6" width="126.79999999999995" height="196.79999999999995" fill="#000"/><rect x="157.6" y="600.6" width="252.79999999999998" height="146.79999999999995" fill="#000"/><rect x="413.6" y="600.6" width="252.79999999999995" height="146.79999999999995" fill="#000"/><rect x="669.6" y="600.6" width="258.79999999999995" height="146.79999999999995" fill="#000"/><rect x="158.6" y="501.6" width="139.79999999999998" height="140.79999999999995" fill="#000"/><rect x="669.6" y="381.6" width="62.799999999999955" height="62.799999999999955" fill="#000"/></mask>
<g mask="url(#m_z22a)">
<polyline fill="none" stroke="#222" stroke-width="0.9" stroke-linejoin="round" points="497.0,341.8 499.5,344.9 502.6,344.2 504.5,347.4 506.4,350.5 508.2,352.4 510.8,353.0 511.4,356.1 513.2,359.2 515.1,364.2 517.0,367.4 515.8,369.9 515.8,373.0 513.2,374.9 512.6,378.0 509.5,379.9 508.2,383.0 508.2,385.5 504.5,388.0 501.4,391.8 503.2,393.6 505.1,395.5 505.8,398.0 503.9,399.9 501.4,401.1 498.2,399.9 495.8,398.6 492.0,397.4 488.9,398.0 488.9,400.5 490.8,403.0 493.2,406.1 494.5,408.0 499.5,408.6 500.1,411.1 501.4,410.5 502.0,413.0 499.5,414.9 495.1,415.5 493.2,418.0 494.5,421.8 492.0,423.6 487.0,424.9 485.1,426.8 483.9,423.6 481.4,423.0 479.5,420.5 477.6,418.6 476.4,419.9 475.1,421.1 470.8,418.0 467.0,416.8 463.9,414.2 462.0,411.8 462.0,409.2 460.1,406.1 457.6,404.2 454.5,403.2 451.4,404.2 450.1,403.0 447.6,403.6 445.8,404.9 445.8,408.0 447.0,410.5 448.9,411.8 447.6,413.6 445.8,416.1 445.1,419.2 445.8,422.4 447.0,424.2 448.2,424.9 450.8,424.9 454.5,426.8 456.4,429.2 458.2,432.4 459.5,436.1 461.4,439.2 463.2,441.8 463.9,443.0 462.0,443.6 460.8,444.9 462.6,446.8 463.9,450.5 465.1,455.5 465.8,461.8 466.4,471.8"/>
<polyline fill="none" stroke="#222" stroke-width="0.9" stroke-linejoin="round" points="412.0,425.5 414.5,428.0 417.0,429.2 418.9,430.5 420.8,434.9 422.6,436.1 425.8,436.8 428.9,437.4 430.1,439.2 430.8,438.0 430.5,435.5 432.0,434.9 434.5,436.1 437.0,436.8 438.2,434.2 439.5,433.0 442.0,432.8 444.5,430.5 446.4,425.5 448.2,424.9"/>
<polyline fill="none" stroke="#222" stroke-width="0.9" stroke-linejoin="round" points="502.0,413.6 505.8,414.2 509.5,411.8 507.0,404.2 510.8,401.8 514.5,399.2 517.0,398.6 518.9,401.8 519.5,404.9 522.6,406.8 527.0,407.4 530.8,408.0 532.6,410.5 533.9,414.2 533.9,418.0 535.1,421.1 538.2,423.0 540.8,423.6"/>
<polyline fill="none" stroke="#222" stroke-width="0.9" stroke-linejoin="round" points="525.1,342.4 528.2,346.1 532.0,348.0 535.8,348.0 538.2,348.6 540.8,348.0"/>
<polyline fill="none" stroke="#222" stroke-width="0.9" stroke-linejoin="round" points="537.0,348.6 538.2,351.8 540.8,352.4"/>
</g>
<mask id="m_z22b" maskUnits="userSpaceOnUse" x="0" y="0" width="1024" height="1024"><rect x="538.4" y="341.4" width="131.20000000000005" height="131.20000000000005" fill="#fff"/><rect x="413.6" y="472.6" width="124.79999999999995" height="124.79999999999995" fill="#000"/><rect x="541.6" y="472.6" width="124.79999999999995" height="124.79999999999995" fill="#000"/><rect x="669.6" y="333.6" width="128.79999999999995" height="128.79999999999995" fill="#000"/><rect x="669.6" y="465.6" width="128.79999999999995" height="131.79999999999995" fill="#000"/><rect x="801.6" y="333.6" width="126.79999999999995" height="64.79999999999995" fill="#000"/><rect x="801.6" y="401.6" width="126.79999999999995" height="196.79999999999995" fill="#000"/><rect x="157.6" y="600.6" width="252.79999999999998" height="146.79999999999995" fill="#000"/><rect x="413.6" y="600.6" width="252.79999999999995" height="146.79999999999995" fill="#000"/><rect x="669.6" y="600.6" width="258.79999999999995" height="146.79999999999995" fill="#000"/><rect x="158.6" y="501.6" width="139.79999999999998" height="140.79999999999995" fill="#000"/><rect x="669.6" y="381.6" width="62.799999999999955" height="62.799999999999955" fill="#000"/></mask>
<g mask="url(#m_z22b)">
<polyline fill="none" stroke="#222" stroke-width="0.9" stroke-linejoin="round" points="540.0,346.8 543.8,344.9 548.8,343.6 551.2,342.4"/>
<polyline fill="none" stroke="#222" stroke-width="0.9" stroke-linejoin="round" points="540.0,353.0 545.0,356.8 547.5,365.5 548.1,369.9 546.2,372.4 549.4,376.1 552.5,378.6 556.2,380.5 560.0,383.0 561.0,379.2 565.0,376.1 566.9,373.6 566.9,369.2 563.8,367.4 561.2,365.5 560.0,363.0 562.5,360.5 563.1,356.1 564.4,354.2 571.2,353.6 571.2,350.5 571.9,346.8 574.4,342.4"/>
<polyline fill="none" stroke="#222" stroke-width="0.9" stroke-linejoin="round" points="571.2,353.6 571.2,355.5 575.0,358.0 580.0,360.5 585.0,363.0 589.4,365.5 589.4,370.5 588.1,373.0 588.1,378.0 588.1,381.8 583.8,383.0 578.1,383.6 576.9,386.8 572.5,388.0 568.8,387.4 565.0,385.5 562.5,386.1 561.2,389.2 559.4,393.6 562.5,395.5 563.1,399.2 561.9,403.0 560.6,406.1 562.5,408.0 557.5,408.6 553.8,409.9 551.2,411.8 552.5,414.9 553.8,416.8 551.9,418.6 548.8,419.9 546.9,421.1 543.8,423.0 539.4,423.0"/>
<polyline fill="none" stroke="#222" stroke-width="0.9" stroke-linejoin="round" points="551.9,419.2 555.0,420.5 558.8,422.4 565.0,422.4 568.8,423.6 570.0,425.5 572.5,424.9 575.0,426.8 577.5,428.6 581.2,429.9 585.0,429.2 587.5,429.2 591.2,431.8 595.0,434.2 598.8,436.8 601.2,437.4"/>
<polyline fill="none" stroke="#222" stroke-width="0.9" stroke-linejoin="round" points="586.2,429.2 586.2,433.0 588.1,436.1 586.9,439.2 583.8,443.0 581.2,446.8 578.8,450.5 575.0,451.1 573.8,453.0 572.5,456.8 570.0,459.9 567.5,462.4 565.0,463.0"/>
<polyline fill="none" stroke="#222" stroke-width="0.9" stroke-linejoin="round" points="601.2,437.4 601.2,433.0 600.0,428.0 601.9,424.2 606.9,424.2 608.8,422.4 606.2,419.2 603.8,418.0 601.2,415.5 600.0,414.9 605.0,414.9 611.2,414.9 615.0,414.2 616.2,415.5 618.1,414.2 619.4,412.4 618.8,409.9 616.9,407.4 615.0,404.2 613.8,400.5 612.5,396.8 611.2,393.6 610.0,390.5 610.6,386.8 611.9,383.0 613.1,378.0 613.1,373.0 612.5,366.8 611.9,359.2 611.9,355.5 614.4,351.8 615.6,348.0 615.0,342.4"/>
<polyline fill="none" stroke="#222" stroke-width="0.9" stroke-linejoin="round" points="611.2,393.6 615.0,393.0 620.0,391.1 623.8,389.9 627.5,388.0 631.2,386.1 632.5,383.6 637.5,383.0 642.5,383.0 648.1,383.0 650.0,380.5 651.9,376.8 653.1,371.8 653.8,366.1 651.2,361.8 650.6,359.9 653.8,356.8 655.6,351.8 658.1,346.1 657.5,342.4"/>
<polyline fill="none" stroke="#222" stroke-width="0.9" stroke-linejoin="round" points="653.8,366.1 657.5,366.8 661.2,368.0 665.0,369.2 668.8,369.2"/>
<polyline fill="none" stroke="#222" stroke-width="0.9" stroke-linejoin="round" points="619.4,414.9 622.5,419.2 626.2,423.0 630.0,425.5 635.0,428.0 640.0,427.4 645.0,426.8 648.8,426.8 651.2,428.0 652.5,426.8 654.4,428.0 653.8,433.0 655.0,435.5 658.8,436.8 662.5,438.0 665.0,439.9 668.8,441.8"/>
<polyline fill="none" stroke="#222" stroke-width="0.9" stroke-linejoin="round" points="601.2,437.4 605.0,439.2 608.1,441.8 608.8,445.5 608.1,449.2 606.2,450.5 602.5,451.1 600.0,453.0 596.9,453.6 593.8,454.2 590.0,454.9 587.5,455.5 586.2,458.0 586.9,461.8 587.5,465.5 589.4,468.0 591.2,471.8"/>
<polyline fill="none" stroke="#222" stroke-width="0.9" stroke-linejoin="round" points="598.8,471.8 601.2,468.0 605.0,466.8 610.0,466.1 612.5,464.9 613.8,462.4 616.2,461.5 620.0,461.8 622.5,463.0 626.2,463.6 630.0,464.9 632.5,466.1 636.2,468.0 640.0,468.0 642.5,468.6 643.8,466.8 647.5,468.6 650.0,466.8 652.5,468.0 653.8,471.8"/>
<polyline fill="none" stroke="#222" stroke-width="0.9" stroke-linejoin="round" points="580.0,342.4 581.2,344.9 586.2,345.2 590.0,344.5 590.6,342.4"/>
<polyline fill="none" stroke="#222" stroke-width="0.9" stroke-linejoin="round" points="546.2,471.8 548.8,468.0 550.6,465.5 550.0,461.8 550.0,459.2 553.8,456.8 556.2,457.4 560.0,458.6 562.5,459.2"/>
</g>
<mask id="m_z22c" maskUnits="userSpaceOnUse" x="0" y="0" width="1024" height="1024"><rect x="410.4" y="469.4" width="131.20000000000005" height="131.20000000000005" fill="#fff"/><rect x="541.6" y="472.6" width="124.79999999999995" height="124.79999999999995" fill="#000"/><rect x="669.6" y="333.6" width="128.79999999999995" height="128.79999999999995" fill="#000"/><rect x="669.6" y="465.6" width="128.79999999999995" height="131.79999999999995" fill="#000"/><rect x="801.6" y="333.6" width="126.79999999999995" height="64.79999999999995" fill="#000"/><rect x="801.6" y="401.6" width="126.79999999999995" height="196.79999999999995" fill="#000"/><rect x="157.6" y="600.6" width="252.79999999999998" height="146.79999999999995" fill="#000"/><rect x="413.6" y="600.6" width="252.79999999999995" height="146.79999999999995" fill="#000"/><rect x="669.6" y="600.6" width="258.79999999999995" height="146.79999999999995" fill="#000"/><rect x="158.6" y="501.6" width="139.79999999999998" height="140.79999999999995" fill="#000"/><rect x="669.6" y="381.6" width="62.799999999999955" height="62.799999999999955" fill="#000"/></mask>
<g mask="url(#m_z22c)">
<polyline fill="none" stroke="#222" stroke-width="0.9" stroke-linejoin="round" points="411.4,474.1 417.0,476.0 422.0,474.1 427.0,471.6 428.9,470.4"/>
<polyline fill="none" stroke="#222" stroke-width="0.9" stroke-linejoin="round" points="428.9,470.4 430.1,473.5 430.8,476.6 433.9,478.5 435.1,481.0 432.0,486.0 434.5,486.6 439.5,487.2 444.5,488.5 447.6,484.8 449.5,485.4 452.0,487.9 454.5,489.8 456.4,487.9 458.9,489.1 460.8,488.5 462.0,483.5 462.6,478.5 465.8,478.5 467.0,474.8 466.4,470.4"/>
<polyline fill="none" stroke="#222" stroke-width="0.9" stroke-linejoin="round" points="454.5,489.8 455.8,494.1 457.0,497.9 458.9,497.2 461.4,497.2 462.6,501.0 462.6,506.0 463.2,511.0 462.0,516.0 460.8,521.0 458.9,522.2 457.6,525.4 454.5,526.6 452.0,529.8 450.8,532.2 449.5,534.8 448.9,538.5 447.6,540.4 448.9,543.5 449.5,546.0 448.9,549.1 449.5,550.4 453.2,548.5 455.8,547.2 459.5,546.6 464.5,547.2 462.6,549.1 463.9,554.1 464.5,557.2 467.0,559.8 470.8,561.0 472.6,562.9 470.8,564.8 470.1,569.8 468.9,573.5 472.0,575.4 475.8,576.0 478.2,576.0 478.9,578.5 481.4,581.6 483.2,584.1 484.5,584.1 488.2,582.2 492.6,581.0 493.9,583.5 494.5,586.6 497.0,587.9 499.5,587.9 501.4,588.5 501.4,583.5 501.4,581.0 500.1,576.0 499.5,571.0 503.2,569.8 507.6,569.8 510.8,567.2 513.2,567.2 515.8,569.1 518.2,570.4 519.5,568.5 522.0,566.6 524.5,568.5 527.0,567.2 530.8,566.0 534.5,565.4 537.0,564.8 540.8,564.1"/>
<polyline fill="none" stroke="#222" stroke-width="0.9" stroke-linejoin="round" points="467.0,470.4 467.6,477.2 468.9,483.5 469.5,488.5 471.4,489.1 472.0,483.5 474.5,481.0 477.0,482.9 478.9,484.8 480.1,488.5 481.4,492.9 483.9,494.8 487.0,493.5 488.9,497.2 492.0,503.5 494.5,507.2 497.6,512.2 499.5,516.0 502.0,518.5 504.5,519.1 507.0,517.9 510.8,516.6 513.2,516.0 515.8,516.0 517.0,513.5 517.0,508.5 516.4,506.0 515.8,502.9 518.2,499.8 522.0,496.0 522.6,491.0 524.5,488.5 527.0,486.0 528.9,483.5 533.2,483.5 534.5,487.2 533.9,491.0 535.8,493.5 538.2,494.1 540.8,494.1"/>
<polyline fill="none" stroke="#222" stroke-width="0.9" stroke-linejoin="round" points="522.0,496.0 525.8,500.4 529.5,501.0 533.2,500.8 537.0,501.6 540.8,501.6"/>
<polyline fill="none" stroke="#222" stroke-width="0.9" stroke-linejoin="round" points="526.4,501.6 525.8,506.0 526.4,511.0 529.5,512.2 534.5,511.6 537.0,513.5 538.2,516.0 536.4,520.4 533.9,524.8 534.5,527.9 538.2,532.2 537.0,536.0 536.4,541.0 538.2,543.5 540.8,544.1"/>
</g>
<mask id="m_z22d" maskUnits="userSpaceOnUse" x="0" y="0" width="1024" height="1024"><rect x="538.4" y="469.4" width="131.20000000000005" height="131.20000000000005" fill="#fff"/><rect x="669.6" y="333.6" width="128.79999999999995" height="128.79999999999995" fill="#000"/><rect x="669.6" y="465.6" width="128.79999999999995" height="131.79999999999995" fill="#000"/><rect x="801.6" y="333.6" width="126.79999999999995" height="64.79999999999995" fill="#000"/><rect x="801.6" y="401.6" width="126.79999999999995" height="196.79999999999995" fill="#000"/><rect x="157.6" y="600.6" width="252.79999999999998" height="146.79999999999995" fill="#000"/><rect x="413.6" y="600.6" width="252.79999999999995" height="146.79999999999995" fill="#000"/><rect x="669.6" y="600.6" width="258.79999999999995" height="146.79999999999995" fill="#000"/><rect x="158.6" y="501.6" width="139.79999999999998" height="140.79999999999995" fill="#000"/><rect x="669.6" y="381.6" width="62.799999999999955" height="62.799999999999955" fill="#000"/></mask>
<g mask="url(#m_z22d)">
<polyline fill="none" stroke="#222" stroke-width="0.9" stroke-linejoin="round" points="550.6,484.8 552.5,482.9 556.2,482.2 560.0,483.5 565.0,483.5 568.8,481.6 571.2,479.1 573.8,477.9 576.2,476.0 578.8,476.6 582.5,477.2 586.2,480.4 588.8,482.9 590.0,486.6 591.2,488.5 593.8,489.1 596.2,487.2 596.9,483.5 597.5,479.8 598.1,476.0 597.5,470.4"/>
<polyline fill="none" stroke="#222" stroke-width="0.9" stroke-linejoin="round" points="550.6,484.8 551.9,487.2 556.2,489.8 559.4,491.6 558.8,494.1 555.0,496.0 550.0,495.4 546.2,493.5 543.8,492.2 541.2,492.9 539.4,494.8"/>
<polyline fill="none" stroke="#222" stroke-width="0.9" stroke-linejoin="round" points="539.4,499.8 543.8,501.0 545.6,497.2 546.2,493.5"/>
<polyline fill="none" stroke="#222" stroke-width="0.9" stroke-linejoin="round" points="596.9,483.5 597.5,489.8 598.1,493.5 597.5,496.0 596.2,498.5 593.1,501.6 591.2,504.8 593.8,505.4 597.5,504.8 600.0,506.6 600.6,508.5 598.8,511.0 597.5,513.5 598.8,517.2 598.8,519.8 597.5,522.2 595.0,523.5 593.8,526.0 592.5,527.2 590.0,527.9 587.5,528.5 585.0,529.1 582.5,529.8 578.8,532.2 577.5,532.9"/>
<polyline fill="none" stroke="#222" stroke-width="0.9" stroke-linejoin="round" points="577.5,532.9 573.8,529.8 571.2,527.9 569.4,527.2 567.5,529.8 565.0,532.2 560.6,533.5 556.9,535.4 552.5,536.6 550.0,536.0 547.5,535.4 545.0,536.0 542.5,537.2 539.4,538.5"/>
<polyline fill="none" stroke="#222" stroke-width="0.9" stroke-linejoin="round" points="598.8,519.8 601.2,521.0 603.8,519.8 606.2,518.5 610.0,519.1 613.8,517.2 617.5,516.0 621.2,516.6 622.5,519.8 623.1,523.5 622.5,527.2 620.6,531.0 618.8,533.5 619.4,536.0 622.5,537.2 625.0,539.1 628.8,539.1 631.9,539.1 633.1,542.2 632.5,546.0 631.2,549.8 627.5,553.5 625.0,558.5 623.8,563.5 621.2,566.0 618.8,568.5 616.2,571.0 613.8,573.5 611.2,576.0 608.8,578.5 606.2,581.0 605.0,582.9 603.8,586.0 603.1,591.0 603.8,596.0 605.0,599.8"/>
<polyline fill="none" stroke="#222" stroke-width="0.9" stroke-linejoin="round" points="631.9,539.1 635.0,536.6 638.8,534.8 641.2,533.5 645.0,530.4 647.5,528.5 651.2,529.1 655.0,529.8 657.5,528.5 660.0,528.5 663.8,529.8 665.6,532.2 665.0,534.8 663.1,536.6 661.2,538.5 661.9,541.0 665.0,541.0 668.8,540.4"/>
<polyline fill="none" stroke="#222" stroke-width="0.9" stroke-linejoin="round" points="656.2,528.5 656.9,523.5 657.5,518.5 656.9,514.8 656.2,508.5 655.0,504.8 653.8,501.0 652.5,497.2 653.8,493.5 656.2,489.8 658.8,486.0 660.0,482.2 658.1,478.5 656.2,476.6 653.1,475.4 652.5,472.9 653.8,470.4"/>
<polyline fill="none" stroke="#222" stroke-width="0.9" stroke-linejoin="round" points="657.5,476.0 661.2,473.5 665.0,472.2 668.8,471.6"/>
<polyline fill="none" stroke="#222" stroke-width="0.9" stroke-linejoin="round" points="539.4,536.0 542.5,542.2 545.0,546.0 548.8,547.2 552.5,547.9 555.6,549.1 556.9,552.2 556.2,554.8 553.8,557.2 550.0,558.5 547.5,559.1 543.8,559.8 539.4,561.0"/>
<polyline fill="none" stroke="#222" stroke-width="0.9" stroke-linejoin="round" points="549.4,559.1 551.2,561.6 555.0,563.5 560.0,564.1 563.8,566.0 565.0,567.9 563.8,571.0 563.1,574.8 565.0,577.2 568.8,579.8 572.5,581.0 575.0,581.6"/>
<polyline fill="none" stroke="#222" stroke-width="0.9" stroke-linejoin="round" points="562.5,599.8 563.8,598.3 564.2,596.6 563.8,594.8 564.7,593.3 565.0,591.6 566.9,591.0 568.3,589.9 570.0,589.1 571.2,588.1 572.5,587.2 573.8,586.7 574.8,585.6 576.2,585.4 577.5,584.5 578.8,583.5 580.0,583.1 581.4,583.0 582.5,582.2 583.5,581.0 584.9,581.2 586.2,581.0 587.6,580.5 588.1,579.1 589.2,579.9 590.0,581.0 591.9,581.0 593.8,581.6 594.9,582.3 596.0,583.1 597.5,582.9 599.1,583.0 600.0,581.6 601.5,582.2 602.5,583.5 603.8,582.2 605.0,583.5"/>
<polyline fill="none" stroke="#222" stroke-width="0.9" stroke-linejoin="round" points="610.0,591.0 611.3,589.8 612.5,588.5 613.5,587.0 615.0,586.0 616.0,584.9 617.7,585.6 618.6,584.1 620.0,584.1 621.9,584.4 623.6,584.2 625.0,582.9 626.5,581.9 628.2,581.5 630.0,581.6 631.7,581.3 633.3,580.7 635.0,580.4 636.6,579.4 638.2,579.2 640.0,579.8 641.3,579.4 642.5,578.8 643.8,578.5 644.9,577.2 646.2,576.0 647.0,574.3 648.8,573.5 649.8,572.4 650.0,571.0 649.8,569.5 650.4,568.4 651.2,567.2 652.4,565.5 651.9,563.5 652.5,566.0 653.6,567.4 655.0,568.5 655.5,570.5 657.5,571.0 658.5,570.0 660.0,569.8 661.6,570.2 662.3,568.4 663.8,568.5 665.4,568.6 665.9,566.5 667.6,566.9 668.8,566.0"/>
<polyline fill="none" stroke="#222" stroke-width="0.9" stroke-linejoin="round" points="563.8,591.0 566.2,592.9 568.8,591.6 570.0,594.1"/>
<polyline fill="none" stroke="#222" stroke-width="0.9" stroke-linejoin="round" points="572.5,588.5 575.0,591.0 577.5,589.1 578.8,592.2"/>
<polyline fill="none" stroke="#222" stroke-width="0.9" stroke-linejoin="round" points="608.8,587.2 611.2,591.0 612.5,594.8 610.0,596.0"/>
<polyline fill="none" stroke="#222" stroke-width="0.9" stroke-linejoin="round" points="643.8,571.0 646.2,574.8 648.8,577.2 652.5,576.0 655.0,574.8 658.8,577.2 661.2,574.8"/>
</g>
<mask id="m_z23a" maskUnits="userSpaceOnUse" x="0" y="0" width="1024" height="1024"><rect x="666.4" y="330.4" width="135.20000000000005" height="135.20000000000005" fill="#fff"/><rect x="669.6" y="465.6" width="128.79999999999995" height="131.79999999999995" fill="#000"/><rect x="801.6" y="333.6" width="126.79999999999995" height="64.79999999999995" fill="#000"/><rect x="801.6" y="401.6" width="126.79999999999995" height="196.79999999999995" fill="#000"/><rect x="157.6" y="600.6" width="252.79999999999998" height="146.79999999999995" fill="#000"/><rect x="413.6" y="600.6" width="252.79999999999995" height="146.79999999999995" fill="#000"/><rect x="669.6" y="600.6" width="258.79999999999995" height="146.79999999999995" fill="#000"/><rect x="158.6" y="501.6" width="139.79999999999998" height="140.79999999999995" fill="#000"/><rect x="669.6" y="381.6" width="62.799999999999955" height="62.799999999999955" fill="#000"/></mask>
<g mask="url(#m_z23a)">
<polyline fill="none" stroke="#222" stroke-width="0.9" stroke-linejoin="round" points="705.4,331.4 706.7,334.6 709.2,336.5 713.1,337.2 719.6,336.5 721.5,341.0 720.8,344.9 720.8,348.8 723.4,352.0 727.3,352.6 731.2,352.0 734.4,348.8 737.6,344.9 742.8,343.6 746.6,344.2 750.5,346.8 754.4,348.1 758.2,348.8 762.7,348.1 767.3,348.8 767.9,351.3 766.0,353.9 764.0,357.1 760.8,357.1 756.9,359.1 753.1,359.7 749.2,361.6 745.3,363.6 742.1,366.2 740.2,368.1 737.6,369.4 735.7,369.4 734.4,372.0 732.4,374.5 729.9,376.5 727.9,379.7 726.0,382.9 724.7,384.8 723.4,387.4 724.7,390.0 727.3,392.6 731.2,395.2 735.0,396.4 737.6,397.7 738.9,401.6 740.8,406.8 742.8,411.9 744.7,417.1 745.3,420.9 747.9,424.8 751.1,427.4 751.8,430.0 755.7,431.9 758.2,435.1 758.9,439.0 757.6,442.2 754.4,442.9 750.5,440.9 746.6,439.0"/>
<polyline fill="none" stroke="#222" stroke-width="0.9" stroke-linejoin="round" points="705.4,331.4 704.1,334.6 700.2,337.2 693.8,341.7 688.6,344.9 682.8,350.0 680.9,353.3 678.3,356.5 675.1,359.7 673.2,362.9 673.8,366.8 675.1,369.4 672.5,371.3 667.4,370.7"/>
<polyline fill="none" stroke="#222" stroke-width="0.9" stroke-linejoin="round" points="675.7,372.0 679.6,370.7 684.8,370.0 683.5,371.3 679.6,373.2 675.7,375.8 673.2,378.4 670.6,382.3 667.4,386.1"/>
<polyline fill="none" stroke="#222" stroke-width="0.9" stroke-linejoin="round" points="667.4,387.4 673.2,390.0 677.0,393.2 682.2,393.9 687.3,392.6 688.6,390.0 691.8,388.7 695.1,389.4 697.6,391.9 700.2,395.8 704.1,393.9 708.0,393.9 710.5,395.8 713.1,394.5 715.7,391.9 718.9,390.0 722.1,387.4"/>
<polyline fill="none" stroke="#222" stroke-width="0.9" stroke-linejoin="round" points="687.3,392.6 688.0,395.2 691.2,396.4 694.4,397.7 697.6,399.7 700.2,401.6 702.8,404.2 706.0,406.1 709.2,406.8 708.0,410.6 707.3,414.5 710.5,417.1 711.8,419.7 714.4,420.9 718.3,419.7 722.1,420.9 723.4,423.5 722.1,426.1 718.9,427.4 716.3,428.7 714.4,431.3 713.8,433.8 714.4,436.4 715.7,439.0 716.3,442.9 719.6,445.4 724.7,446.1 728.6,446.1 731.2,448.0 732.4,450.6 733.7,453.2 731.2,455.7 728.6,457.0 724.7,455.7 722.1,457.0 720.8,459.6 719.6,464.8"/>
<polyline fill="none" stroke="#222" stroke-width="0.9" stroke-linejoin="round" points="673.2,414.5 674.4,409.3 677.7,404.8 680.2,402.3 682.8,402.9 684.8,405.5 688.6,406.1 690.6,404.2 689.3,400.3 687.3,397.7"/>
<polyline fill="none" stroke="#222" stroke-width="0.9" stroke-linejoin="round" points="667.4,417.1 670.6,419.7 673.2,422.2 675.7,423.5 680.9,424.2 681.5,427.4 680.9,432.5 680.9,436.4 678.3,439.0 675.7,440.3 673.2,440.3 670.6,441.6 667.4,441.6"/>
<polyline fill="none" stroke="#222" stroke-width="0.9" stroke-linejoin="round" points="675.7,440.3 677.0,442.9 679.6,445.4 682.2,448.0 683.5,450.6 680.9,452.5 680.2,455.7 682.2,459.6 683.5,464.8"/>
<polyline fill="none" stroke="#222" stroke-width="0.9" stroke-linejoin="round" points="735.0,433.8 736.2,433.0 737.6,433.3 739.1,433.6 740.2,432.5 741.9,432.2 743.7,433.0 745.3,432.3 746.6,432.9 748.1,432.4 749.2,433.3 750.5,433.8 751.9,435.1 753.7,435.8 755.2,436.4 756.3,437.5 756.9,439.0 757.0,440.4 758.5,441.3 758.2,442.9 757.7,444.2 756.9,445.4 757.2,446.9 758.2,448.0 756.9,449.9 755.0,449.2 753.1,449.9 751.9,449.1 750.5,449.4 749.2,449.3 747.3,449.8 745.3,449.3 744.4,450.7 742.8,451.2 741.6,452.1 741.1,453.4 740.2,454.5 739.9,456.0 738.4,456.6 737.6,457.7 737.4,459.5 736.3,460.9 736.5,462.3 737.0,463.5 737.6,464.8"/>
<polyline fill="none" stroke="#222" stroke-width="0.9" stroke-linejoin="round" points="729.9,446.7 732.4,445.4 735.0,445.4 740.2,448.0 745.3,449.3"/>
<polyline fill="none" stroke="#222" stroke-width="0.9" stroke-linejoin="round" points="758.2,454.5 760.8,453.2 764.7,451.9"/>
<polyline fill="none" stroke="#222" stroke-width="0.9" stroke-linejoin="round" points="760.8,458.3 763.4,459.6 766.0,457.0"/>
</g>
<mask id="m_z23c" maskUnits="userSpaceOnUse" x="0" y="0" width="1024" height="1024"><rect x="666.4" y="462.4" width="135.20000000000005" height="138.20000000000005" fill="#fff"/><rect x="801.6" y="333.6" width="126.79999999999995" height="64.79999999999995" fill="#000"/><rect x="801.6" y="401.6" width="126.79999999999995" height="196.79999999999995" fill="#000"/><rect x="157.6" y="600.6" width="252.79999999999998" height="146.79999999999995" fill="#000"/><rect x="413.6" y="600.6" width="252.79999999999995" height="146.79999999999995" fill="#000"/><rect x="669.6" y="600.6" width="258.79999999999995" height="146.79999999999995" fill="#000"/><rect x="158.6" y="501.6" width="139.79999999999998" height="140.79999999999995" fill="#000"/><rect x="669.6" y="381.6" width="62.799999999999955" height="62.799999999999955" fill="#000"/></mask>
<g mask="url(#m_z23c)">
<polyline fill="none" stroke="#222" stroke-width="0.9" stroke-linejoin="round" points="765.6,463.3 764.8,464.6 764.3,465.9 762.9,466.6 762.3,468.6 760.3,469.3 760.2,471.1 758.9,472.1 757.7,473.2 756.1,474.1 756.1,475.8 755.7,477.2 755.7,478.7 755.1,480.0 754.0,481.1 753.7,482.5 752.5,483.6 751.5,484.8 751.1,486.4 750.3,488.3 748.4,489.0 746.8,490.1 745.8,491.7 744.7,493.3 743.1,494.3 742.8,495.8 742.4,497.3 741.2,498.3 740.2,499.4 740.3,501.2 739.2,502.2 737.6,502.5 736.6,503.5 735.9,504.9 734.8,506.1 733.9,507.5 732.5,508.4 732.6,510.1 731.5,511.3 732.6,513.1 731.3,514.1 731.6,515.7 730.0,516.6 730.0,518.1 730.1,519.6 728.2,520.4 728.6,522.0 728.4,523.3 728.7,524.7 728.0,526.0 726.9,527.2 726.0,528.6 725.4,530.6 723.4,531.2 722.4,532.9 720.7,533.9 719.6,535.2 718.1,535.9 716.9,537.1 716.0,538.7 714.1,539.1 713.4,540.9 711.2,540.5 710.2,541.8 709.3,543.4 707.9,544.1 706.2,544.4 705.9,546.1 704.3,546.9 703.6,548.4 701.6,549.0 701.0,551.0 699.5,551.8 697.7,551.9 697.0,553.7 695.6,554.9 694.4,556.3 692.8,557.0 691.7,558.3 690.4,559.2 689.1,560.2 687.7,560.7 686.5,561.6 685.4,562.7 683.7,562.1 682.5,562.9 681.2,563.4 679.6,563.0 678.5,564.2 677.5,565.3 675.7,564.4 674.6,565.5 673.2,565.8 671.6,565.5 670.6,566.8 669.2,568.1 667.3,568.2"/>
<polyline fill="none" stroke="#222" stroke-width="0.9" stroke-linejoin="round" points="667.3,470.6 673.3,468.0 678.5,466.0 683.8,465.3 685.1,463.3"/>
<polyline fill="none" stroke="#222" stroke-width="0.9" stroke-linejoin="round" points="691.7,463.3 693.0,468.0 698.3,466.6 702.3,468.6 706.2,470.6 710.2,470.6 714.1,468.0 718.1,465.3 719.4,463.3"/>
<polyline fill="none" stroke="#222" stroke-width="0.9" stroke-linejoin="round" points="710.2,470.6 708.9,474.5 708.2,478.5 711.5,483.8 714.1,487.7 718.1,489.0 719.4,494.3 720.7,498.3 723.4,499.6 727.3,498.3 730.0,500.9 733.9,502.2 736.6,500.9 739.2,503.6"/>
<polyline fill="none" stroke="#222" stroke-width="0.9" stroke-linejoin="round" points="714.1,487.7 710.2,489.7 706.2,491.7 702.3,493.0 699.6,494.3 697.0,496.3 696.3,498.9 697.0,502.2 694.4,504.9 691.7,506.2 690.4,508.8 689.1,512.8 687.8,516.7 686.5,519.4 685.1,522.0 683.8,526.0 682.5,529.9 681.2,535.2 680.5,540.5"/>
<polyline fill="none" stroke="#222" stroke-width="0.9" stroke-linejoin="round" points="667.3,540.5 673.3,538.5 677.2,539.1 680.5,540.5 683.8,537.2 687.8,537.8 691.7,539.8 694.4,542.4 695.7,547.1 696.3,551.0 696.3,555.0"/>
<polyline fill="none" stroke="#222" stroke-width="0.9" stroke-linejoin="round" points="754.4,530.6 757.7,531.9 759.6,533.9 759.0,537.8 757.7,543.1 755.7,548.4 755.0,553.7 752.4,560.2 749.7,564.2 747.1,568.2 745.8,572.1 744.5,577.4 743.1,576.1 741.8,572.1 739.2,569.5 736.6,565.5 735.2,561.6 735.2,556.3 736.6,551.0 739.2,547.1 741.8,543.1 744.5,539.1 747.1,535.9 749.7,533.2 752.4,531.2 754.4,530.6"/>
<polyline fill="none" stroke="#222" stroke-width="0.9" stroke-linejoin="round" points="727.3,555.0 729.3,556.3 728.6,559.6"/>
<polyline fill="none" stroke="#222" stroke-width="0.9" stroke-linejoin="round" points="781.4,544.4 784.0,543.1 788.0,541.8"/>
<polyline fill="none" stroke="#222" stroke-width="0.9" stroke-linejoin="round" points="759.0,590.6 759.6,594.5 759.0,598.5"/>
<polyline fill="none" stroke="#222" stroke-width="0.9" stroke-linejoin="round" points="730.0,508.8 731.3,511.5 733.9,510.1 732.6,514.1"/>
<polyline fill="none" stroke="#222" stroke-width="0.9" stroke-linejoin="round" points="726.0,526.0 728.6,527.3 730.0,529.9 728.0,531.2"/>
<polyline fill="none" stroke="#222" stroke-width="0.9" stroke-linejoin="round" points="707.6,541.8 710.2,543.1 711.5,540.5"/>
<polyline fill="none" stroke="#222" stroke-width="0.9" stroke-linejoin="round" points="694.4,556.3 698.3,555.0 699.6,557.6"/>
</g>
<mask id="m_z23b" maskUnits="userSpaceOnUse" x="0" y="0" width="1024" height="1024"><rect x="798.4" y="330.4" width="133.20000000000005" height="71.20000000000005" fill="#fff"/><rect x="801.6" y="401.6" width="126.79999999999995" height="196.79999999999995" fill="#000"/><rect x="157.6" y="600.6" width="252.79999999999998" height="146.79999999999995" fill="#000"/><rect x="413.6" y="600.6" width="252.79999999999995" height="146.79999999999995" fill="#000"/><rect x="669.6" y="600.6" width="258.79999999999995" height="146.79999999999995" fill="#000"/><rect x="158.6" y="501.6" width="139.79999999999998" height="140.79999999999995" fill="#000"/><rect x="669.6" y="381.6" width="62.799999999999955" height="62.799999999999955" fill="#000"/></mask>
<g mask="url(#m_z23b)">
</g>
<mask id="m_z_jp" maskUnits="userSpaceOnUse" x="0" y="0" width="1024" height="1024"><rect x="798.4" y="398.4" width="133.20000000000005" height="203.20000000000005" fill="#fff"/><rect x="157.6" y="600.6" width="252.79999999999998" height="146.79999999999995" fill="#000"/><rect x="413.6" y="600.6" width="252.79999999999995" height="146.79999999999995" fill="#000"/><rect x="669.6" y="600.6" width="258.79999999999995" height="146.79999999999995" fill="#000"/><rect x="158.6" y="501.6" width="139.79999999999998" height="140.79999999999995" fill="#000"/><rect x="669.6" y="381.6" width="62.799999999999955" height="62.799999999999955" fill="#000"/></mask>
<g mask="url(#m_z_jp)">
</g>
<mask id="m_t31" maskUnits="userSpaceOnUse" x="0" y="0" width="1024" height="1024"><rect x="154.4" y="597.4" width="259.20000000000005" height="153.20000000000005" fill="#fff"/><rect x="413.6" y="600.6" width="252.79999999999995" height="146.79999999999995" fill="#000"/><rect x="669.6" y="600.6" width="258.79999999999995" height="146.79999999999995" fill="#000"/><rect x="158.6" y="501.6" width="139.79999999999998" height="140.79999999999995" fill="#000"/><rect x="669.6" y="381.6" width="62.799999999999955" height="62.799999999999955" fill="#000"/></mask>
<g mask="url(#m_t31)">
<polyline fill="none" stroke="#222" stroke-width="0.9" stroke-linejoin="round" points="312.2,588.8 312.4,590.4 312.7,592.1 313.0,593.8 312.1,594.9 311.9,596.4 311.0,597.5 309.8,598.5 308.3,599.2 307.2,600.3 306.0,601.2 304.7,601.4 303.5,602.1 302.3,602.8 301.0,602.9 299.8,603.4 298.5,603.8 297.1,604.4 296.0,605.4 294.9,606.5 293.3,606.9 292.1,607.7 291.0,608.8 289.9,609.8 288.9,610.8 288.0,612.0 287.1,613.1 285.8,614.0 284.8,615.0 283.5,615.9 282.6,617.1 281.8,618.3 280.6,619.2 279.5,620.1 278.5,621.2 277.5,622.2 276.3,623.0 275.1,623.7 274.1,624.7 273.1,625.6 272.1,626.6 271.0,627.5 269.8,628.4 268.7,629.4 267.1,629.8 266.0,630.9 264.9,631.9 263.5,632.5 262.2,633.2 261.3,634.2 260.2,635.1 259.2,636.0 258.1,636.9 257.2,638.0 256.0,638.8 255.3,639.9 253.9,640.4 253.2,641.5 252.2,642.5 252.7,644.2 253.4,645.8 253.5,647.5 252.3,648.2 251.1,648.9 249.7,649.3 248.5,650.0 247.3,650.5 245.9,650.5 244.8,651.3 243.5,651.6 242.2,651.9 241.0,652.5 240.1,653.6 238.9,654.4 237.8,655.3 236.8,656.3 236.0,657.5 234.5,658.5 233.5,660.0 232.2,659.7 231.1,658.9 229.8,658.8 228.6,659.5 227.8,660.6 227.1,661.7 226.0,662.5 225.6,664.0 225.4,665.5 225.1,667.1 224.7,668.6 224.0,670.0 224.0,671.5 224.6,673.0 224.2,674.5 224.7,676.0 224.8,677.5 225.0,678.8 225.3,680.1 225.9,681.3 226.6,682.4 226.6,683.8 227.2,685.0 227.0,686.4 227.0,687.9 227.6,689.3 227.6,690.7 227.6,692.1 227.0,693.6 227.2,695.0 226.8,696.3 226.5,697.5 225.9,698.7 225.3,699.9 225.1,701.2 224.8,702.5 224.0,703.6 223.8,705.0 223.6,706.3 223.0,707.5 222.4,708.7 222.2,710.0 222.0,711.4 222.0,712.9 221.9,714.3 221.6,715.7 221.8,717.2 221.4,718.6 221.5,720.0 221.2,721.4 221.4,722.8 221.2,724.2 221.0,725.5 221.4,727.0 220.8,728.3 220.8,729.7 221.2,731.1 221.0,732.5 219.3,732.8 217.7,733.3 216.0,733.8 214.7,734.5 213.4,735.3 212.2,736.2 212.1,737.6 211.6,738.9 211.0,740.1 210.2,741.2 209.8,742.5 210.1,743.8 210.4,745.0 211.0,746.2 212.7,746.4 214.3,747.4 216.0,747.5"/>
<polyline fill="none" stroke="#222" stroke-width="0.9" stroke-linejoin="round" points="219.8,741.2 220.9,740.3 222.1,739.4 223.5,738.8 225.2,738.9 226.9,739.3 228.5,740.0 229.2,741.4 229.9,742.6 231.0,743.8 231.9,744.9 232.7,746.2 233.5,747.5"/>
<polyline fill="none" stroke="#222" stroke-width="0.9" stroke-linejoin="round" points="157.2,697.5 157.6,698.9 158.3,700.1 158.9,701.4 159.8,702.5 160.5,703.7 161.0,705.0 162.0,706.2 162.7,707.5 163.5,708.7 164.5,709.9 165.1,711.3 166.0,712.5 166.9,713.6 167.1,715.1 167.8,716.3 168.5,717.5 169.3,718.7 169.8,720.0 169.9,721.4 170.4,722.6 171.4,723.7 171.5,725.1 172.1,726.3 172.7,727.5 173.0,728.8 173.5,730.0 173.6,731.5 174.0,732.9 174.7,734.3 174.9,735.7 175.3,737.1 175.5,738.6 176.0,740.0 176.6,741.4 176.7,742.9 176.9,744.3 177.3,745.7 178.1,747.1 178.2,748.5 178.5,750.0"/>
<polyline fill="none" stroke="#222" stroke-width="0.9" stroke-linejoin="round" points="389.8,690.0 389.5,691.7 389.0,693.4 388.5,695.0 387.9,696.6 387.5,698.3 387.2,700.0 386.9,701.7 386.4,703.3 386.0,705.0 385.3,706.6 384.8,708.2 384.8,710.0 384.8,711.7 385.1,713.3 384.8,715.0 384.9,716.7 385.5,718.3 385.5,720.0"/>
<polyline fill="none" stroke="#222" stroke-width="0.9" stroke-linejoin="round" points="388.5,692.5 389.2,693.7 389.8,695.0 390.7,696.1 391.0,697.5 390.7,699.0 390.4,700.5 390.5,702.0 389.9,703.5 389.8,705.0 388.8,706.1 388.3,707.4 387.8,708.7 387.2,710.0"/>
<polyline fill="none" stroke="#222" stroke-width="0.9" stroke-linejoin="round" points="382.2,726.2 384.0,725.0 384.4,726.3 385.0,727.5 383.0,729.0 382.7,727.6 382.2,726.2"/>
<polyline fill="none" stroke="#222" stroke-width="0.9" stroke-linejoin="round" points="379.8,588.8 380.0,590.3 381.8,590.9 381.8,592.6 382.6,593.8 383.5,595.0 384.3,596.2 385.2,597.3 386.3,598.2 387.9,598.6 388.5,600.0 389.0,601.6 390.4,602.5 391.6,603.6 392.2,605.0 393.3,605.8 393.9,607.1 395.4,607.5 396.0,608.8 396.6,610.2 397.3,611.5 398.5,612.5 399.3,613.7 399.8,615.0 400.2,616.3 401.0,617.5 401.0,618.9 402.3,619.8 402.4,621.2 402.9,622.4 403.1,623.7 403.5,625.0 403.9,626.4 404.6,627.8 404.8,629.2 405.1,630.7 405.3,632.1 405.7,633.6 406.0,635.0 406.7,636.4 406.4,637.9 406.1,639.3 406.1,640.8 407.4,642.1 407.4,643.5 407.2,645.0 407.5,646.6 407.3,648.1 406.8,649.5 406.8,651.1 406.0,652.5 405.6,654.2 405.7,655.8 406.0,657.5 407.3,657.8 408.4,658.6 409.8,658.8 410.8,659.6 412.4,659.3 413.5,660.0"/>
<polyline fill="none" stroke="#222" stroke-width="0.9" stroke-linejoin="round" points="388.5,600.0 389.7,600.7 390.9,601.4 392.4,601.6 393.5,602.5 393.9,603.8 394.6,605.1 395.3,606.3 396.0,607.5"/>
<polyline fill="none" stroke="#222" stroke-width="0.9" stroke-linejoin="round" points="396.0,612.5 397.2,613.5 398.5,614.1 399.8,615.0 401.0,614.3 402.2,613.8"/>
</g>
<mask id="m_t32" maskUnits="userSpaceOnUse" x="0" y="0" width="1024" height="1024"><rect x="410.4" y="597.4" width="259.20000000000005" height="153.20000000000005" fill="#fff"/><rect x="669.6" y="600.6" width="258.79999999999995" height="146.79999999999995" fill="#000"/><rect x="158.6" y="501.6" width="139.79999999999998" height="140.79999999999995" fill="#000"/><rect x="669.6" y="381.6" width="62.799999999999955" height="62.799999999999955" fill="#000"/></mask>
<g mask="url(#m_t32)">
<polyline fill="none" stroke="#222" stroke-width="0.9" stroke-linejoin="round" points="410.8,657.5 412.3,658.0 413.9,658.1 415.5,658.3 417.0,658.8 418.1,657.9 419.7,657.9 421.0,657.4 422.0,656.2 423.3,655.4 424.2,654.0 425.4,653.0 427.0,652.5 428.4,651.7 429.6,650.8 430.9,649.8 432.0,648.8 433.3,648.2 433.9,646.9 434.7,645.8 435.8,645.0 436.6,643.9 437.0,642.5 437.9,641.4 438.2,640.0 439.5,638.8 440.6,639.9 441.1,641.4 442.3,642.5 443.2,643.8 443.7,645.2 444.3,646.5 445.2,647.7 446.6,648.5 447.0,650.0 446.7,651.6 447.1,653.1 448.0,654.5 447.9,656.0 448.2,657.5 448.0,659.1 449.1,660.4 449.6,661.9 448.8,663.6 449.5,665.0 449.6,666.5 450.0,668.0 450.3,669.5 450.3,671.0 450.8,672.5 451.6,673.6 452.0,674.9 452.0,676.2 452.7,677.4 452.3,678.9 453.2,680.0 453.5,681.5 454.1,682.9 453.7,684.6 454.6,685.9 454.5,687.5 455.1,688.7 455.4,690.0 455.4,691.4 455.8,692.6 456.6,693.7 457.0,695.0 457.2,696.3 458.1,697.4 457.7,698.9 458.9,699.9 459.5,701.1 459.5,702.5 459.8,704.0 459.6,705.6 459.8,707.1 460.6,708.5 460.8,710.0 461.3,711.4 461.2,713.0 461.4,714.5 461.7,716.0 462.0,717.5 461.2,718.9 461.6,720.5 460.7,721.9 461.3,723.5 460.8,725.0 460.8,726.6 460.2,728.0 459.7,729.4 459.3,730.9 459.5,732.5 459.3,734.0 459.1,735.5 458.4,736.9 458.1,738.4 458.2,740.0 458.2,741.4 458.1,742.9 458.1,744.3 457.3,745.7 457.0,747.1 457.3,748.6 457.0,750.0"/>
<polyline fill="none" stroke="#222" stroke-width="0.9" stroke-linejoin="round" points="452.0,697.5 452.4,698.8 453.0,699.9 453.2,701.2"/>
<polyline fill="none" stroke="#222" stroke-width="0.9" stroke-linejoin="round" points="454.5,705.0 455.6,706.4 457.0,707.5 456.3,709.1 456.5,710.9 455.8,712.5"/>
<polyline fill="none" stroke="#222" stroke-width="0.9" stroke-linejoin="round" points="452.0,710.0 452.6,711.6 452.6,713.4 453.2,715.0"/>
<polyline fill="none" stroke="#222" stroke-width="0.9" stroke-linejoin="round" points="458.2,715.0 459.5,714.5 460.8,714.5 462.0,713.8"/>
<polyline fill="none" stroke="#222" stroke-width="0.9" stroke-linejoin="round" points="454.5,720.0 454.8,721.7 455.6,723.3 455.8,725.0"/>
<polyline fill="none" stroke="#222" stroke-width="0.9" stroke-linejoin="round" points="452.0,730.0 452.9,731.2 453.4,732.7 454.5,733.8"/>
<polyline fill="none" stroke="#222" stroke-width="0.9" stroke-linejoin="round" points="450.8,740.0 451.0,741.3 451.8,742.4 452.0,743.8"/>
<polyline fill="none" stroke="#222" stroke-width="0.9" stroke-linejoin="round" points="447.0,712.5 447.3,713.9 448.2,715.0"/>
<polyline fill="none" stroke="#222" stroke-width="0.9" stroke-linejoin="round" points="478.2,750.0 477.5,748.9 476.9,747.8 476.3,746.6 475.3,745.7 474.6,744.5 474.3,743.2 473.4,742.2 472.3,741.4 472.0,740.0 471.4,738.6 470.8,737.3 470.5,735.8 470.7,734.2 469.9,732.9 470.0,731.4 469.5,730.0 469.6,728.6 470.0,727.2 469.5,725.8 470.5,724.5 470.4,723.1 470.3,721.7 470.5,720.3 470.3,718.9 470.8,717.5 471.1,716.2 471.9,715.1 472.1,713.7 472.4,712.4 473.4,711.4 473.3,709.9 473.6,708.6 474.5,707.5 475.3,706.4 475.5,705.0 475.5,703.6 476.3,702.5 476.8,701.2 477.4,700.0 477.8,698.7 478.2,697.5 478.7,695.8 479.3,694.2 479.5,692.5 480.7,691.7 482.2,691.6 483.0,690.2 484.5,690.0 486.1,690.3 487.6,690.9 489.3,690.6 490.8,691.2 490.7,692.7 491.3,694.2 491.6,695.6 491.6,697.1 492.0,698.5 492.0,700.0 493.4,700.3 494.7,700.9 495.6,702.2 497.0,702.5 498.8,702.5 500.3,703.6 502.0,703.8 503.3,704.2 504.4,705.1 505.6,706.0 507.0,706.2 508.2,706.9 508.6,708.4 510.0,708.9 510.8,710.0 511.8,711.2 512.3,712.8 513.4,713.8 514.5,715.0 515.4,716.3 516.4,717.5 517.0,719.0 518.2,720.0 519.0,721.4 520.2,722.4 521.0,723.8 522.0,725.0 523.4,725.7 524.2,727.2 525.8,727.7 527.0,728.8 528.1,729.8 529.4,730.8 531.0,731.2 532.0,732.5 533.4,732.9 534.7,733.4 535.9,734.1 537.0,735.0 538.5,735.5 539.4,736.9 540.8,737.5 541.4,739.1 541.6,740.8 542.0,742.5 541.8,744.0 542.3,745.5 542.3,747.0 541.6,748.5 542.0,750.0"/>
<polyline fill="none" stroke="#222" stroke-width="0.9" stroke-linejoin="round" points="564.5,588.8 564.6,590.4 563.9,591.9 563.6,593.4 563.2,595.0 562.2,596.2 561.4,597.5 560.3,598.6 559.5,600.0 558.7,601.2 557.2,601.7 556.8,603.3 555.4,603.9 554.5,605.0 554.0,606.3 553.7,607.7 552.5,608.7 552.0,610.0 551.6,611.5 551.2,612.9 550.8,614.4 551.2,616.0 550.8,617.5 551.5,618.9 552.8,619.9 553.6,621.2 554.5,622.5 555.7,623.5 555.9,625.2 556.6,626.5 557.9,627.5 558.4,628.9 559.5,630.0 560.1,631.4 561.4,632.4 562.1,633.7 562.9,635.0 563.3,636.5 564.5,637.5 565.6,638.4 566.6,639.4 567.1,640.9 568.7,641.3 569.5,642.5 570.7,643.3 571.8,644.2 572.5,645.5 573.5,646.5 574.5,647.5 575.8,648.2 576.7,649.3 577.7,650.3 578.2,651.8 579.5,652.5 580.6,653.4 581.5,654.5 582.3,655.7 583.7,656.3 584.5,657.5 585.6,658.4 586.8,659.2 587.8,660.2 588.7,661.3 589.5,662.5 589.9,663.9 590.9,664.9 591.7,666.1 591.7,667.7 592.2,668.9 593.2,670.0 593.6,671.5 593.3,673.1 594.2,674.5 594.4,676.0 594.5,677.5 594.9,678.8 595.6,679.9 595.3,681.4 596.3,682.5 596.7,683.7 597.0,685.0 597.2,686.5 597.5,688.0 598.2,689.4 598.0,691.0 598.2,692.5 598.0,694.0 598.1,695.5 598.4,697.0 598.1,698.5 598.2,700.0 598.1,701.5 597.3,702.9 597.8,704.5 597.5,706.0 597.0,707.5 596.9,709.0 596.3,710.5 596.7,712.1 596.0,713.5 595.8,715.0 594.7,716.2 594.0,717.6 593.1,718.9 592.0,720.0 590.7,720.5 589.3,720.9 588.0,721.4 587.0,722.5 586.0,723.5 584.6,724.0 583.2,724.3 582.0,725.0 580.7,725.6 579.4,726.1 578.3,727.1 577.0,727.6 575.6,727.9 574.5,728.8 573.1,729.0 572.1,730.2 570.6,730.3 569.5,731.2 567.7,731.2 566.1,731.8 564.5,732.5 563.3,733.3 562.0,733.8 560.6,734.1 559.5,735.0 558.9,736.2 557.7,736.9 556.6,737.7 555.8,738.8 554.6,739.5 554.1,740.9 552.8,741.4 552.0,742.5 550.8,743.2 550.3,744.5 549.5,745.6 548.2,746.2 547.6,747.5 546.3,748.1 545.1,748.7 544.5,750.0"/>
<polyline fill="none" stroke="#222" stroke-width="0.9" stroke-linejoin="round" points="555.8,737.5 556.5,736.3 557.3,735.1 557.7,733.8 558.2,732.5 559.3,733.9 560.8,735.0 561.5,733.7 562.4,732.5 563.2,731.2"/>
<polyline fill="none" stroke="#222" stroke-width="0.9" stroke-linejoin="round" points="589.5,612.5 590.6,611.6 591.6,610.6 592.3,609.3 593.7,608.7 594.5,607.5 595.8,607.2 597.0,606.8 598.2,606.1 599.6,606.0 600.8,605.6 602.0,605.0 603.4,604.5 604.8,604.2 606.3,604.1 607.7,603.7 609.2,603.3 610.5,602.7 612.0,602.5 613.6,603.0 615.4,603.1 617.0,603.8 618.1,604.9 618.8,606.2 619.5,607.5 619.3,608.8 618.6,610.0 618.1,611.2 617.7,612.5 617.3,613.7 617.0,615.0 616.2,616.2 614.9,616.9 613.9,617.9 613.2,619.2 612.0,620.0 611.0,621.0 610.0,622.0 609.1,623.1 608.0,624.0 607.0,625.0 605.7,625.6 604.5,626.2 603.4,627.1 602.0,627.5 600.9,626.8 599.5,626.7 598.2,626.5 597.0,625.9 595.7,625.7 594.5,625.0 593.4,623.9 592.8,622.4 592.0,621.0 590.8,620.0 590.6,618.5 590.4,617.0 590.3,615.4 589.9,614.0 589.5,612.5"/>
<polyline fill="none" stroke="#222" stroke-width="0.9" stroke-linejoin="round" points="603.2,588.8 603.8,590.3 604.1,591.8 604.0,593.5 604.5,595.0 605.3,596.0 606.4,596.9 607.3,597.8 608.2,598.8 609.5,599.2 610.8,599.4 612.0,600.0 613.3,598.8 614.5,597.5 614.1,595.8 613.8,594.1 613.2,592.5 612.9,591.2 612.4,590.0 612.0,588.8"/>
</g>
<mask id="m_t33" maskUnits="userSpaceOnUse" x="0" y="0" width="1024" height="1024"><rect x="666.4" y="597.4" width="265.20000000000005" height="153.20000000000005" fill="#fff"/><rect x="158.6" y="501.6" width="139.79999999999998" height="140.79999999999995" fill="#000"/><rect x="669.6" y="381.6" width="62.799999999999955" height="62.799999999999955" fill="#000"/></mask>
<g mask="url(#m_t33)">
<polyline fill="none" stroke="#222" stroke-width="0.9" stroke-linejoin="round" points="703.8,751.2 704.8,750.2 705.9,749.4 706.6,748.2 707.7,747.4 708.4,746.2 709.5,745.4 710.4,744.4 711.5,743.5 712.7,743.0 713.9,742.3 714.8,741.3 716.1,740.9 717.2,740.1 718.1,739.1 719.2,738.4 720.0,737.0 721.2,735.9 722.1,734.6 723.0,733.3 724.2,732.2 724.7,730.6 725.8,729.4 726.9,728.2 728.1,727.3 729.6,726.7 730.7,725.6 730.8,724.3 731.3,723.1 731.3,721.7 732.0,720.5 730.8,719.1 729.4,717.9 728.6,719.3 727.8,720.5 726.9,721.8 726.4,723.2 725.4,724.4 724.3,725.5 724.0,727.0 723.0,728.2 722.3,729.4 721.2,730.4 720.5,731.7 719.6,732.8 718.5,733.7 717.8,734.9 716.6,735.9 715.7,737.1 714.3,737.8 713.4,739.0 712.2,740.0 711.1,741.0 710.2,742.3 709.6,743.5 708.8,744.6 707.7,745.5 707.2,746.8 706.5,748.0 705.7,749.2 704.8,750.2 703.8,751.2"/>
<polyline fill="none" stroke="#222" stroke-width="0.9" stroke-linejoin="round" points="733.3,707.7 734.6,707.1 735.8,706.4 736.4,707.7 736.7,709.0 737.1,710.3 735.9,711.4 735.0,712.8 733.9,711.7 733.3,710.3"/>
<polyline fill="none" stroke="#222" stroke-width="0.9" stroke-linejoin="round" points="757.6,592.0 758.8,593.8"/>
<polyline fill="none" stroke="#222" stroke-width="0.9" stroke-linejoin="round" points="758.1,597.7 759.6,599.2"/>
<polyline fill="none" stroke="#222" stroke-width="0.9" stroke-linejoin="round" points="752.4,613.0 754.0,614.6"/>
<polyline fill="none" stroke="#222" stroke-width="0.9" stroke-linejoin="round" points="757.6,617.6 759.1,619.4"/>
<polyline fill="none" stroke="#222" stroke-width="0.9" stroke-linejoin="round" points="744.8,721.8 746.0,723.1"/>
</g>
<mask id="m_z21s" maskUnits="userSpaceOnUse" x="0" y="0" width="1024" height="1024"><rect x="155.4" y="498.4" width="146.20000000000002" height="147.20000000000005" fill="#fff"/><rect x="669.6" y="381.6" width="62.799999999999955" height="62.799999999999955" fill="#000"/></mask>
<g mask="url(#m_z21s)">
<polyline fill="none" stroke="#222" stroke-width="0.9" stroke-linejoin="round" points="253.0,644.8 254.3,644.1 255.1,642.8 256.1,641.8 257.4,641.1 258.7,640.4 259.8,639.5 260.9,638.5 261.9,637.5 262.9,636.4 264.1,635.8 265.1,634.7 266.5,634.3 267.4,633.2 268.6,632.6 269.7,631.6 271.0,631.2 271.9,630.1 273.3,629.6 274.2,628.5 275.5,628.0 276.6,627.0 277.5,625.9 278.0,624.6 279.2,623.7 279.5,622.2 280.9,621.5 281.3,620.0 282.2,618.9 283.3,618.0 284.0,616.7 285.0,615.7 285.8,614.6 287.3,614.0 288.2,612.9 289.0,611.7 290.1,610.8 291.0,609.7 292.2,609.2 293.5,608.8 294.7,608.4 295.8,607.6 297.2,607.5 298.4,607.0 299.7,606.9 300.8,606.2"/>
</g>
<mask id="m_z23x" maskUnits="userSpaceOnUse" x="0" y="0" width="1024" height="1024"><rect x="666.4" y="378.4" width="69.20000000000005" height="69.20000000000005" fill="#fff"/></mask>
<g mask="url(#m_z23x)">
<polyline fill="none" stroke="#222" stroke-width="0.9" stroke-linejoin="round" points="672.5,379.7 669.9,382.6 668.0,385.8"/>
<polyline fill="none" stroke="#222" stroke-width="0.9" stroke-linejoin="round" points="667.7,387.1 671.9,387.7 675.1,391.0 676.4,393.5 685.4,393.5 687.3,392.9 688.0,389.7 689.9,388.4 692.5,388.1 695.1,389.7 697.0,392.2 697.6,394.2 700.9,395.5 704.1,393.5 707.3,392.2 709.9,393.5 711.2,396.1 713.1,395.5 713.7,392.9 717.0,391.0 718.9,387.7 721.5,386.4 724.1,385.8 726.0,383.9 728.6,381.3 729.2,379.7"/>
<polyline fill="none" stroke="#222" stroke-width="0.9" stroke-linejoin="round" points="685.4,393.5 685.7,396.1 688.6,398.0 689.9,399.3 690.6,403.2 688.6,405.8 685.4,406.4 683.5,405.8 682.2,403.2 680.2,401.6 678.3,401.6 677.3,403.2 677.7,405.8 677.0,409.0 675.1,409.6 674.4,411.6 674.4,414.1 673.2,416.1 670.6,416.1 668.6,415.4 667.7,416.7"/>
<polyline fill="none" stroke="#222" stroke-width="0.9" stroke-linejoin="round" points="687.3,392.9 689.3,394.2 691.8,395.5 695.1,396.8 695.7,399.3 698.3,401.3 701.5,401.9 704.1,403.2 705.4,405.8 708.6,406.4 710.5,407.1 709.2,409.6 707.9,413.5 708.6,415.4 710.5,416.7 712.5,421.2 714.4,422.5 717.0,421.2 720.2,418.7 722.8,420.6 723.4,423.8 720.8,425.1 717.0,424.5 716.3,426.4 717.0,428.3 715.0,431.5 713.1,433.5 713.7,436.1 715.7,438.0 717.0,439.3 716.3,442.5 717.0,444.4 718.9,445.1 724.7,445.1 729.9,445.7 734.4,446.0"/>
<polyline fill="none" stroke="#222" stroke-width="0.9" stroke-linejoin="round" points="667.7,416.7 669.3,418.7 671.9,419.9 672.5,422.5 674.4,425.1 677.7,426.4 681.5,424.5 681.5,435.4 679.0,436.1 677.0,437.3 675.1,438.6 674.4,440.6 675.7,442.5 677.7,443.8 679.0,446.4"/>
<polyline fill="none" stroke="#222" stroke-width="0.9" stroke-linejoin="round" points="667.7,440.6 670.6,439.9 672.5,439.3 674.4,440.6"/>
<polyline fill="none" stroke="#222" stroke-width="0.9" stroke-linejoin="round" points="723.4,386.4 724.1,389.7 726.0,391.0 727.3,392.2 729.2,393.5 731.8,395.5 734.4,395.5"/>
</g>
<mask id="m_z_ph" maskUnits="userSpaceOnUse" x="0" y="0" width="1024" height="1024"><rect x="730" y="620" width="100" height="129" fill="#fff"/></mask>
<g mask="url(#m_z_ph)">
<polyline fill="none" stroke="#222" stroke-width="0.9" stroke-linejoin="round" points="742.1,623.8 743.5,623.7 744.9,623.2 746.4,623.3 747.8,622.5 749.2,622.6 750.2,623.7 751.5,624.2 752.9,624.4 754.3,625.5 755.4,627.0 756.5,626.2 757.9,626.1 759.3,626.3 760.5,625.7 761.3,624.7 762.4,623.8 764.0,625.7 764.3,627.1 764.0,628.6 764.2,630.0 764.3,631.4 764.3,633.2 763.9,634.8 763.6,636.5 764.4,638.0 765.7,639.3 766.2,640.9 765.8,642.9 766.2,644.8 765.4,646.0 764.2,647.1 763.6,648.6 762.7,649.9 762.9,651.8 761.7,653.0 760.5,653.6 759.5,654.6 758.6,655.5 757.2,656.9 755.4,657.5 754.3,658.9 753.5,660.6 752.7,661.8 753.4,663.3 752.9,664.5 752.2,665.7 752.2,667.3 752.6,668.8 753.5,670.1 754.8,671.5 755.4,673.3 755.2,675.0 755.8,676.7 755.4,678.4 756.0,680.2 757.3,681.6 759.1,681.7 760.5,682.8 761.9,682.6 762.8,681.1 764.3,680.9 765.6,680.5 766.7,679.8 768.1,679.4 769.3,679.9 770.6,680.3 771.9,680.3 772.5,681.7 773.6,682.8 774.4,684.1 775.9,685.2 777.6,686.0 779.2,686.1 780.4,684.7 782.1,684.7 783.6,684.5 785.1,684.2 786.5,683.5 788.1,684.1 789.7,684.7 790.4,686.6 790.3,688.6 788.8,689.0 787.8,690.1 786.0,689.6 784.6,688.6 783.1,687.8 781.4,687.9 780.1,689.3 778.2,689.8 776.7,689.1 775.1,688.6 774.1,687.5 773.1,686.7 771.9,686.0 770.9,684.9 769.3,684.9 768.1,684.1 766.5,684.9 764.6,684.1 763.0,684.7 761.3,684.8 759.6,684.5 757.9,684.1 756.6,684.4 755.2,684.5 754.1,685.4 753.0,686.2 751.5,686.4 750.3,687.0 748.5,687.8 746.5,687.5 745.2,686.0 743.3,685.4 742.7,683.8 742.1,682.2 743.0,681.2 743.3,679.8 744.0,678.7 745.6,677.6 746.5,675.9 745.3,675.1 744.6,674.0 743.0,673.7 741.4,674.0 740.7,675.1 739.5,675.9 737.8,675.0 737.0,673.3 735.6,672.4 735.1,670.8 734.7,668.9 734.4,667.0 734.2,665.3 733.6,663.6 733.8,661.9 732.7,660.8 733.0,659.1 731.9,658.1 731.6,656.2 731.3,654.3 732.5,653.6 733.2,652.4 734.4,653.1 735.7,653.6 736.5,655.1 737.6,656.2 737.9,654.8 738.4,653.6 738.9,652.4 738.8,650.7 738.1,649.0 738.3,647.3 738.0,645.8 738.4,644.4 739.5,643.1 739.1,641.6 738.8,639.9 738.9,638.1 738.3,636.5 738.6,635.0 738.4,633.5 739.1,632.1 739.9,630.8 740.6,629.5 740.1,627.8 741.6,626.8 741.1,625.0 742.1,623.8"/>
<polyline fill="none" stroke="#222" stroke-width="0.9" stroke-linejoin="round" points="738.9,690.5 742.7,689.2 746.5,689.8 750.3,692.4 752.9,696.2 754.1,701.2 752.2,706.3 749.0,708.9 746.5,706.3 744.0,701.2 741.4,696.2 738.9,693.0 738.9,690.5"/>
<polyline fill="none" stroke="#222" stroke-width="0.9" stroke-linejoin="round" points="757.9,692.4 759.8,690.5 761.7,692.4 759.8,694.3 757.9,692.4"/>
<polyline fill="none" stroke="#222" stroke-width="0.9" stroke-linejoin="round" points="765.5,686.0 768.1,687.3 769.4,691.1 768.7,694.9 766.8,693.6 765.5,689.8 765.5,686.0"/>
<polyline fill="none" stroke="#222" stroke-width="0.9" stroke-linejoin="round" points="788.4,702.5 792.2,701.9 796.0,702.5 799.2,703.2 801.1,704.4 803.0,707.6 804.3,711.4 804.9,716.5 806.2,721.6 804.9,722.8 802.4,720.3 799.8,717.8 797.3,715.2 794.7,712.7 792.2,711.4 789.7,708.9 788.4,705.1 788.4,702.5"/>
<polyline fill="none" stroke="#222" stroke-width="0.9" stroke-linejoin="round" points="789.0,713.9 790.9,715.2 793.5,716.5 794.7,720.3 796.0,724.1 797.3,727.9 798.6,731.7 797.3,734.3 794.7,731.7 792.2,727.9 789.7,724.1 789.0,720.3 789.0,713.9"/>
<polyline fill="none" stroke="#222" stroke-width="0.9" stroke-linejoin="round" points="759.2,712.7 763.0,711.4 768.1,713.9 773.2,715.2 775.1,717.8 774.4,721.6 771.9,722.8 768.1,725.4 765.5,727.9 761.7,729.2 759.2,730.4 758.6,726.6 759.2,721.6 759.2,716.5 759.2,712.7"/>
<polyline fill="none" stroke="#222" stroke-width="0.9" stroke-linejoin="round" points="770.6,725.4 774.4,724.1 778.2,725.4 779.5,730.4 778.2,736.8 777.0,741.9 775.7,745.7 771.9,744.4 768.1,741.9 765.5,739.3 764.9,735.5 766.8,733.0 769.4,730.4 770.6,727.9 770.6,725.4"/>
<polyline fill="none" stroke="#222" stroke-width="0.9" stroke-linejoin="round" points="780.8,721.6 784.6,720.3 785.9,724.1 784.6,729.2 783.3,734.3 780.8,738.1 778.2,741.9 777.0,745.7 778.2,739.3 780.1,731.7 780.8,726.6 780.8,721.6"/>
<polyline fill="none" stroke="#222" stroke-width="0.9" stroke-linejoin="round" points="783.3,736.8 787.1,734.9 790.9,734.9 792.8,736.8 792.2,740.6 789.7,741.9 785.9,741.9 783.3,740.0 783.3,736.8"/>
<polyline fill="none" stroke="#222" stroke-width="0.9" stroke-linejoin="round" points="803.6,731.7 806.2,730.4 807.4,734.3 806.2,739.3 804.9,744.4 806.2,748.2"/>
<polyline fill="none" stroke="#222" stroke-width="0.9" stroke-linejoin="round" points="808.7,736.8 811.2,736.2 812.5,739.3 811.2,743.1 810.0,745.7"/>
<polyline fill="none" stroke="#222" stroke-width="0.9" stroke-linejoin="round" points="757.9,696.2 760.5,694.9 761.7,698.7 760.5,702.5 759.8,707.6 758.6,711.4"/>
<polyline fill="none" stroke="#222" stroke-width="0.9" stroke-linejoin="round" points="775.7,702.5 778.2,703.8 780.8,706.3 784.6,708.9 785.9,712.7 783.3,711.4 779.5,708.9 777.0,707.6 775.7,702.5"/>
<polyline fill="none" stroke="#222" stroke-width="0.9" stroke-linejoin="round" points="782.1,691.1 784.6,692.4 787.1,696.2 785.9,698.7 783.3,696.2 782.1,691.1"/>
<polyline fill="none" stroke="#222" stroke-width="0.9" stroke-linejoin="round" points="732.5,707.6 735.1,706.3 737.0,708.9 735.7,711.4 733.8,713.9 732.5,711.4 732.5,707.6"/>
<polyline fill="none" stroke="#222" stroke-width="0.9" stroke-linejoin="round" points="731.3,727.9 732.5,727.3 733.2,729.2 731.5,729.8 731.3,727.9"/>
<polyline fill="none" stroke="#222" stroke-width="0.9" stroke-linejoin="round" points="746.5,721.6 747.8,722.2"/>
<polyline fill="none" stroke="#222" stroke-width="0.9" stroke-linejoin="round" points="748.4,724.1 749.0,724.9"/>
<polyline fill="none" stroke="#222" stroke-width="0.9" stroke-linejoin="round" points="752.9,708.9 754.1,710.4"/>
<polyline fill="none" stroke="#222" stroke-width="0.9" stroke-linejoin="round" points="759.2,672.1 761.7,673.3 764.3,674.6"/>
<polyline fill="none" stroke="#222" stroke-width="0.9" stroke-linejoin="round" points="793.5,745.7 794.7,747.0"/>
<polyline fill="none" stroke="#222" stroke-width="0.9" stroke-linejoin="round" points="806.2,729.2 807.4,727.9"/>
<polyline fill="none" stroke="#222" stroke-width="0.9" stroke-linejoin="round" points="811.2,738.1 812.5,740.0"/>
</g>
<mask id="m_ovl" maskUnits="userSpaceOnUse" x="0" y="0" width="1024" height="1024"><rect x="157" y="88" width="772" height="661" fill="#fff"/></mask>
<g mask="url(#m_ovl)">
<polyline fill="none" stroke="#222" stroke-width="0.9" stroke-linejoin="round" points="800.5,296.0 799.4,296.9 798.4,297.8 797.0,298.3 796.1,299.4 794.9,300.2 793.8,301.1 792.7,302.1 791.8,303.2 790.5,303.9 789.3,304.8 788.8,306.2 788.6,307.7 788.3,309.2 786.9,309.1 785.5,308.9 784.1,309.5 782.8,309.5 781.4,309.5 780.0,309.2"/>
<polyline fill="none" stroke="#222" stroke-width="0.9" stroke-linejoin="round" points="788.3,309.2 789.7,309.2 790.8,310.2 792.2,310.2 793.0,311.4 794.2,312.1 795.6,312.6 797.1,312.3 798.6,312.6 800.4,313.1 802.0,314.1 803.1,313.1 804.4,312.6 803.7,313.8 803.4,315.2 803.0,316.5 803.4,318.0 802.7,319.2 802.0,320.4 801.2,321.5 801.0,323.0 800.4,324.2 799.5,325.3 800.5,326.3 801.9,326.7 803.0,327.7 804.9,328.2"/>
<polyline fill="none" stroke="#222" stroke-width="0.9" stroke-linejoin="round" points="803.0,327.7 801.5,327.9 800.3,328.8 798.9,329.4 797.5,329.8 796.1,330.2 796.6,331.4 797.1,332.6 796.7,334.3 796.6,336.0"/>
<polyline fill="none" stroke="#222" stroke-width="0.9" stroke-linejoin="round" points="802.0,319.3 800.7,320.3 800.7,321.7 800.8,323.1 800.5,324.4 800.1,325.9 799.8,327.3 798.3,328.5 797.6,330.3 796.3,331.0 795.7,332.2 795.3,333.5 794.6,334.6 794.4,336.3 794.9,337.8 796.1,339.0 797.7,339.0 799.1,339.4 800.5,340.3 802.0,340.5 803.4,340.5 804.2,341.9 805.9,341.2 806.9,342.2 807.8,343.6 809.3,343.4 810.6,344.5 812.3,343.0 813.7,344.3 815.2,344.2 816.6,345.0 818.3,345.1 819.5,346.4 820.2,348.1 821.7,349.3 820.4,350.1 818.8,350.6 818.1,352.2 817.8,353.9 816.2,354.2 815.2,355.2 816.0,356.5 816.2,358.0 815.9,359.5 816.1,361.0 818.2,361.2 818.4,362.7 818.8,363.9 819.1,365.5 819.4,367.1 819.7,368.6 821.0,369.8 821.0,371.4 819.5,372.5 819.5,374.2 818.2,375.3 818.5,377.3 817.4,378.6 815.8,379.7 815.2,381.5 815.3,383.2 814.1,384.4 813.7,385.9 813.7,387.8 812.9,389.2 811.5,390.3 811.9,391.9 810.7,393.2 810.8,394.7 811.5,396.1 811.8,397.6 812.2,399.1 813.8,398.7 815.1,400.0 816.6,399.8 817.8,398.6 819.9,399.2 821.0,397.6 822.3,396.5 823.8,395.8 825.4,395.4 827.1,395.1 828.4,394.2 829.8,393.2 831.3,393.1 832.9,393.2 834.1,391.6 835.7,391.8 836.4,390.3 838.3,391.2 838.8,389.2 839.9,388.6 841.5,388.8 843.0,388.4 844.4,387.8 845.9,387.4 847.2,386.3 848.8,386.4 850.3,385.9 850.8,384.7 851.9,383.8 853.1,383.0 853.2,381.5 854.4,380.3 854.7,378.8 854.7,377.1 854.9,375.7 855.2,374.2 855.4,372.7 855.4,371.3 854.8,369.9 855.6,368.3 854.6,366.9 854.6,365.4 854.7,363.9 854.9,362.4 854.5,360.9 853.1,359.7 854.3,357.9 853.2,356.6 853.3,355.2 852.4,354.1 851.3,353.1 852.3,351.4 852.0,350.1 851.5,348.8 850.3,347.8 850.0,346.4 850.1,344.9 848.7,344.0 847.3,343.0 847.2,341.6 846.8,340.2 846.7,338.8 845.9,337.6 844.5,336.8 844.0,335.4 844.1,333.7 843.4,332.4 842.2,331.5 841.5,330.3 840.8,329.1 839.7,328.2 839.1,326.8 837.2,326.8 836.6,325.4 835.7,324.4 834.1,323.8 833.0,322.7 831.9,321.6 830.4,320.9 829.8,319.3"/>
<polyline fill="none" stroke="#222" stroke-width="0.9" stroke-linejoin="round" points="797.6,337.6 800.5,339.8 803.4,339.0 806.4,342.0"/>
<polyline fill="none" stroke="#222" stroke-width="0.9" stroke-linejoin="round" points="809.3,342.0 812.2,343.4 815.2,342.0 818.1,344.2"/>
<polyline fill="none" stroke="#222" stroke-width="0.9" stroke-linejoin="round" points="812.2,349.3 815.2,351.5 817.4,350.0"/>
<polyline fill="none" stroke="#222" stroke-width="0.9" stroke-linejoin="round" points="810.8,353.7 813.0,355.9 815.2,355.2"/>
<polyline fill="none" stroke="#222" stroke-width="0.9" stroke-linejoin="round" points="813.7,361.0 815.9,363.9 818.1,363.2"/>
<polyline fill="none" stroke="#222" stroke-width="0.9" stroke-linejoin="round" points="816.6,366.9 818.8,369.1 821.0,367.6"/>
<polyline fill="none" stroke="#222" stroke-width="0.9" stroke-linejoin="round" points="809.3,385.9 811.5,388.1 813.7,386.6 815.9,388.8"/>
<polyline fill="none" stroke="#222" stroke-width="0.9" stroke-linejoin="round" points="808.6,390.3 810.8,392.5 813.0,391.8 815.2,394.0"/>
<polyline fill="none" stroke="#222" stroke-width="0.9" stroke-linejoin="round" points="810.0,394.7 812.2,396.9 815.2,395.4"/>
<polyline fill="none" stroke="#222" stroke-width="0.9" stroke-linejoin="round" points="818.1,396.2 821.0,394.7 823.9,396.2 826.9,394.0"/>
<polyline fill="none" stroke="#222" stroke-width="0.9" stroke-linejoin="round" points="828.3,392.5 831.3,391.0 834.2,392.5 837.1,390.3"/>
<polyline fill="none" stroke="#222" stroke-width="0.9" stroke-linejoin="round" points="838.6,388.8 841.5,387.4 844.4,388.1 847.4,386.6"/>
<polyline fill="none" stroke="#222" stroke-width="0.9" stroke-linejoin="round" points="809.3,388.8 812.2,390.3 810.8,393.2"/>
<polyline fill="none" stroke="#222" stroke-width="0.9" stroke-linejoin="round" points="811.5,385.2 814.4,384.4 813.7,388.1"/>
<polyline fill="none" stroke="#222" stroke-width="0.9" stroke-linejoin="round" points="816.6,393.2 818.4,394.7 817.4,397.6"/>
<polyline fill="none" stroke="#222" stroke-width="0.9" stroke-linejoin="round" points="819.5,393.2 821.7,392.5 822.5,394.7"/>
<polyline fill="none" stroke="#222" stroke-width="0.9" stroke-linejoin="round" points="802.0,391.8 803.4,392.5"/>
<polyline fill="none" stroke="#222" stroke-width="0.9" stroke-linejoin="round" points="799.0,400.6 800.5,401.3"/>
<polyline fill="none" stroke="#222" stroke-width="0.9" stroke-linejoin="round" points="803.4,396.2 804.9,396.9"/>
<polyline fill="none" stroke="#222" stroke-width="0.9" stroke-linejoin="round" points="793.9,339.0 795.4,340.5"/>
<polyline fill="none" stroke="#222" stroke-width="0.9" stroke-linejoin="round" points="793.2,342.0 794.6,343.4"/>
<polyline fill="none" stroke="#222" stroke-width="0.9" stroke-linejoin="round" points="819.5,356.6 821.0,358.4"/>
<polyline fill="none" stroke="#222" stroke-width="0.9" stroke-linejoin="round" points="813.0,412.3 816.6,410.1 821.7,410.1 822.5,412.3 819.5,414.5 815.2,414.9 813.0,412.3"/>
<polyline fill="none" stroke="#222" stroke-width="0.9" stroke-linejoin="round" points="867.9,405.0 869.4,405.3 870.7,406.0 872.2,406.5 873.7,406.4 875.2,406.7 876.7,407.0 878.2,407.0 879.7,407.1 881.0,408.0 882.5,407.9 882.8,409.2 884.2,410.0 884.3,411.4 884.5,412.8 885.5,413.7 885.4,415.2 886.8,416.1 886.4,417.6 886.6,418.9 887.7,420.0 888.3,421.2 888.4,422.5 887.8,423.7 887.7,425.1 886.6,426.0 886.1,427.2 885.5,428.4 885.3,429.8 884.1,430.6 883.5,431.8 883.4,433.2 882.5,434.3 881.4,435.2 881.6,436.7 880.6,437.7 880.0,438.9 879.6,440.1 878.7,441.4 877.6,442.5 876.6,443.7 875.2,444.5 873.9,445.4 872.3,445.6 870.8,446.0 870.0,444.9 869.2,443.7 867.9,443.0 867.0,442.0 865.5,441.5 865.0,440.1 865.1,438.6 864.1,437.2 864.0,435.8 864.2,434.3 863.5,432.9 863.5,431.4 863.8,429.8 863.5,428.4 862.6,427.1 862.1,425.6 861.7,424.0 861.3,422.5 861.7,421.1 862.2,419.7 862.3,418.2 862.0,416.7 862.8,415.5 864.0,414.7 865.0,413.7 864.3,412.3 863.5,410.8 864.1,409.4 864.9,408.2 865.8,407.1 866.7,405.9 867.9,405.0"/>
<polyline fill="none" stroke="#222" stroke-width="0.9" stroke-linejoin="round" points="873.7,396.2 874.8,395.1 876.2,394.8 877.7,394.6 878.8,393.6 880.1,393.1 881.3,392.5 882.5,391.8 883.5,390.7 884.9,390.1 885.7,388.9 886.8,387.9 888.3,387.5 889.3,386.4 890.0,385.1 891.3,384.4 892.4,383.6 893.8,383.4 894.9,382.7 895.6,381.3 896.5,380.4 897.7,379.8 899.2,379.6 900.1,378.6 901.5,379.1 903.0,379.0 904.5,379.4 906.0,379.0 907.4,379.3 908.9,378.9 910.4,378.9 911.9,379.1 913.3,378.6 914.7,377.9 916.2,377.9 917.6,378.1 918.8,377.3 920.2,377.4 921.3,376.4 922.6,376.2 923.9,376.3 925.3,376.4 926.5,375.7 927.9,375.8 929.4,375.8 930.9,375.7"/>
<polyline fill="none" stroke="#222" stroke-width="0.9" stroke-linejoin="round" points="867.9,405.0 869.1,404.5 870.5,404.3 871.7,403.9 872.8,403.1 874.0,402.6 875.2,402.0 876.7,402.2 878.2,402.3 879.5,403.3 881.0,403.5 882.5,403.5 883.6,402.5 885.0,402.5 886.3,402.4 887.6,402.0 888.4,400.6 889.9,400.6 891.4,400.4 893.0,400.1 894.3,399.1 895.7,398.6 897.1,398.0 898.6,398.0 900.1,397.6 901.5,396.9 903.0,397.0 904.5,396.7 905.9,396.0 907.4,396.2 908.7,395.9 909.9,395.4 911.0,394.4 912.5,394.7 913.4,393.5 914.8,393.2 916.3,393.0 917.7,392.7 919.1,391.9 920.6,391.8 921.8,392.3 923.1,392.8 924.1,393.6 925.0,394.7 924.4,395.9 923.4,396.8 922.4,397.7 922.1,399.1 922.3,400.6 923.3,401.9 922.8,403.6 923.5,405.0"/>
<polyline fill="none" stroke="#222" stroke-width="0.9" stroke-linejoin="round" points="873.7,396.2 870.8,399.1 867.9,405.0"/>
<polyline fill="none" stroke="#222" stroke-width="0.9" stroke-linejoin="round" points="889.9,403.5 890.2,404.9 890.4,406.4 891.2,407.8 891.4,409.3 891.3,410.8 891.7,412.1 892.7,413.1 893.3,414.3 893.6,415.6 894.2,416.7 894.3,418.1 895.5,418.9 896.2,420.1 897.2,421.1 898.1,419.8 899.4,418.9 900.1,417.4 901.6,416.7 902.5,415.6 904.0,415.6 905.0,414.7 906.0,413.7 907.0,412.9 908.3,412.6 909.4,411.8 910.5,411.1 911.8,410.8 913.0,410.1 914.2,409.7 915.2,408.7 916.6,408.7 917.7,407.9 918.4,406.5 918.3,404.8 919.2,403.5 917.7,402.6 916.2,402.0 914.8,401.7 913.3,402.1 911.8,402.2 910.4,402.3 908.9,402.0 907.5,402.5 906.0,402.4 904.4,402.4 903.1,403.2 901.5,402.7 900.1,403.5 898.7,403.9 897.2,403.9 895.7,403.6 894.3,404.2 892.7,404.3 891.3,403.7 889.9,403.5"/>
<polyline fill="none" stroke="#222" stroke-width="0.9" stroke-linejoin="round" points="852.5,392.5 854.7,391.8 855.4,396.2 854.0,400.6 851.8,401.3 851.5,396.9 852.5,392.5"/>
<polyline fill="none" stroke="#222" stroke-width="0.9" stroke-linejoin="round" points="844.4,422.5 847.4,419.6 850.3,416.7 851.8,413.7 849.6,418.1 846.6,422.5 844.4,424.0 844.4,422.5"/>
<polyline fill="none" stroke="#222" stroke-width="0.9" stroke-linejoin="round" points="857.6,405.0 859.1,406.4"/>
<polyline fill="none" stroke="#222" stroke-width="0.9" stroke-linejoin="round" points="856.2,410.8 859.1,413.7 862.0,416.7"/>
<polyline fill="none" stroke="#222" stroke-width="0.9" stroke-linejoin="round" points="859.1,419.6 860.6,422.5"/>
<polyline fill="none" stroke="#222" stroke-width="0.9" stroke-linejoin="round" points="867.9,422.5 866.4,428.4 867.9,431.3"/>
<polyline fill="none" stroke="#222" stroke-width="0.9" stroke-linejoin="round" points="869.4,437.2 871.5,438.6 870.8,441.6"/>
<polyline fill="none" stroke="#222" stroke-width="0.9" stroke-linejoin="round" points="867.9,456.2 870.1,455.5 870.8,457.7 868.6,458.4 867.9,456.2"/>
<polyline fill="none" stroke="#222" stroke-width="0.9" stroke-linejoin="round" points="865.0,451.8 866.4,453.3"/>
<polyline fill="none" stroke="#222" stroke-width="0.9" stroke-linejoin="round" points="873.7,451.8 875.2,454.8 873.7,457.7"/>
<polyline fill="none" stroke="#222" stroke-width="0.9" stroke-linejoin="round" points="859.1,437.2 859.8,438.6"/>
<polyline fill="none" stroke="#222" stroke-width="0.9" stroke-linejoin="round" points="854.7,446.0 855.4,447.4"/>
<polyline fill="none" stroke="#222" stroke-width="0.9" stroke-linejoin="round" points="900.1,367.6 902.3,366.6 904.2,367.6 902.3,369.1 900.1,367.6"/>
<polyline fill="none" stroke="#222" stroke-width="0.9" stroke-linejoin="round" points="891.3,397.6 895.7,396.2 898.6,399.1"/>
<polyline fill="none" stroke="#222" stroke-width="0.9" stroke-linejoin="round" points="903.0,396.9 907.4,399.1 910.4,396.2"/>
<polyline fill="none" stroke="#222" stroke-width="0.9" stroke-linejoin="round" points="914.8,394.7 917.7,396.2 920.6,394.0"/>
<polyline fill="none" stroke="#222" stroke-width="0.9" stroke-linejoin="round" points="156.8,186.9 158.3,186.9 159.6,186.2 161.1,186.6 162.6,186.6 163.6,187.8 164.8,188.4 166.2,188.6 167.5,188.2 168.8,187.7 169.9,186.8 171.3,186.6 172.5,187.4 174.1,187.0 175.3,187.7 176.8,187.4 178.1,188.3 179.3,188.9 180.6,189.1 182.0,189.2 183.2,190.0 184.6,190.0 185.9,190.0 187.3,189.8 188.6,189.7 190.0,189.6 191.3,190.2 192.7,190.0 194.0,190.8 195.5,190.4 196.8,191.0 198.5,190.9 200.1,189.8 201.9,190.0 203.1,189.3 204.1,188.2 205.3,187.6 206.7,187.7 208.0,187.1 209.3,186.6 210.7,186.5 212.1,186.2 213.4,187.5 214.1,189.1 213.0,190.2 211.6,191.2 210.7,192.5 209.7,193.7 208.4,194.5 207.0,195.1 205.6,195.4 204.3,195.8 202.9,195.6 201.5,195.6 200.2,196.1 198.3,195.5 196.8,194.2 195.4,194.5 194.0,194.2 192.8,193.3 191.4,193.2 190.0,193.4 188.2,193.4 186.7,192.4 184.9,192.5 183.5,192.4 182.1,192.4 180.8,191.8 179.5,191.6 178.1,191.7 176.4,191.4 174.7,191.7 173.0,192.0 171.7,192.5 170.3,192.1 168.9,192.7 167.5,192.0 166.2,192.7 164.5,193.1 162.8,193.5 161.1,193.7 160.1,194.7 158.9,195.5 158.0,196.8 157.3,197.9 156.8,199.3"/>
<polyline fill="none" stroke="#222" stroke-width="0.9" stroke-linejoin="round" points="325.8,575.2 326.1,577.0 326.1,578.8 328.0,579.8 329.3,580.7 330.7,581.1 332.5,579.3 333.6,581.8 335.2,581.0 336.4,579.7 338.0,579.7 339.8,581.1 341.0,579.8 342.4,579.0 343.8,578.6 345.3,578.2 346.9,578.7 348.0,577.5 350.1,577.2 350.4,575.2 352.1,575.6 353.5,574.6 355.0,574.0 355.8,572.6 358.1,573.5 358.6,571.6 360.4,571.1 361.4,569.7 362.1,568.1 363.6,566.7 365.6,566.4 367.0,567.8 368.7,567.4 370.3,567.0 370.4,568.7 372.0,569.3"/>
<polyline fill="none" stroke="#222" stroke-width="0.9" stroke-linejoin="round" points="326.3,575.6 327.5,577.0 327.7,578.7 328.4,580.3 329.7,581.5 331.3,580.8 332.7,581.0 334.3,580.5 335.6,581.5 337.2,582.0 338.6,581.6 340.1,581.1 341.4,580.3 343.1,581.0 344.4,580.0 345.8,579.2 347.3,579.1 347.8,577.2 350.0,577.1 350.8,575.6 352.5,575.9 353.8,574.6 355.4,574.4 356.9,574.0 357.6,572.5 359.0,572.0 359.9,570.6 361.0,569.3 362.5,568.5 364.4,568.0 366.0,566.8 367.5,567.2 369.3,566.2 370.7,567.4"/>
<polyline fill="none" stroke="#222" stroke-width="0.9" stroke-linejoin="round" points="372.0,569.3 372.6,570.7 373.8,571.9 373.1,573.7 374.0,575.0 375.2,576.2 375.1,577.7 375.0,579.2 375.1,580.7 376.0,582.0 377.3,583.2 376.8,585.1 377.8,586.4 378.0,588.0 379.5,588.8 379.0,590.8 379.7,592.1 381.0,593.0 381.6,594.3 382.9,595.3 383.0,596.9 384.0,598.0"/>
<ellipse cx="814.5" cy="394.1" rx="1.4" ry="0.7" fill="none" stroke="#222" stroke-width="0.8"/>
<ellipse cx="808.4" cy="389.0" rx="0.8" ry="1.1" fill="none" stroke="#222" stroke-width="0.8"/>
<ellipse cx="814.0" cy="394.4" rx="1.3" ry="0.8" fill="none" stroke="#222" stroke-width="0.8"/>
<ellipse cx="808.5" cy="392.0" rx="1.1" ry="1.0" fill="none" stroke="#222" stroke-width="0.8"/>
<ellipse cx="810.5" cy="384.7" rx="1.5" ry="1.0" fill="none" stroke="#222" stroke-width="0.8"/>
<ellipse cx="808.2" cy="394.7" rx="0.8" ry="0.6" fill="none" stroke="#222" stroke-width="0.8"/>
<polyline fill="none" stroke="#222" stroke-width="0.9" stroke-linejoin="round" points="812.4,397.0 811.0,396.5 811.0,396.1 811.7,395.3"/>
<polyline fill="none" stroke="#222" stroke-width="0.9" stroke-linejoin="round" points="810.7,394.3 811.7,395.6 812.0,394.9 813.3,395.9 812.2,394.6"/>
<polyline fill="none" stroke="#222" stroke-width="0.9" stroke-linejoin="round" points="813.9,385.3 813.0,384.7 813.8,384.6"/>
<polyline fill="none" stroke="#222" stroke-width="0.9" stroke-linejoin="round" points="813.2,395.7 813.8,396.0 813.4,396.4 812.4,395.5 813.1,396.4"/>
<ellipse cx="809.1" cy="399.1" rx="1.3" ry="1.1" fill="none" stroke="#222" stroke-width="0.8"/>
<ellipse cx="816.3" cy="394.9" rx="0.8" ry="0.6" fill="none" stroke="#222" stroke-width="0.8"/>
<polyline fill="none" stroke="#222" stroke-width="0.9" stroke-linejoin="round" points="816.4,392.8 817.4,392.7 816.2,392.0"/>
<polyline fill="none" stroke="#222" stroke-width="0.9" stroke-linejoin="round" points="817.8,396.4 818.1,396.9 817.6,397.1"/>
<polyline fill="none" stroke="#222" stroke-width="0.9" stroke-linejoin="round" points="801.1,347.3 800.8,348.7 799.5,347.7 798.6,347.5"/>
<polyline fill="none" stroke="#222" stroke-width="0.9" stroke-linejoin="round" points="808.3,368.9 808.8,370.0 808.8,369.3 808.6,369.1"/>
<polyline fill="none" stroke="#222" stroke-width="0.9" stroke-linejoin="round" points="804.6,376.2 803.2,376.9 803.6,375.5 804.8,376.0 805.2,375.4"/>
<ellipse cx="802.2" cy="375.5" rx="0.9" ry="1.1" fill="none" stroke="#222" stroke-width="0.8"/>
<polyline fill="none" stroke="#222" stroke-width="0.9" stroke-linejoin="round" points="802.7,360.6 804.0,360.7 805.2,361.7 804.2,361.9 803.1,361.9"/>
<ellipse cx="801.0" cy="346.6" rx="0.7" ry="0.8" fill="none" stroke="#222" stroke-width="0.8"/>
<ellipse cx="803.0" cy="377.3" rx="1.1" ry="1.2" fill="none" stroke="#222" stroke-width="0.8"/>
<polyline fill="none" stroke="#222" stroke-width="0.9" stroke-linejoin="round" points="798.9,345.0 798.9,344.1 797.6,342.9 798.3,341.9"/>
<polyline fill="none" stroke="#222" stroke-width="0.9" stroke-linejoin="round" points="804.5,354.7 803.9,354.5 805.1,353.9 806.5,354.8 806.6,354.4"/>
<ellipse cx="797.5" cy="368.8" rx="1.0" ry="0.8" fill="none" stroke="#222" stroke-width="0.8"/>
<ellipse cx="809.9" cy="361.8" rx="1.4" ry="1.1" fill="none" stroke="#222" stroke-width="0.8"/>
<ellipse cx="808.9" cy="372.3" rx="0.8" ry="0.7" fill="none" stroke="#222" stroke-width="0.8"/>
<ellipse cx="806.2" cy="359.2" rx="1.3" ry="1.1" fill="none" stroke="#222" stroke-width="0.8"/>
<ellipse cx="801.8" cy="364.6" rx="0.6" ry="1.1" fill="none" stroke="#222" stroke-width="0.8"/>
<ellipse cx="833.3" cy="391.3" rx="1.3" ry="0.8" fill="none" stroke="#222" stroke-width="0.8"/>
<ellipse cx="832.9" cy="386.5" rx="1.5" ry="0.8" fill="none" stroke="#222" stroke-width="0.8"/>
<ellipse cx="815.6" cy="396.0" rx="1.4" ry="1.0" fill="none" stroke="#222" stroke-width="0.8"/>
<polyline fill="none" stroke="#222" stroke-width="0.9" stroke-linejoin="round" points="833.8,388.2 835.1,388.7 834.8,390.0 833.7,390.2"/>
<ellipse cx="840.1" cy="393.2" rx="1.1" ry="0.7" fill="none" stroke="#222" stroke-width="0.8"/>
<ellipse cx="837.7" cy="391.0" rx="1.2" ry="1.1" fill="none" stroke="#222" stroke-width="0.8"/>
<ellipse cx="827.7" cy="392.9" rx="1.2" ry="0.8" fill="none" stroke="#222" stroke-width="0.8"/>
<polyline fill="none" stroke="#222" stroke-width="0.9" stroke-linejoin="round" points="844.1,388.4 842.9,389.2 842.8,388.0 843.6,388.9 844.3,388.5"/>
<polyline fill="none" stroke="#222" stroke-width="0.9" stroke-linejoin="round" points="826.7,388.2 825.9,387.4 826.0,386.9"/>
<polyline fill="none" stroke="#222" stroke-width="0.9" stroke-linejoin="round" points="819.5,395.4 819.8,396.6 818.7,395.4 820.1,395.5 821.0,395.3"/>
<ellipse cx="824.4" cy="394.8" rx="0.7" ry="1.1" fill="none" stroke="#222" stroke-width="0.8"/>
<polyline fill="none" stroke="#222" stroke-width="0.9" stroke-linejoin="round" points="819.6,388.0 818.6,386.9 818.3,387.0 819.0,385.8 820.1,386.8"/>
<polyline fill="none" stroke="#222" stroke-width="0.9" stroke-linejoin="round" points="755.6,466.2 756.6,467.3 756.7,466.3 756.6,467.7"/>
<ellipse cx="768.6" cy="463.8" rx="0.8" ry="0.6" fill="none" stroke="#222" stroke-width="0.8"/>
<polyline fill="none" stroke="#222" stroke-width="0.9" stroke-linejoin="round" points="769.7,467.3 769.0,466.2 767.6,467.4 768.1,466.7"/>
<polyline fill="none" stroke="#222" stroke-width="0.9" stroke-linejoin="round" points="764.8,459.0 763.7,458.5 764.0,458.5 763.4,459.8"/>
<polyline fill="none" stroke="#222" stroke-width="0.9" stroke-linejoin="round" points="768.3,462.0 766.9,461.9 767.2,462.6 768.6,462.8 769.0,463.0"/>
<ellipse cx="769.0" cy="461.9" rx="1.5" ry="0.7" fill="none" stroke="#222" stroke-width="0.8"/>
<ellipse cx="756.9" cy="463.9" rx="0.9" ry="1.0" fill="none" stroke="#222" stroke-width="0.8"/>
<ellipse cx="746.1" cy="470.9" rx="1.0" ry="0.8" fill="none" stroke="#222" stroke-width="0.8"/>
<ellipse cx="755.6" cy="481.0" rx="1.2" ry="0.6" fill="none" stroke="#222" stroke-width="0.8"/>
<ellipse cx="746.8" cy="472.0" rx="0.6" ry="0.7" fill="none" stroke="#222" stroke-width="0.8"/>
<ellipse cx="745.7" cy="470.8" rx="0.8" ry="1.1" fill="none" stroke="#222" stroke-width="0.8"/>
<polyline fill="none" stroke="#222" stroke-width="0.9" stroke-linejoin="round" points="748.1,480.3 747.1,479.9 747.1,479.4"/>
<ellipse cx="751.9" cy="480.3" rx="1.6" ry="0.8" fill="none" stroke="#222" stroke-width="0.8"/>
<polyline fill="none" stroke="#222" stroke-width="0.9" stroke-linejoin="round" points="746.6,492.8 748.1,492.7 748.5,493.4 747.0,492.7 747.9,492.4"/>
<polyline fill="none" stroke="#222" stroke-width="0.9" stroke-linejoin="round" points="743.9,486.0 743.0,485.5 743.4,486.5 742.0,485.6 743.5,486.3"/>
<polyline fill="none" stroke="#222" stroke-width="0.9" stroke-linejoin="round" points="747.8,491.6 746.7,491.2 746.8,491.5"/>
<polyline fill="none" stroke="#222" stroke-width="0.9" stroke-linejoin="round" points="749.8,486.5 748.3,487.5 746.9,488.8 746.1,488.2"/>
<ellipse cx="741.9" cy="489.9" rx="1.2" ry="1.1" fill="none" stroke="#222" stroke-width="0.8"/>
<ellipse cx="739.6" cy="501.8" rx="1.0" ry="1.1" fill="none" stroke="#222" stroke-width="0.8"/>
<polyline fill="none" stroke="#222" stroke-width="0.9" stroke-linejoin="round" points="743.2,504.4 741.9,505.2 741.1,504.0 740.2,503.4 740.0,504.1"/>
<ellipse cx="731.1" cy="499.8" rx="1.4" ry="0.6" fill="none" stroke="#222" stroke-width="0.8"/>
<ellipse cx="742.1" cy="504.4" rx="1.0" ry="0.6" fill="none" stroke="#222" stroke-width="0.8"/>
<ellipse cx="742.4" cy="503.7" rx="1.3" ry="0.7" fill="none" stroke="#222" stroke-width="0.8"/>
<ellipse cx="728.9" cy="515.4" rx="1.0" ry="1.0" fill="none" stroke="#222" stroke-width="0.8"/>
<polyline fill="none" stroke="#222" stroke-width="0.9" stroke-linejoin="round" points="734.3,517.9 734.4,517.0 732.9,517.0 732.7,517.3 732.0,517.2"/>
<ellipse cx="731.8" cy="515.8" rx="1.1" ry="0.6" fill="none" stroke="#222" stroke-width="0.8"/>
<ellipse cx="733.0" cy="514.3" rx="1.3" ry="1.1" fill="none" stroke="#222" stroke-width="0.8"/>
<ellipse cx="731.0" cy="518.5" rx="1.2" ry="0.8" fill="none" stroke="#222" stroke-width="0.8"/>
<polyline fill="none" stroke="#222" stroke-width="0.9" stroke-linejoin="round" points="724.0,528.9 723.5,530.4 722.4,530.7 722.5,529.3"/>
<ellipse cx="727.7" cy="539.4" rx="1.1" ry="0.9" fill="none" stroke="#222" stroke-width="0.8"/>
<ellipse cx="724.3" cy="536.3" rx="0.7" ry="1.1" fill="none" stroke="#222" stroke-width="0.8"/>
<ellipse cx="717.8" cy="534.1" rx="0.9" ry="1.1" fill="none" stroke="#222" stroke-width="0.8"/>
<polyline fill="none" stroke="#222" stroke-width="0.9" stroke-linejoin="round" points="715.3,530.1 715.7,530.6 715.2,530.8 715.5,531.0"/>
<ellipse cx="726.2" cy="544.0" rx="1.1" ry="0.6" fill="none" stroke="#222" stroke-width="0.8"/>
<ellipse cx="763.1" cy="450.7" rx="0.8" ry="0.8" fill="none" stroke="#222" stroke-width="0.8"/>
<ellipse cx="773.1" cy="455.2" rx="1.2" ry="0.9" fill="none" stroke="#222" stroke-width="0.8"/>
<polyline fill="none" stroke="#222" stroke-width="0.9" stroke-linejoin="round" points="773.1,449.7 773.8,450.8 775.1,452.1"/>
<polyline fill="none" stroke="#222" stroke-width="0.9" stroke-linejoin="round" points="763.1,458.7 763.6,459.3 763.2,459.8 762.8,460.5"/>
<polyline fill="none" stroke="#222" stroke-width="0.9" stroke-linejoin="round" points="766.3,459.2 766.4,460.1 767.3,461.2"/>
<polyline fill="none" stroke="#222" stroke-width="0.9" stroke-linejoin="round" points="656.7,576.7 656.0,577.9 656.1,576.6"/>
<ellipse cx="657.1" cy="572.2" rx="1.5" ry="1.2" fill="none" stroke="#222" stroke-width="0.8"/>
<polyline fill="none" stroke="#222" stroke-width="0.9" stroke-linejoin="round" points="652.0,568.2 651.9,569.1 653.2,567.7 654.7,567.3"/>
<polyline fill="none" stroke="#222" stroke-width="0.9" stroke-linejoin="round" points="663.1,575.6 662.3,576.5 661.2,577.1"/>
<polyline fill="none" stroke="#222" stroke-width="0.9" stroke-linejoin="round" points="652.5,569.0 652.2,569.3 652.4,568.2 652.8,568.3 651.7,568.3"/>
<polyline fill="none" stroke="#222" stroke-width="0.9" stroke-linejoin="round" points="659.4,579.7 660.1,578.5 661.0,577.5"/>
<polyline fill="none" stroke="#222" stroke-width="0.9" stroke-linejoin="round" points="652.7,572.4 651.3,573.2 650.7,572.5 651.3,572.3 651.4,573.1"/>
<ellipse cx="656.2" cy="574.0" rx="1.3" ry="0.8" fill="none" stroke="#222" stroke-width="0.8"/>
<ellipse cx="567.1" cy="585.1" rx="1.4" ry="0.8" fill="none" stroke="#222" stroke-width="0.8"/>
<polyline fill="none" stroke="#222" stroke-width="0.9" stroke-linejoin="round" points="568.8,591.3 570.2,591.3 569.2,592.5"/>
<ellipse cx="567.3" cy="588.6" rx="0.8" ry="0.7" fill="none" stroke="#222" stroke-width="0.8"/>
<ellipse cx="576.2" cy="587.3" rx="1.3" ry="0.5" fill="none" stroke="#222" stroke-width="0.8"/>
<ellipse cx="567.0" cy="589.9" rx="0.9" ry="1.2" fill="none" stroke="#222" stroke-width="0.8"/>
<ellipse cx="571.6" cy="588.3" rx="1.5" ry="1.2" fill="none" stroke="#222" stroke-width="0.8"/>
<polyline fill="none" stroke="#222" stroke-width="0.9" stroke-linejoin="round" points="576.2,588.4 577.6,587.5 577.3,586.6 578.6,585.9"/>
<polyline fill="none" stroke="#222" stroke-width="0.9" stroke-linejoin="round" points="572.1,591.5 570.9,591.7 570.1,591.7 570.2,590.4"/>
<ellipse cx="568.8" cy="590.2" rx="1.5" ry="0.8" fill="none" stroke="#222" stroke-width="0.8"/>
<ellipse cx="576.4" cy="593.0" rx="1.4" ry="1.1" fill="none" stroke="#222" stroke-width="0.8"/>
<polyline fill="none" stroke="#222" stroke-width="0.9" stroke-linejoin="round" points="578.8,592.3 580.0,590.8 579.9,589.7 580.2,589.1 581.6,589.9"/>
<polyline fill="none" stroke="#222" stroke-width="0.9" stroke-linejoin="round" points="572.6,589.9 573.4,588.6 573.9,587.6 574.8,586.2"/>
<ellipse cx="614.3" cy="590.9" rx="1.0" ry="1.2" fill="none" stroke="#222" stroke-width="0.8"/>
<polyline fill="none" stroke="#222" stroke-width="0.9" stroke-linejoin="round" points="613.4,592.3 612.0,591.5 611.7,590.5 611.3,590.6"/>
<polyline fill="none" stroke="#222" stroke-width="0.9" stroke-linejoin="round" points="613.2,595.4 612.9,594.7 612.9,594.6 614.3,595.6"/>
<ellipse cx="613.8" cy="594.3" rx="0.8" ry="0.9" fill="none" stroke="#222" stroke-width="0.8"/>
<ellipse cx="610.0" cy="587.0" rx="1.2" ry="1.1" fill="none" stroke="#222" stroke-width="0.8"/>
<polyline fill="none" stroke="#222" stroke-width="0.9" stroke-linejoin="round" points="633.9,582.0 632.6,581.2 632.5,579.7 632.0,579.6"/>
<polyline fill="none" stroke="#222" stroke-width="0.9" stroke-linejoin="round" points="629.7,579.4 629.2,579.2 628.7,579.4 629.8,579.4 628.6,580.4"/>
<polyline fill="none" stroke="#222" stroke-width="0.9" stroke-linejoin="round" points="630.5,579.4 631.8,580.7 630.6,580.3 631.7,581.7 631.4,582.0"/>
<ellipse cx="628.1" cy="578.6" rx="0.8" ry="0.5" fill="none" stroke="#222" stroke-width="0.8"/>
<polyline fill="none" stroke="#222" stroke-width="0.9" stroke-linejoin="round" points="637.7,585.9 639.2,585.1 639.4,584.9 640.3,585.6"/>
<polyline fill="none" stroke="#222" stroke-width="0.9" stroke-linejoin="round" points="628.1,578.0 626.8,578.5 625.7,579.5 625.5,579.4 624.2,579.3"/>
<ellipse cx="623.5" cy="584.2" rx="1.5" ry="0.6" fill="none" stroke="#222" stroke-width="0.8"/>
<polyline fill="none" stroke="#222" stroke-width="0.9" stroke-linejoin="round" points="624.1,578.4 624.0,577.1 624.3,576.3 623.6,574.9"/>
<ellipse cx="626.3" cy="580.0" rx="0.8" ry="0.5" fill="none" stroke="#222" stroke-width="0.8"/>
<polyline fill="none" stroke="#222" stroke-width="0.9" stroke-linejoin="round" points="699.2,567.9 699.9,567.2 699.0,566.3 699.9,565.2"/>
<ellipse cx="680.3" cy="572.9" rx="0.7" ry="1.2" fill="none" stroke="#222" stroke-width="0.8"/>
<ellipse cx="672.1" cy="573.1" rx="0.8" ry="1.1" fill="none" stroke="#222" stroke-width="0.8"/>
<ellipse cx="668.3" cy="567.1" rx="0.7" ry="1.2" fill="none" stroke="#222" stroke-width="0.8"/>
<polyline fill="none" stroke="#222" stroke-width="0.9" stroke-linejoin="round" points="693.3,570.9 693.4,570.0 694.8,570.4 695.0,570.2"/>
<polyline fill="none" stroke="#222" stroke-width="0.9" stroke-linejoin="round" points="674.1,567.1 673.7,567.7 673.9,566.7 673.6,567.7 674.3,567.0"/>
<ellipse cx="358.1" cy="575.5" rx="0.6" ry="1.0" fill="none" stroke="#222" stroke-width="0.8"/>
<polyline fill="none" stroke="#222" stroke-width="0.9" stroke-linejoin="round" points="372.0,572.2 370.5,571.3 371.0,570.9 371.3,570.1 372.8,568.9"/>
<polyline fill="none" stroke="#222" stroke-width="0.9" stroke-linejoin="round" points="346.7,572.6 346.1,572.8 346.6,571.5 347.2,571.8"/>
<ellipse cx="358.5" cy="572.4" rx="1.3" ry="0.8" fill="none" stroke="#222" stroke-width="0.8"/>
<polyline fill="none" stroke="#222" stroke-width="0.9" stroke-linejoin="round" points="345.7,574.0 344.5,573.1 344.7,573.7 345.7,574.2"/>
<ellipse cx="367.8" cy="576.9" rx="1.5" ry="0.6" fill="none" stroke="#222" stroke-width="0.8"/>
<ellipse cx="371.1" cy="571.2" rx="1.0" ry="0.6" fill="none" stroke="#222" stroke-width="0.8"/>
<polyline fill="none" stroke="#222" stroke-width="0.9" stroke-linejoin="round" points="376.7,572.6 378.2,572.8 379.5,574.0 380.7,574.1"/>
<ellipse cx="355.4" cy="571.1" rx="0.8" ry="1.1" fill="none" stroke="#222" stroke-width="0.8"/>
<ellipse cx="354.2" cy="577.6" rx="0.8" ry="0.7" fill="none" stroke="#222" stroke-width="0.8"/>
<polyline fill="none" stroke="#222" stroke-width="0.9" stroke-linejoin="round" points="357.7,576.2 358.0,577.2 359.4,578.7"/>
<ellipse cx="352.4" cy="578.1" rx="1.4" ry="0.8" fill="none" stroke="#222" stroke-width="0.8"/>
<polyline fill="none" stroke="#222" stroke-width="0.9" stroke-linejoin="round" points="359.7,570.1 361.1,570.2 362.3,569.7 362.2,569.8 360.9,568.3"/>
<ellipse cx="369.3" cy="570.6" rx="0.8" ry="0.7" fill="none" stroke="#222" stroke-width="0.8"/>
<polyline fill="none" stroke="#222" stroke-width="0.9" stroke-linejoin="round" points="367.6,571.4 366.7,570.4 366.0,571.8"/>
<ellipse cx="371.2" cy="570.3" rx="1.3" ry="0.6" fill="none" stroke="#222" stroke-width="0.8"/>
<polyline fill="none" stroke="#222" stroke-width="0.9" stroke-linejoin="round" points="355.3,567.8 354.3,567.8 355.7,566.7"/>
<ellipse cx="367.8" cy="573.2" rx="1.0" ry="1.1" fill="none" stroke="#222" stroke-width="0.8"/>
<ellipse cx="458.6" cy="706.1" rx="1.4" ry="0.5" fill="none" stroke="#222" stroke-width="0.8"/>
<ellipse cx="461.5" cy="705.3" rx="1.6" ry="0.6" fill="none" stroke="#222" stroke-width="0.8"/>
<ellipse cx="458.7" cy="741.1" rx="1.4" ry="0.7" fill="none" stroke="#222" stroke-width="0.8"/>
<ellipse cx="453.3" cy="706.9" rx="0.9" ry="1.1" fill="none" stroke="#222" stroke-width="0.8"/>
<polyline fill="none" stroke="#222" stroke-width="0.9" stroke-linejoin="round" points="462.0,716.6 461.2,717.4 462.5,718.7"/>
<ellipse cx="461.7" cy="703.5" rx="0.6" ry="0.6" fill="none" stroke="#222" stroke-width="0.8"/>
<polyline fill="none" stroke="#222" stroke-width="0.9" stroke-linejoin="round" points="465.9,714.9 464.6,714.4 464.7,714.7 465.6,714.1"/>
<polyline fill="none" stroke="#222" stroke-width="0.9" stroke-linejoin="round" points="466.0,732.2 467.3,733.2 467.2,734.4 467.7,733.1"/>
<polyline fill="none" stroke="#222" stroke-width="0.9" stroke-linejoin="round" points="456.7,703.0 456.9,703.1 456.6,703.9 456.2,702.9 455.9,704.0"/>
<ellipse cx="454.0" cy="732.1" rx="1.3" ry="0.6" fill="none" stroke="#222" stroke-width="0.8"/>
<ellipse cx="388.3" cy="590.5" rx="1.0" ry="0.5" fill="none" stroke="#222" stroke-width="0.8"/>
<ellipse cx="389.9" cy="594.8" rx="1.1" ry="0.7" fill="none" stroke="#222" stroke-width="0.8"/>
<ellipse cx="394.0" cy="598.7" rx="0.9" ry="1.1" fill="none" stroke="#222" stroke-width="0.8"/>
<ellipse cx="399.2" cy="599.7" rx="1.3" ry="1.0" fill="none" stroke="#222" stroke-width="0.8"/>
<polyline fill="none" stroke="#222" stroke-width="0.9" stroke-linejoin="round" points="757.4,734.6 757.6,733.1 758.0,731.8 758.0,731.6 757.6,733.0"/>
<polyline fill="none" stroke="#222" stroke-width="0.9" stroke-linejoin="round" points="778.0,737.4 779.2,736.4 778.3,737.9 777.6,737.9 777.6,736.6"/>
<ellipse cx="755.4" cy="737.9" rx="1.2" ry="0.8" fill="none" stroke="#222" stroke-width="0.8"/>
<ellipse cx="779.0" cy="740.6" rx="1.3" ry="0.7" fill="none" stroke="#222" stroke-width="0.8"/>
<polyline fill="none" stroke="#222" stroke-width="0.9" stroke-linejoin="round" points="779.4,706.5 780.6,705.1 781.1,703.8 780.4,704.5 779.9,704.5"/>
<ellipse cx="747.9" cy="740.5" rx="1.4" ry="0.7" fill="none" stroke="#222" stroke-width="0.8"/>
<ellipse cx="793.9" cy="714.8" rx="0.8" ry="0.6" fill="none" stroke="#222" stroke-width="0.8"/>
<polyline fill="none" stroke="#222" stroke-width="0.9" stroke-linejoin="round" points="746.4,738.7 746.7,739.1 746.0,739.7 745.6,740.4"/>
<polyline fill="none" stroke="#222" stroke-width="0.9" stroke-linejoin="round" points="789.5,701.7 790.3,701.2 791.3,701.3 790.9,701.3 790.5,700.4"/>
<polyline fill="none" stroke="#222" stroke-width="0.9" stroke-linejoin="round" points="757.3,722.4 757.1,722.9 756.4,723.1"/>
<ellipse cx="856.5" cy="409.7" rx="1.5" ry="0.9" fill="none" stroke="#222" stroke-width="0.8"/>
<ellipse cx="856.8" cy="414.7" rx="0.7" ry="1.0" fill="none" stroke="#222" stroke-width="0.8"/>
<polyline fill="none" stroke="#222" stroke-width="0.9" stroke-linejoin="round" points="862.0,407.4 863.1,407.7 863.2,409.0 862.9,408.4"/>
<ellipse cx="861.3" cy="415.7" rx="0.8" ry="0.6" fill="none" stroke="#222" stroke-width="0.8"/>
<ellipse cx="858.5" cy="406.4" rx="1.6" ry="0.7" fill="none" stroke="#222" stroke-width="0.8"/>
<ellipse cx="756.8" cy="443.0" rx="1.4" ry="0.6" fill="none" stroke="#222" stroke-width="0.8"/>
<ellipse cx="762.9" cy="444.5" rx="1.3" ry="0.9" fill="none" stroke="#222" stroke-width="0.8"/>
<polyline fill="none" stroke="#222" stroke-width="0.9" stroke-linejoin="round" points="769.4,442.2 768.0,441.6 766.8,443.0 766.5,442.9 767.8,442.9"/>
<polyline fill="none" stroke="#222" stroke-width="0.9" stroke-linejoin="round" points="760.3,444.1 761.5,443.5 760.2,444.5 759.8,444.9"/>
<polyline fill="none" stroke="#222" stroke-width="0.9" stroke-linejoin="round" points="769.5,331.9 768.9,332.3 769.8,332.1"/>
<ellipse cx="751.6" cy="329.1" rx="1.0" ry="1.2" fill="none" stroke="#222" stroke-width="0.8"/>
<polyline fill="none" stroke="#222" stroke-width="0.9" stroke-linejoin="round" points="766.6,330.4 765.7,331.7 766.8,331.2"/>
<ellipse cx="753.0" cy="335.5" rx="1.1" ry="0.8" fill="none" stroke="#222" stroke-width="0.8"/>
<ellipse cx="751.7" cy="343.5" rx="1.4" ry="0.8" fill="none" stroke="#222" stroke-width="0.8"/>
<polyline fill="none" stroke="#222" stroke-width="0.9" stroke-linejoin="round" points="745.1,317.6 745.9,317.1 744.7,316.3 745.0,316.3 743.7,314.9"/>
<ellipse cx="755.5" cy="316.0" rx="1.0" ry="0.5" fill="none" stroke="#222" stroke-width="0.8"/>
<ellipse cx="750.9" cy="308.4" rx="1.3" ry="0.7" fill="none" stroke="#222" stroke-width="0.8"/>
<ellipse cx="746.6" cy="314.1" rx="0.7" ry="0.8" fill="none" stroke="#222" stroke-width="0.8"/>
</g>
</g></g>
<path d="M159.5 87V749 M351.5 87V749 M542.5 87V749 M734.5 87V749 M925.5 87V749 M156 220.20H930 M156 462.90H930 M156 671.20H930" stroke="#808080" stroke-width="1" fill="none"/>
<rect x="156.5" y="87.3" width="772.7" height="661.6" fill="none" stroke="#111" stroke-width="1.4"/>
<path d="M137.8 125.00H156 M137.8 306.60H156 M137.8 462.90H156 M137.8 604.20H156 M137.8 736.50H156" stroke="#000" stroke-width="1.05" fill="none"/>
<path d="M159.5 749V767.5 M351.5 749V767.5 M542.5 749V767.5 M734.5 749V767.5 M925.5 749V767.5" stroke="#000" stroke-width="1.05" fill="none"/>
<text x="123.6" y="134.4" text-anchor="end" font-size="26.7" font-family="'Liberation Sans', Arial, Helvetica, sans-serif">50°N</text>
<text x="123.6" y="316.0" text-anchor="end" font-size="26.7" font-family="'Liberation Sans', Arial, Helvetica, sans-serif">40°N</text>
<text x="123.6" y="472.3" text-anchor="end" font-size="26.7" font-family="'Liberation Sans', Arial, Helvetica, sans-serif">30°N</text>
<text x="123.6" y="613.6" text-anchor="end" font-size="26.7" font-family="'Liberation Sans', Arial, Helvetica, sans-serif">20°N</text>
<text x="123.6" y="745.9" text-anchor="end" font-size="26.7" font-family="'Liberation Sans', Arial, Helvetica, sans-serif">10°N</text>
<text x="159.5" y="804.6" text-anchor="middle" font-size="26.7" font-family="'Liberation Sans', Arial, Helvetica, sans-serif">75°E</text>
<text x="351.0" y="804.6" text-anchor="middle" font-size="26.7" font-family="'Liberation Sans', Arial, Helvetica, sans-serif">90°E</text>
<text x="542.5" y="804.6" text-anchor="middle" font-size="26.7" font-family="'Liberation Sans', Arial, Helvetica, sans-serif">105°E</text>
<text x="734.0" y="804.6" text-anchor="middle" font-size="26.7" font-family="'Liberation Sans', Arial, Helvetica, sans-serif">120°E</text>
<text x="925.5" y="804.6" text-anchor="middle" font-size="26.7" font-family="'Liberation Sans', Arial, Helvetica, sans-serif">135°E</text>
<text transform="translate(542.5,43) scale(1,1.05)" text-anchor="middle" font-size="30.3" font-family="'Liberation Sans', Arial, Helvetica, sans-serif">2026-04-10 00:00:00 UTC</text>
<text transform="translate(542.5,76.6) scale(1,1.05)" text-anchor="middle" font-size="30.3" font-family="'Liberation Sans', Arial, Helvetica, sans-serif">2026-04-10 08:00:00 CST</text>
<text x="155" y="70.6" font-size="30.5" font-family="'Liberation Sans', Arial, Helvetica, sans-serif">O<tspan font-size="18.5" dy="6">3</tspan></text>
<text transform="translate(843.5,70.3) scale(1.2,1)" font-size="29" font-family="'Liberation Sans', Arial, Helvetica, sans-serif">μ</text>
<text x="862.8" y="70.3" font-size="32" font-family="'Liberation Sans', Arial, Helvetica, sans-serif">g</text>
<text x="887.6" y="70.3" font-size="31" font-family="'Liberation Sans', Arial, Helvetica, sans-serif">m</text>
<text transform="translate(912.8,56) scale(1.08,1)" font-size="18.3" font-family="'Liberation Sans', Arial, Helvetica, sans-serif">-3</text>
<rect x="166.60" y="857.3" width="53.76" height="59.0" fill="#ffffff"/>
<rect x="220.36" y="857.3" width="53.76" height="59.0" fill="#b4fcaa"/>
<rect x="274.12" y="857.3" width="53.76" height="59.0" fill="#0ee80e"/>
<rect x="327.88" y="857.3" width="53.76" height="59.0" fill="#17b617"/>
<rect x="381.64" y="857.3" width="53.76" height="59.0" fill="#f5e100"/>
<rect x="435.40" y="857.3" width="53.76" height="59.0" fill="#ffb45a"/>
<rect x="489.16" y="857.3" width="53.76" height="59.0" fill="#f7860a"/>
<rect x="542.92" y="857.3" width="53.76" height="59.0" fill="#ff1e0a"/>
<rect x="596.68" y="857.3" width="53.76" height="59.0" fill="#dc0010"/>
<rect x="650.44" y="857.3" width="53.76" height="59.0" fill="#bd4f9a"/>
<rect x="704.20" y="857.3" width="53.76" height="59.0" fill="#a00068"/>
<rect x="757.96" y="857.3" width="53.76" height="59.0" fill="#9c5444"/>
<rect x="811.72" y="857.3" width="53.76" height="59.0" fill="#8c2200"/>
<rect x="865.48" y="857.3" width="53.76" height="59.0" fill="#000000"/>
<path d="M166.60 857.3h752.64v59.0h-752.64z M220.36 857.3v59.0 M274.12 857.3v59.0 M327.88 857.3v59.0 M381.64 857.3v59.0 M435.40 857.3v59.0 M489.16 857.3v59.0 M542.92 857.3v59.0 M596.68 857.3v59.0 M650.44 857.3v59.0 M704.20 857.3v59.0 M757.96 857.3v59.0 M811.72 857.3v59.0 M865.48 857.3v59.0" stroke="#444" stroke-width="1" fill="none" stroke-opacity="0.8"/>
<text x="220.36" y="950.4" text-anchor="middle" font-size="22.9" font-family="'Liberation Sans', Arial, Helvetica, sans-serif">40</text>
<text x="274.12" y="950.4" text-anchor="middle" font-size="22.9" font-family="'Liberation Sans', Arial, Helvetica, sans-serif">80</text>
<text x="327.88" y="950.4" text-anchor="middle" font-size="22.9" font-family="'Liberation Sans', Arial, Helvetica, sans-serif">120</text>
<text x="381.64" y="950.4" text-anchor="middle" font-size="22.9" font-family="'Liberation Sans', Arial, Helvetica, sans-serif">160</text>
<text x="435.40" y="950.4" text-anchor="middle" font-size="22.9" font-family="'Liberation Sans', Arial, Helvetica, sans-serif">200</text>
<text x="489.16" y="950.4" text-anchor="middle" font-size="22.9" font-family="'Liberation Sans', Arial, Helvetica, sans-serif">250</text>
<text x="542.92" y="950.4" text-anchor="middle" font-size="22.9" font-family="'Liberation Sans', Arial, Helvetica, sans-serif">300</text>
<text x="596.68" y="950.4" text-anchor="middle" font-size="22.9" font-family="'Liberation Sans', Arial, Helvetica, sans-serif">350</text>
<text x="650.44" y="950.4" text-anchor="middle" font-size="22.9" font-family="'Liberation Sans', Arial, Helvetica, sans-serif">400</text>
<text x="704.20" y="950.4" text-anchor="middle" font-size="22.9" font-family="'Liberation Sans', Arial, Helvetica, sans-serif">600</text>
<text x="757.96" y="950.4" text-anchor="middle" font-size="22.9" font-family="'Liberation Sans', Arial, Helvetica, sans-serif">800</text>
<text x="811.72" y="950.4" text-anchor="middle" font-size="22.9" font-family="'Liberation Sans', Arial, Helvetica, sans-serif">900</text>
<text x="865.48" y="950.4" text-anchor="middle" font-size="22.9" font-family="'Liberation Sans', Arial, Helvetica, sans-serif">1000</text>
</svg></body></html>
